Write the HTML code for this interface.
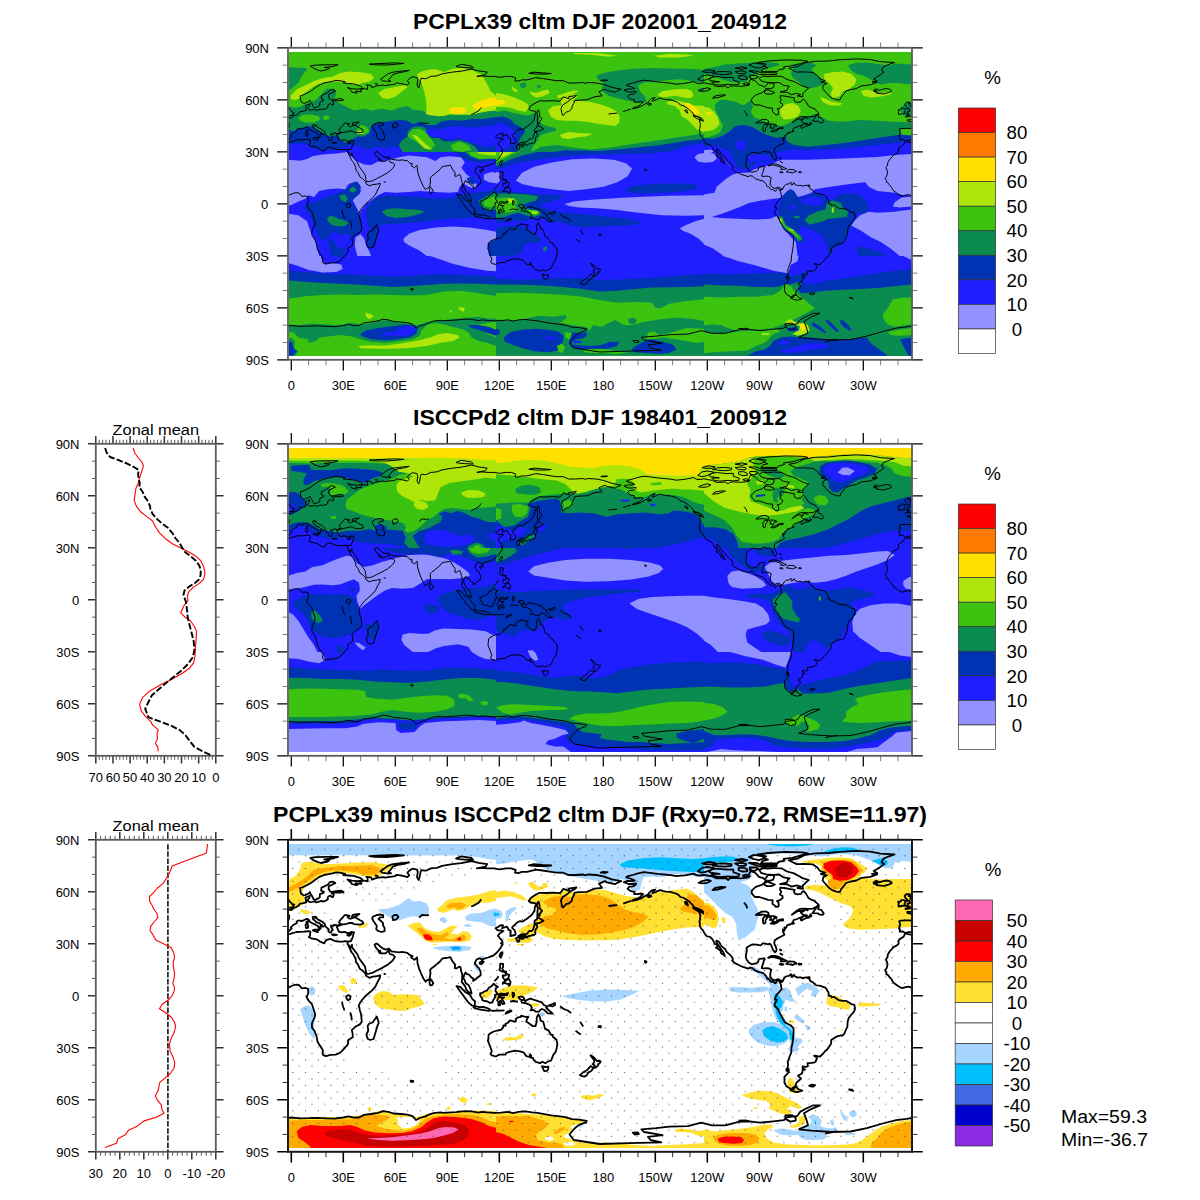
<!DOCTYPE html>
<html><head><meta charset="utf-8"><title>cltm DJF</title>
<style>html,body{margin:0;padding:0;background:#fff}svg{display:block}text{font-family:"Liberation Sans",sans-serif;fill:#000}.t12{font-size:13px}.t18{font-size:18.7px}.tt{font-size:22px;font-weight:bold}</style>
</head><body>
<svg width="1200" height="1200" viewBox="0 0 1200 1200">
<rect width="1200" height="1200" fill="#fff"/>
<clipPath id="dc0"><rect x="289" y="52" width="623" height="304"/></clipPath>
<clipPath id="tc0_00"><rect x="288" y="48" width="208" height="104"/></clipPath>
<g clip-path="url(#tc0_00)"><g clip-path="url(#dc0)">
<rect x="287.0" y="47.0" width="210.0" height="106.0" fill="#3CC30F"/>
<polygon points="288.0,106.1 294.9,107.8 301.9,106.1 307.1,103.5 315.7,100.0 322.7,93.1 327.0,88.7 334.8,88.7 336.5,93.1 333.9,100.0 340.0,103.5 346.9,106.9 353.9,110.4 364.3,108.7 371.2,110.4 381.6,108.7 392.0,110.4 398.9,107.8 407.6,106.1 412.8,109.5 421.5,110.4 430.1,113.9 438.8,116.5 447.5,114.7 454.4,115.6 463.1,114.7 471.7,114.7 478.7,113.0 487.3,111.3 496.0,110.4 496.0,152.0 288.0,152.0" fill="#0A8C50"/>
<polygon points="288.0,67.1 305.3,67.9 307.1,69.7 301.9,75.7 298.4,82.7 291.5,88.7 288.0,91.3" fill="#0A8C50"/>
<polygon points="288.0,129.5 293.2,131.2 298.4,128.6 305.3,126.9 312.3,126.0 315.7,129.5 322.7,132.9 329.6,136.4 338.3,134.7 340.0,139.9 345.2,142.5 352.1,139.9 357.3,136.4 364.3,136.4 369.5,132.9 371.2,126.0 378.1,122.5 385.1,121.7 392.0,120.8 400.7,119.9 407.6,120.8 412.8,124.3 419.7,121.7 426.7,125.1 435.3,125.1 440.5,121.7 450.9,119.9 461.3,120.8 471.7,119.1 482.1,119.1 496.0,117.3 496.0,152.0 288.0,152.0" fill="#0032B4"/>
<polygon points="288.0,145.1 298.4,143.3 308.8,144.2 310.5,147.7 322.7,150.3 333.1,149.4 340.0,148.5 353.9,144.2 360.8,147.7 369.5,149.4 378.1,146.8 385.1,148.5 392.0,146.8 398.9,147.7 402.4,152.0 288.0,152.0" fill="#1E1EFF"/>
<polygon points="424.9,131.2 431.9,128.6 440.5,129.5 447.5,126.9 457.9,126.0 468.3,127.7 478.7,126.9 496.0,125.1 496.0,145.1 487.3,147.7 478.7,145.1 471.7,142.5 464.8,139.9 457.9,138.1 450.9,139.9 444.0,138.1 437.1,137.3 430.1,136.4 424.9,134.7" fill="#1E1EFF"/>
<polygon points="398.9,145.1 402.4,139.9 407.6,136.4 407.6,131.2 412.8,126.9 421.5,126.0 426.7,129.5 424.9,134.7 431.9,138.1 438.8,138.1 444.0,141.6 450.9,141.6 459.6,139.9 468.3,142.5 475.2,146.8 478.7,152.0 402.4,152.0" fill="#0A8C50"/>
<polygon points="298.4,117.3 303.6,114.7 312.3,114.7 319.2,116.5 320.1,119.9 314.0,122.5 305.3,122.5 300.1,120.8" fill="#3CC30F"/>
<polygon points="322.7,116.5 328.7,115.6 329.6,119.1 324.4,119.9" fill="#3CC30F"/>
<polygon points="357.3,129.5 360.8,125.1 366.0,126.0 369.5,131.2 364.3,134.7 357.3,133.8" fill="#3CC30F"/>
<polygon points="356.5,131.2 362.5,130.9 362.9,133.8 357.3,134.1" fill="#AFE60A"/>
<polygon points="407.6,134.7 412.8,129.5 419.7,128.6 426.7,132.9 431.9,139.9 435.3,145.1 430.1,150.3 423.2,147.7 416.3,141.6 409.3,138.1" fill="#3CC30F"/>
<polygon points="411.9,134.7 416.3,135.5 426.7,145.1 431.9,149.4 424.9,148.5 418.0,141.6" fill="#AFE60A"/>
<polygon points="450.9,145.1 459.6,141.6 468.3,145.1 471.7,150.3 461.3,152.0 452.7,150.3" fill="#3CC30F"/>
<polygon points="291.5,94.8 296.7,89.6 305.3,85.3 314.0,80.9 322.7,78.3 333.1,76.6 340.0,73.1 348.7,71.4 360.8,72.3 371.2,74.0 373.8,78.3 369.5,81.8 362.5,82.7 357.3,85.3 348.7,83.5 340.0,81.8 331.3,81.8 322.7,82.7 315.7,85.3 310.5,88.7 303.6,93.9 300.1,98.3 294.9,100.0 290.6,99.1" fill="#AFE60A"/>
<polygon points="378.1,93.1 385.1,88.7 395.5,87.0 405.9,85.3 407.6,87.0 402.4,91.3 395.5,96.5 388.5,99.1 382.5,98.3" fill="#AFE60A"/>
<polygon points="417.1,74.0 421.5,71.4 428.4,69.7 435.3,69.1 444.0,71.9 452.7,68.8 461.3,67.4 471.7,70.2 480.4,74.0 483.9,78.3 487.3,84.4 490.8,91.3 496.0,95.7 496.0,110.4 487.3,111.3 478.7,113.0 471.7,114.7 461.3,114.7 450.9,113.9 444.0,115.9 437.1,115.9 430.1,115.3 425.8,113.9 426.7,106.9 425.8,100.0 424.1,91.3 421.5,82.7 418.0,77.5" fill="#AFE60A"/>
<polygon points="449.2,108.7 454.4,106.9 464.8,107.8 466.5,112.1 459.6,113.9 450.9,113.5" fill="#FFE100"/>
<polygon points="471.7,106.1 478.7,101.7 487.3,98.3 496.0,97.4 496.0,105.2 487.3,106.9 476.9,109.5" fill="#FFE100"/>
</g></g>
<clipPath id="tc0_10"><rect x="496" y="48" width="208" height="104"/></clipPath>
<g clip-path="url(#tc0_10)"><g clip-path="url(#dc0)">
<rect x="495.0" y="47.0" width="210.0" height="106.0" fill="#3CC30F"/>
<polygon points="596.5,75.7 603.5,73.1 617.3,70.5 634.7,68.8 652.0,67.9 669.3,68.5 686.7,68.8 704.0,69.7 704.0,82.7 695.3,81.8 686.7,80.1 678.0,79.2 669.3,80.1 660.7,80.9 652.0,81.8 643.3,82.7 638.1,85.3 639.9,91.3 645.1,96.5 646.8,101.7 641.6,103.5 632.9,101.7 624.3,100.0 617.3,98.3 608.7,95.7 603.5,92.2 601.7,87.9 603.5,82.7 598.3,80.1" fill="#0A8C50"/>
<polygon points="697.9,88.7 704.0,88.2 704.0,91.3 698.8,91.0" fill="#0A8C50"/>
<polygon points="496.0,93.1 502.9,93.9 511.6,96.5 520.3,100.0 527.2,103.5 528.9,107.8 525.5,112.1 518.5,110.4 509.9,107.8 502.9,106.9 496.0,106.9" fill="#AFE60A"/>
<polygon points="496.0,100.0 502.9,100.0 506.4,102.6 501.2,105.2 496.0,105.2" fill="#FFE100"/>
<polygon points="496.0,112.1 504.7,110.4 513.3,113.0 522.0,114.7 528.9,115.6 535.9,112.1 539.3,116.5 539.3,122.5 546.3,126.0 554.9,127.7 556.7,130.3 548.0,132.9 541.1,134.7 537.6,139.9 534.1,145.1 530.7,152.0 496.0,152.0" fill="#0A8C50"/>
<polygon points="496.0,117.3 502.9,116.5 509.9,119.1 515.1,124.3 522.0,127.7 525.5,131.2 520.3,138.1 518.5,145.1 516.8,152.0 496.0,152.0" fill="#0032B4"/>
<polygon points="496.0,122.5 506.7,125.0 515.1,131.7 516.6,141.6 506.7,148.4 501.2,152.0 496.0,152.0" fill="#1E1EFF"/>
<polygon points="530.7,152.0 541.1,146.8 556.7,145.1 574.0,147.7 591.3,149.4 608.7,147.7 626.0,145.1 643.3,142.5 660.7,139.9 678.0,137.3 695.3,134.7 704.0,133.8 704.0,152.0" fill="#0A8C50"/>
<polygon points="553.2,152.0 565.3,150.3 600.0,151.1 634.7,147.7 660.7,145.1 686.7,140.7 704.0,139.0 704.0,152.0" fill="#0032B4"/>
<polygon points="669.3,152.0 686.7,145.9 704.0,143.3 704.0,152.0" fill="#1E1EFF"/>
<polygon points="548.0,110.4 553.2,106.1 561.9,105.2 560.1,100.0 565.3,96.5 574.0,93.9 577.5,95.7 572.3,101.7 579.2,100.9 589.6,101.7 600.0,104.3 610.4,107.8 617.3,112.1 619.9,117.3 619.1,122.5 615.6,126.0 606.9,125.1 596.5,123.4 586.1,121.7 575.7,120.8 565.3,120.8 556.7,119.9 550.6,116.5" fill="#AFE60A"/>
<polygon points="560.1,134.7 568.8,132.1 579.2,132.9 593.1,133.8 586.1,136.4 577.5,137.3 568.8,139.0 561.9,138.1" fill="#AFE60A"/>
<polygon points="511.6,86.1 515.1,88.7 518.5,91.3 515.1,92.2 512.5,89.6" fill="#AFE60A"/>
<polygon points="529.8,91.3 535.9,93.1 542.8,90.5 548.0,89.6 549.7,93.1 542.8,96.5 535.9,97.4 531.5,94.8" fill="#AFE60A"/>
<polygon points="556.7,95.7 565.3,93.1 574.0,90.5 579.2,91.0 572.3,93.9 565.3,96.5 558.4,98.3" fill="#AFE60A"/>
<polygon points="574.0,52.9 600.0,53.2 617.3,55.8 608.7,56.7 593.1,54.9 574.0,54.1" fill="#AFE60A"/>
<polygon points="653.7,55.8 669.3,54.1 686.7,54.6 693.6,55.8 678.0,57.5 660.7,57.5" fill="#AFE60A"/>
<polygon points="657.2,94.8 662.4,91.3 672.8,89.6 686.7,88.7 691.9,91.3 693.6,95.7 690.1,98.3 683.2,97.4 676.3,95.7 669.3,96.5 662.4,97.4" fill="#AFE60A"/>
<polygon points="666.7,101.7 676.3,100.0 684.9,102.6 691.9,105.2 704.0,106.1 704.0,132.1 697.1,129.5 691.9,124.3 686.7,119.1 681.5,116.5 679.7,110.4 674.5,106.1 667.6,104.3" fill="#AFE60A"/>
<polygon points="684.9,102.6 690.1,103.5 697.1,108.7 699.7,113.9 695.3,114.7 690.1,110.4 685.8,106.1" fill="#FFE100"/>
<polygon points="520.3,83.5 524.6,82.3 526.9,85.3 523.7,88.7 520.3,87.0" fill="#0A8C50"/>
<polygon points="536.7,85.3 541.1,85.3 540.2,87.9 537.3,87.5" fill="#0A8C50"/>
</g></g>
<clipPath id="tc0_20"><rect x="704" y="48" width="208" height="104"/></clipPath>
<g clip-path="url(#tc0_20)"><g clip-path="url(#dc0)">
<rect x="703.0" y="47.0" width="210.0" height="106.0" fill="#3CC30F"/>
<polygon points="704.0,68.8 714.4,67.1 724.8,64.5 738.7,63.6 752.5,62.7 762.9,61.9 776.8,62.7 780.3,64.5 773.3,67.1 762.9,69.7 756.0,74.0 749.1,77.5 747.3,80.9 738.7,82.7 730.0,81.8 721.3,79.2 714.4,75.7 704.0,74.0" fill="#0A8C50"/>
<polygon points="790.7,64.5 801.1,63.6 811.5,62.7 816.7,65.3 811.5,68.8 814.9,74.0 821.9,79.2 823.6,84.4 816.7,87.0 808.0,88.7 802.8,85.3 797.6,80.9 792.4,77.5 790.7,72.3 794.1,68.8" fill="#0A8C50"/>
<polygon points="847.9,65.3 856.5,62.7 868.7,62.7 880.8,64.5 891.2,65.3 894.7,63.6 912.0,64.5 912.0,84.4 901.6,83.5 891.2,82.7 880.8,84.4 875.6,82.7 870.4,79.2 863.5,75.7 856.5,74.0 851.3,70.5" fill="#0A8C50"/>
<polygon points="714.4,105.2 719.6,100.0 726.5,100.0 735.2,101.7 743.9,105.2 750.8,100.0 753.4,105.2 750.8,112.1 754.3,117.3 762.9,120.8 773.3,124.3 782.0,126.0 794.1,120.8 801.1,117.3 808.0,116.5 814.9,113.9 821.9,117.3 828.8,120.8 842.7,121.7 860.0,119.9 877.3,120.8 894.7,121.7 912.0,122.5 912.0,152.0 704.0,152.0 704.0,138.1 710.9,136.4 719.6,132.9 723.1,126.0 719.6,119.1 716.1,112.1" fill="#0A8C50"/>
<polygon points="704.0,138.1 712.7,139.0 721.3,136.4 730.0,131.2 735.2,126.0 743.9,125.1 752.5,126.9 759.5,131.2 766.4,134.7 776.8,138.1 785.5,136.4 787.2,141.6 794.1,145.1 808.0,146.8 825.3,145.1 842.7,143.3 860.0,140.7 877.3,138.1 894.7,135.5 912.0,132.9 912.0,152.0 704.0,152.0" fill="#0032B4"/>
<polygon points="735.2,145.1 738.7,140.7 743.9,140.7 746.5,145.1 743.9,150.3 738.7,150.6" fill="#1E1EFF"/>
<polygon points="704.0,146.8 714.4,145.1 726.5,150.3 731.7,152.0 704.0,152.0" fill="#1E1EFF"/>
<polygon points="778.5,152.0 790.7,149.4 808.0,150.3 842.7,148.5 877.3,145.1 899.9,142.5 912.0,139.9 912.0,152.0" fill="#1E1EFF"/>
<polygon points="704.0,150.3 710.9,149.4 714.4,152.0 704.0,152.0" fill="#9191FF"/>
<polygon points="704.0,106.9 709.2,107.8 714.4,112.1 717.9,117.3 719.6,124.3 714.4,129.5 707.5,131.2 704.0,131.2" fill="#AFE60A"/>
<polygon points="706.6,112.1 710.9,112.1 711.8,114.7 707.5,115.3" fill="#FFE100"/>
<polygon points="780.3,108.7 785.5,104.3 792.4,103.1 798.5,106.1 800.7,111.3 797.6,116.5 790.7,119.1 783.7,119.4 780.3,114.7" fill="#AFE60A"/>
<polygon points="823.6,74.0 832.3,72.3 842.7,71.4 851.3,74.0 856.5,79.2 854.8,84.4 849.6,88.7 842.7,91.3 839.2,96.5 832.3,98.3 830.5,93.9 833.1,87.9 828.8,82.7 824.5,79.2" fill="#AFE60A"/>
<polygon points="820.1,96.5 825.3,99.1 832.3,101.7 842.7,103.5 839.2,105.5 828.8,105.2 822.7,101.7" fill="#AFE60A"/>
<polygon points="860.9,91.3 866.9,89.6 873.9,91.3 879.1,93.4 887.7,92.2 892.1,91.3 890.3,94.5 880.8,96.5 870.4,97.4 863.5,95.7" fill="#AFE60A"/>
<polygon points="899.9,108.7 905.1,103.5 912.0,101.7 912.0,117.3 903.3,115.6" fill="#0A8C50"/>
<polygon points="900.7,129.5 912.0,128.6 912.0,135.5 901.6,134.7" fill="#3CC30F"/>
</g></g>
<clipPath id="tc0_01"><rect x="288" y="152" width="208" height="104"/></clipPath>
<g clip-path="url(#tc0_01)"><g clip-path="url(#dc0)">
<rect x="287.0" y="151.0" width="210.0" height="106.0" fill="#1E1EFF"/>
<polygon points="288.0,159.8 300.1,160.7 307.1,158.9 312.3,156.3 322.7,154.6 336.5,153.4 347.8,152.0 350.4,155.5 357.3,161.5 364.3,164.5 371.2,165.0 378.1,161.5 385.1,160.7 392.0,159.3 398.9,157.2 409.3,155.5 426.7,157.2 435.3,161.0 440.5,157.2 449.2,156.3 461.3,157.2 464.8,162.4 461.3,167.6 466.5,174.5 471.7,178.0 476.9,184.9 474.3,188.4 468.3,186.7 463.1,183.2 459.6,186.7 457.9,191.9 449.2,192.7 435.3,191.9 419.7,191.0 409.3,191.9 395.5,192.7 385.1,191.9 378.1,195.3 371.2,200.5 366.0,204.0 360.8,210.9 359.1,216.1 357.3,209.2 353.9,202.3 350.4,198.8 355.6,195.3 360.8,191.9 359.9,184.9 355.6,181.5 348.7,184.1 345.2,189.3 336.5,188.4 327.9,189.3 319.2,191.0 314.0,197.1 308.8,195.3 305.3,198.8 298.4,201.4 291.5,204.9 288.0,205.7" fill="#9191FF"/>
<polygon points="288.0,213.5 298.4,215.3 307.1,221.3 310.5,231.7 315.7,242.1 319.2,256.0 288.0,256.0" fill="#9191FF"/>
<polygon points="403.3,238.7 409.3,233.5 419.7,230.0 435.3,227.4 452.7,226.5 470.0,227.4 487.3,230.0 496.0,231.7 496.0,256.0 426.7,256.0 419.7,250.8 409.3,245.6 404.1,242.1" fill="#9191FF"/>
<polygon points="355.6,236.9 360.8,234.3 364.3,238.7 366.0,245.6 369.5,251.7 371.2,256.0 357.3,256.0 354.7,245.6" fill="#9191FF"/>
<polygon points="483.9,174.5 490.8,171.9 496.0,172.8 496.0,183.2 489.1,182.3 483.9,179.7" fill="#9191FF"/>
<polygon points="466.5,178.0 471.7,177.1 476.1,181.5 473.5,184.9 468.3,182.3" fill="#0032B4"/>
<polygon points="303.6,207.5 308.8,204.0 317.5,200.5 327.9,197.1 336.5,193.6 346.9,189.3 352.1,183.2 357.3,181.5 360.8,186.7 359.9,193.6 353.9,198.8 352.1,202.3 357.3,209.2 360.8,217.9 362.5,228.3 357.3,233.5 352.1,236.9 348.7,242.1 345.2,249.1 343.5,256.0 331.3,256.0 329.6,249.1 328.7,242.1 329.6,235.2 326.1,238.7 320.9,240.4 317.5,233.5 314.0,224.8 310.5,216.1 307.1,210.9" fill="#0032B4"/>
<polygon points="327.0,217.9 331.3,215.3 338.3,218.7 345.2,220.5 348.7,223.1 345.2,225.7 338.3,226.5 331.3,224.8 327.9,221.3" fill="#0A8C50"/>
<polygon points="339.1,195.3 345.2,194.5 347.8,198.8 345.2,202.3 340.9,199.7" fill="#0A8C50"/>
<polygon points="349.5,188.4 353.9,186.7 356.5,190.1 353.0,192.7 350.1,191.5" fill="#0A8C50"/>
<polygon points="329.6,233.5 336.5,232.6 341.7,235.2 346.9,233.5 350.4,236.9 346.9,243.9 343.5,249.1 338.3,248.2 334.8,242.1 330.5,238.7" fill="#1E1EFF"/>
<polygon points="366.0,209.2 371.2,202.3 378.1,197.1 388.5,195.3 402.4,196.2 419.7,197.1 437.1,198.8 452.7,197.9 461.3,194.5 471.7,192.7 482.1,191.9 496.0,189.3 496.0,219.6 485.6,218.7 475.2,217.0 461.3,217.9 447.5,218.7 433.6,220.5 419.7,222.2 405.9,223.1 392.0,223.9 381.6,224.8 374.7,228.3 369.5,228.3 366.9,221.3" fill="#0032B4"/>
<polygon points="381.6,211.8 386.8,208.9 395.5,208.3 409.3,209.2 419.7,210.1 424.9,211.8 418.0,214.4 407.6,217.0 395.5,217.9 386.8,216.1" fill="#0A8C50"/>
<polygon points="366.9,233.5 371.2,228.3 376.4,226.5 379.0,231.7 376.4,240.4 372.9,246.5 368.6,247.3 366.9,240.4" fill="#0032B4"/>
<polygon points="478.7,200.5 483.9,197.9 490.8,193.6 496.0,192.7 496.0,209.2 490.8,210.9 483.9,209.2 479.5,204.9" fill="#0A8C50"/>
<polygon points="483.0,202.3 487.3,198.8 493.4,196.2 496.0,196.2 496.0,205.7 489.1,207.5 484.7,205.7" fill="#3CC30F"/>
<polygon points="454.4,152.0 461.3,157.2 468.3,160.7 478.7,162.4 487.3,161.5 496.0,160.7 496.0,152.0" fill="#0032B4"/>
<polygon points="464.8,152.0 470.0,156.3 478.7,159.8 487.3,158.9 496.0,157.2 496.0,152.0" fill="#0A8C50"/>
<polygon points="468.3,152.0 471.7,156.3 480.4,158.9 489.1,158.6 496.0,158.9 496.0,152.0" fill="#3CC30F"/>
<polygon points="476.9,152.0 479.5,154.1 487.3,155.1 496.0,155.5 496.0,152.0" fill="#AFE60A"/>
<polygon points="487.3,243.9 492.5,240.4 496.0,239.5 496.0,256.0 489.1,256.0" fill="#0032B4"/>
</g></g>
<clipPath id="tc0_11"><rect x="496" y="152" width="208" height="104"/></clipPath>
<g clip-path="url(#tc0_11)"><g clip-path="url(#dc0)">
<rect x="495.0" y="151.0" width="210.0" height="106.0" fill="#1E1EFF"/>
<polygon points="515.9,180.6 522.0,172.8 534.1,166.7 551.5,162.4 572.3,159.3 593.1,158.6 613.9,159.8 626.0,163.3 632.1,168.5 627.7,176.3 617.3,182.3 603.5,186.7 586.1,189.3 568.8,191.0 551.5,189.3 534.1,186.7 522.0,184.1" fill="#9191FF"/>
<polygon points="564.5,204.0 574.0,201.4 591.3,199.7 617.3,197.9 643.3,196.7 669.3,195.7 704.0,195.3 704.0,215.3 686.7,215.8 662.4,215.3 638.1,212.7 617.3,210.1 596.5,208.3 579.2,207.5 568.8,206.1" fill="#9191FF"/>
<polygon points="679.7,228.3 686.7,224.8 695.3,221.3 704.0,218.7 704.0,243.9 698.8,238.7 690.1,233.5 683.2,230.9" fill="#9191FF"/>
<polygon points="694.5,157.2 697.9,154.1 704.0,152.9 704.0,162.4 697.9,161.5" fill="#9191FF"/>
<polygon points="496.0,171.9 500.3,172.8 499.5,181.5 496.0,184.1" fill="#9191FF"/>
<polygon points="496.0,232.6 498.6,233.5 497.7,238.7 496.0,238.7" fill="#9191FF"/>
<polygon points="496.0,152.0 658.9,152.0 652.0,153.4 617.3,154.1 582.7,155.1 556.7,157.2 530.7,160.7 513.3,164.1 502.9,167.6 496.0,169.3" fill="#0032B4"/>
<polygon points="496.0,152.0 537.6,152.0 522.0,155.5 509.9,159.8 501.2,164.1 496.0,165.9" fill="#0A8C50"/>
<polygon points="496.0,152.0 518.5,152.0 509.9,155.5 501.2,160.7 496.0,162.4" fill="#3CC30F"/>
<polygon points="499.5,152.0 513.3,152.0 506.4,155.5 500.3,158.1" fill="#AFE60A"/>
<polygon points="625.1,189.3 634.7,185.8 652.0,184.1 669.3,183.5 686.7,183.2 697.1,184.9 695.3,189.3 678.0,191.9 660.7,192.7 643.3,193.3 631.2,192.7" fill="#0032B4"/>
<polygon points="496.0,190.1 506.4,191.0 522.0,192.7 539.3,194.5 556.7,195.0 565.3,196.2 554.9,200.5 544.5,203.1 539.3,205.7 548.0,209.2 556.7,211.8 568.8,212.7 586.1,214.4 608.7,217.0 631.2,219.6 641.6,222.2 634.7,224.8 617.3,225.7 600.0,226.5 582.7,227.4 568.8,224.8 558.4,221.3 553.2,223.1 548.0,220.5 541.1,217.9 530.7,219.6 522.0,221.3 513.3,220.5 506.4,221.3 496.0,223.1" fill="#0032B4"/>
<polygon points="496.0,193.6 509.9,193.6 527.2,194.5 538.5,196.2 535.9,200.5 527.2,203.1 522.0,205.7 530.7,209.2 539.3,210.9 541.1,214.4 534.1,217.0 525.5,215.3 518.5,212.7 511.6,214.4 504.7,217.0 496.0,217.9" fill="#0A8C50"/>
<polygon points="496.0,198.8 504.7,197.4 515.1,198.5 517.7,202.3 515.1,205.7 518.5,210.1 511.6,211.8 504.7,212.7 499.5,210.9 496.0,211.8" fill="#3CC30F"/>
<polygon points="528.1,210.1 535.9,210.1 539.3,212.7 535.0,215.3 528.9,213.5" fill="#3CC30F"/>
<polygon points="507.3,198.5 513.3,198.5 514.2,202.3 509.0,203.1" fill="#AFE60A"/>
<polygon points="531.5,211.3 537.6,211.8 537.3,214.1 532.1,213.5" fill="#AFE60A"/>
<polygon points="496.0,228.3 504.7,226.5 516.8,225.7 527.2,228.3 535.9,233.5 541.1,238.7 539.3,243.9 530.7,242.1 523.7,245.6 522.0,252.5 513.3,256.0 496.0,256.0" fill="#0032B4"/>
<polygon points="542.8,247.3 547.1,246.5 546.3,250.8 543.1,251.1" fill="#0A8C50"/>
</g></g>
<clipPath id="tc0_21"><rect x="704" y="152" width="208" height="104"/></clipPath>
<g clip-path="url(#tc0_21)"><g clip-path="url(#dc0)">
<rect x="703.0" y="151.0" width="210.0" height="106.0" fill="#9191FF"/>
<polygon points="714.4,152.0 912.0,152.0 912.0,154.1 894.7,155.1 877.3,156.9 842.7,158.6 808.0,159.8 782.0,159.8 776.8,161.5 769.9,165.0 761.2,167.6 754.3,169.3 749.1,172.5 738.7,173.1 733.5,169.3 728.3,164.1 721.3,157.2" fill="#1E1EFF"/>
<polygon points="730.0,152.0 775.1,152.0 775.9,157.2 773.3,159.8 764.7,161.5 756.0,162.4 752.5,166.7 747.3,169.3 740.4,169.3 736.1,165.9 733.5,158.9" fill="#0032B4"/>
<polygon points="747.3,156.3 756.0,154.6 769.9,155.5 771.6,158.9 762.9,160.7 754.3,161.5 749.1,162.4 746.5,159.8" fill="#1E1EFF"/>
<polygon points="704.0,152.0 714.4,152.0 721.3,157.2 728.3,164.1 733.5,169.3 738.7,173.1 733.3,174.2 726.7,178.3 716.7,186.7 714.4,192.7 704.0,194.5" fill="#1E1EFF"/>
<polygon points="704.0,152.0 710.9,152.0 716.1,155.5 716.7,158.9 712.7,162.1 704.0,162.7" fill="#9191FF"/>
<polygon points="711.8,217.0 724.8,212.7 738.7,207.5 749.1,203.1 761.2,200.5 773.3,198.8 780.3,197.9 785.5,192.7 790.7,189.3 794.1,191.0 797.6,197.1 804.5,195.3 811.5,192.7 814.9,189.3 825.3,187.5 842.7,184.9 856.5,183.2 865.2,182.3 868.7,186.7 877.3,191.0 894.7,192.7 903.3,195.3 912.0,195.3 912.0,196.7 901.6,197.4 894.7,202.3 892.9,206.6 899.9,207.5 912.0,206.6 912.0,209.2 894.7,211.8 877.3,212.7 868.7,211.8 860.0,215.3 854.8,220.5 851.3,225.7 860.0,230.0 870.4,236.9 880.8,242.1 891.2,249.1 899.9,256.0 828.8,256.0 797.6,256.0 796.7,249.1 795.9,242.1 790.7,236.9 783.7,228.3 778.5,219.6 776.8,216.1 769.9,218.7 756.0,219.6 738.7,218.7 721.3,217.9" fill="#1E1EFF"/>
<polygon points="782.9,197.1 787.2,191.0 790.7,189.3 794.1,191.9 798.5,197.9 806.3,196.2 814.9,192.7 821.9,195.3 827.1,200.5 832.3,199.7 840.9,193.6 851.3,193.6 860.0,195.3 866.9,202.3 869.5,209.2 865.2,212.7 856.5,213.5 854.8,219.6 851.3,224.8 847.9,233.5 844.4,242.1 837.5,246.5 832.3,250.8 828.8,256.0 827.1,250.8 827.9,245.6 825.3,242.1 821.9,235.2 814.9,231.7 808.0,228.3 801.1,225.7 797.6,233.5 802.8,238.7 804.5,242.1 799.3,243.0 794.1,235.2 788.9,230.0 783.7,224.8 780.3,217.9 778.5,210.9 780.3,202.3" fill="#0032B4"/>
<polygon points="801.1,199.7 808.0,197.4 814.9,196.2 821.9,198.8 823.6,204.0 814.9,205.7 808.0,204.0 802.8,204.0" fill="#1E1EFF"/>
<polygon points="788.9,205.7 794.1,204.9 797.6,208.3 792.4,210.1" fill="#1E1EFF"/>
<polygon points="804.5,220.5 808.0,216.1 816.7,211.8 825.3,209.2 827.1,203.1 832.3,200.5 840.9,203.1 842.7,207.5 847.9,211.8 847.0,217.0 837.5,217.9 828.8,218.7 823.6,221.3 816.7,223.1 809.7,224.8" fill="#0A8C50"/>
<polygon points="794.1,216.1 799.3,216.1 799.7,217.9 794.5,218.2" fill="#0A8C50"/>
<polygon points="778.9,215.8 782.3,216.5 785.8,224.5 791.0,227.9 796.2,231.4 801.4,236.6 802.5,239.7 798.5,241.6 793.8,235.5 786.9,230.3 780.6,223.4" fill="#0A8C50"/>
<polygon points="780.3,217.5 781.8,218.2 784.8,225.5 790.1,229.1 795.3,232.6 799.7,237.6 799.0,239.0 794.3,234.9 788.2,230.5 782.2,224.1" fill="#3CC30F"/>
<polygon points="779.7,217.9 781.5,218.7 782.3,222.2 780.3,221.3" fill="#AFE60A"/>
<polygon points="788.9,228.3 793.3,229.7 794.1,231.4 789.8,230.3" fill="#AFE60A"/>
<polygon points="831.9,207.5 833.7,207.5 833.7,212.7 831.9,212.7" fill="#AFE60A"/>
<polygon points="856.5,248.2 860.0,246.5 870.4,249.1 880.8,252.5 887.7,256.0 860.0,256.0 857.4,252.5" fill="#0032B4"/>
<polygon points="704.0,244.7 712.7,248.2 721.3,254.3 723.1,256.0 704.0,256.0" fill="#1E1EFF"/>
</g></g>
<clipPath id="tc0_02"><rect x="288" y="256" width="208" height="104"/></clipPath>
<g clip-path="url(#tc0_02)"><g clip-path="url(#dc0)">
<rect x="287.0" y="255.0" width="210.0" height="106.0" fill="#3CC30F"/>
<polygon points="288.0,256.0 496.0,256.0 496.0,295.9 478.7,293.3 461.3,290.7 444.0,291.5 435.3,293.3 426.7,295.0 409.3,295.5 392.0,295.0 374.7,294.5 357.3,295.0 340.0,294.5 322.7,295.0 305.3,296.2 296.7,297.6 288.0,298.5" fill="#0A8C50"/>
<polygon points="288.0,256.0 496.0,256.0 496.0,284.6 478.7,283.7 461.3,283.4 444.0,283.7 426.7,285.1 409.3,286.3 392.0,286.9 374.7,285.8 357.3,284.6 340.0,283.7 322.7,282.9 305.3,281.7 288.0,280.3" fill="#0032B4"/>
<polygon points="288.0,256.0 496.0,256.0 496.0,275.9 478.7,275.4 461.3,274.7 444.0,274.2 426.7,274.7 409.3,275.9 392.0,276.5 374.7,275.4 357.3,274.7 340.0,274.2 322.7,273.3 305.3,271.9 288.0,270.7" fill="#1E1EFF"/>
<polygon points="288.0,262.9 296.7,265.5 308.8,269.9 322.7,272.5 336.5,271.9 342.6,269.0 341.7,264.7 333.1,262.9 325.3,263.8 321.8,259.5 320.9,256.0 288.0,256.0" fill="#9191FF"/>
<polygon points="430.1,256.0 440.5,259.5 452.7,263.8 470.0,268.1 487.3,270.7 496.0,271.3 496.0,256.0" fill="#9191FF"/>
<polygon points="325.3,263.8 321.8,259.5 320.9,256.0 345.2,256.0 344.3,260.3 338.3,262.9 331.3,263.3" fill="#1E1EFF"/>
<polygon points="336.5,256.0 343.5,256.0 340.9,258.1" fill="#0032B4"/>
<polygon points="288.0,324.5 298.4,325.3 310.5,323.6 326.1,324.5 340.0,325.3 350.4,322.7 360.8,324.5 369.5,323.6 378.1,321.0 388.5,320.1 398.9,322.7 409.3,323.6 416.3,325.3 424.9,322.7 437.1,321.0 450.9,319.3 464.8,318.1 478.7,316.7 487.3,318.4 496.0,318.7 496.0,321.9 487.3,322.7 478.7,324.5 470.0,325.3 461.3,327.1 450.9,325.3 444.0,324.5 435.3,322.7 426.7,325.3 421.5,330.5 419.7,335.7 412.8,339.2 400.7,340.9 385.1,342.7 371.2,341.8 360.8,339.2 352.1,336.6 340.0,334.9 327.9,336.6 319.2,337.5 315.7,340.9 308.8,342.7 307.9,339.2 298.4,337.5 293.2,332.3 288.0,332.3" fill="#0A8C50"/>
<polygon points="444.0,324.5 454.4,322.7 468.3,324.5 478.7,328.8 487.3,334.0 496.0,337.5 496.0,346.1 487.3,342.7 478.7,340.9 471.7,337.5 468.3,332.3 461.3,328.8 452.7,327.1" fill="#0A8C50"/>
<polygon points="468.3,325.3 478.7,325.0 489.1,327.1 496.0,329.7 496.0,335.7 487.3,333.1 478.7,329.7 471.7,327.9" fill="#0032B4"/>
<polygon points="359.9,334.0 366.0,330.5 378.1,327.9 392.0,326.2 405.9,324.5 414.5,325.3 418.0,328.8 416.3,334.0 409.3,337.5 398.9,339.2 385.1,340.4 371.2,339.2 362.5,336.6" fill="#0032B4"/>
<polygon points="381.6,334.0 386.8,332.3 395.5,331.4 398.9,327.9 407.6,326.2 414.5,327.1 415.4,331.4 409.3,334.9 400.7,336.1 392.0,335.4 385.1,335.7" fill="#1E1EFF"/>
<polygon points="288.0,339.2 291.5,337.5 294.9,340.9 294.1,347.9 298.4,351.3 294.9,355.7 288.0,355.7" fill="#0A8C50"/>
<polygon points="288.0,340.9 292.3,342.7 293.2,347.9 296.7,351.3 293.2,355.7 288.0,355.7" fill="#0032B4"/>
<polygon points="358.2,346.1 371.2,345.3 385.1,345.8 400.7,343.5 416.3,340.9 430.1,337.5 438.8,334.0 447.5,333.1 457.9,334.9 459.6,337.5 452.7,340.9 440.5,342.7 426.7,346.1 409.3,347.9 392.0,348.7 374.7,348.7 360.8,348.2" fill="#AFE60A"/>
<polygon points="365.1,312.3 373.8,315.8 369.5,319.3 366.3,316.7" fill="#AFE60A"/>
<polygon points="458.7,307.1 464.8,308.0 463.9,311.8 459.6,310.1" fill="#AFE60A"/>
<polygon points="449.2,310.1 451.8,311.1 450.9,312.9" fill="#AFE60A"/>
</g></g>
<clipPath id="tc0_12"><rect x="496" y="256" width="208" height="104"/></clipPath>
<g clip-path="url(#tc0_12)"><g clip-path="url(#dc0)">
<rect x="495.0" y="255.0" width="210.0" height="106.0" fill="#3CC30F"/>
<polygon points="496.0,256.0 704.0,256.0 704.0,299.3 686.7,301.1 669.3,303.7 660.7,308.0 655.5,308.0 652.0,302.8 634.7,301.9 617.3,302.8 600.0,300.2 582.7,296.7 565.3,295.0 548.0,294.1 530.7,293.3 513.3,292.7 496.0,293.3" fill="#0A8C50"/>
<polygon points="496.0,256.0 704.0,256.0 704.0,286.3 686.7,286.9 669.3,287.2 652.0,287.5 634.7,288.9 617.3,290.7 600.0,291.5 582.7,288.9 565.3,287.2 548.0,285.8 530.7,285.1 513.3,284.6 496.0,284.6" fill="#0032B4"/>
<polygon points="496.0,256.0 704.0,256.0 704.0,274.2 686.7,275.1 669.3,276.5 652.0,277.7 634.7,278.5 617.3,279.4 600.0,280.3 582.7,278.2 565.3,277.7 548.0,278.5 530.7,279.4 513.3,279.4 496.0,278.5" fill="#1E1EFF"/>
<polygon points="580.9,282.0 586.1,279.4 593.1,275.1 598.3,270.7 600.0,273.3 594.8,278.5 587.9,283.7 582.7,285.5" fill="#0032B4"/>
<polygon points="496.0,319.3 509.9,321.0 522.0,319.3 539.3,315.8 553.2,316.7 565.3,314.9 567.1,317.5 560.1,322.7 572.3,325.3 586.1,327.1 589.6,330.5 593.1,325.3 601.7,327.1 608.7,322.7 615.6,320.1 622.5,324.5 627.7,325.3 634.7,324.5 643.3,321.9 660.7,319.3 678.0,317.5 695.3,319.3 704.0,321.0 704.0,328.8 686.7,327.9 678.0,330.5 669.3,333.1 658.9,334.9 652.0,333.1 648.5,336.6 641.6,338.3 652.0,339.2 662.4,337.5 676.3,339.2 686.7,340.9 697.1,342.7 704.0,341.8 704.0,355.7 496.0,355.7" fill="#0A8C50"/>
<polygon points="582.7,350.5 593.1,348.7 606.9,349.6 617.3,351.3 627.7,352.2 617.3,353.9 600.0,353.1 586.1,352.7" fill="#3CC30F"/>
<polygon points="665.9,337.5 678.0,336.6 690.1,338.3 704.0,339.2 704.0,341.8 697.1,342.7 686.7,340.9 676.3,339.2" fill="#3CC30F"/>
<polygon points="564.5,332.3 572.3,333.1 573.1,338.3 568.8,339.2 565.3,337.5" fill="#3CC30F"/>
<polygon points="556.7,346.1 561.9,343.5 565.3,347.0 562.7,353.1 557.5,351.3" fill="#3CC30F"/>
<polygon points="648.5,332.3 654.6,331.4 658.9,334.9 652.0,337.5 646.8,336.6" fill="#3CC30F"/>
<polygon points="503.8,337.5 509.9,332.3 522.0,329.7 535.9,328.8 548.0,329.7 558.4,331.4 563.6,335.7 562.7,342.7 556.7,346.1 558.4,350.5 548.0,352.2 534.1,351.3 522.0,347.9 511.6,344.4 504.7,341.8" fill="#0032B4"/>
<polygon points="544.5,337.5 549.7,336.1 554.9,337.5 554.1,339.5 548.0,340.1" fill="#1E1EFF"/>
<polygon points="496.0,328.8 499.5,329.7 499.5,334.0 496.0,334.9" fill="#0032B4"/>
<polygon points="572.3,332.3 579.2,333.1 586.1,332.3 587.0,335.7 582.7,338.3 577.5,339.2 572.3,341.8 572.3,344.4 579.2,345.3 589.6,346.1 600.0,345.3 610.4,341.8 619.1,341.8 617.3,346.1 606.9,348.7 593.1,348.7 582.7,349.6 572.3,347.9 568.8,343.5 570.5,337.5" fill="#0032B4"/>
<polygon points="573.1,340.9 580.9,340.6 581.8,342.7 574.0,343.2" fill="#1E1EFF"/>
<polygon points="631.2,349.6 638.1,344.4 645.1,340.9 652.0,339.2 662.4,341.8 672.8,344.4 676.3,349.6 669.3,353.1 658.9,353.9 645.1,353.1 634.7,352.2" fill="#0032B4"/>
<polygon points="641.6,350.5 646.8,349.6 648.5,351.7 643.3,352.2" fill="#1E1EFF"/>
<polygon points="627.7,319.3 632.9,317.5 637.3,320.1 634.7,324.5 629.5,323.6" fill="#0A8C50"/>
</g></g>
<clipPath id="tc0_22"><rect x="704" y="256" width="208" height="104"/></clipPath>
<g clip-path="url(#tc0_22)"><g clip-path="url(#dc0)">
<rect x="703.0" y="255.0" width="210.0" height="106.0" fill="#0A8C50"/>
<polygon points="704.0,296.7 721.3,297.6 738.7,296.7 756.0,296.7 773.3,295.0 780.3,290.7 785.5,284.6 790.7,285.5 794.1,290.7 801.1,296.7 808.0,302.8 814.9,308.0 808.0,312.3 801.1,315.8 794.1,319.3 787.2,322.7 780.3,325.3 773.3,327.9 756.0,329.7 738.7,330.5 730.0,328.8 721.3,325.3 712.7,324.5 704.0,325.3" fill="#3CC30F"/>
<polygon points="704.0,332.3 714.4,334.0 724.8,333.1 738.7,331.4 756.0,330.5 776.8,328.8 780.3,331.4 773.3,334.0 769.9,337.5 764.7,342.7 756.0,346.1 747.3,350.5 730.0,351.3 712.7,352.2 704.0,353.1" fill="#3CC30F"/>
<polygon points="882.5,314.9 887.7,308.0 892.9,299.3 903.3,297.6 912.0,297.6 912.0,324.5 903.3,325.3 894.7,327.1 887.7,324.5 884.3,320.1" fill="#3CC30F"/>
<polygon points="887.7,332.3 898.1,329.7 912.0,327.9 912.0,334.9 899.9,335.7 891.2,334.9" fill="#3CC30F"/>
<polygon points="704.0,256.0 912.0,256.0 912.0,284.6 894.7,286.3 877.3,288.1 860.0,288.9 842.7,289.8 825.3,290.7 811.5,292.4 801.1,293.3 797.6,288.9 801.1,283.7 797.6,282.0 790.7,284.6 785.5,283.7 780.3,286.3 773.3,287.2 756.0,286.9 738.7,285.8 721.3,285.5 704.0,284.6" fill="#0032B4"/>
<polygon points="704.0,256.0 912.0,256.0 912.0,269.0 894.7,270.7 877.3,273.3 860.0,275.9 842.7,278.5 825.3,281.1 814.9,283.7 808.0,284.6 802.8,282.0 806.3,275.1 811.5,269.9 801.1,273.3 790.7,276.8 787.2,273.3 773.3,272.5 756.0,273.3 738.7,274.2 721.3,274.2 704.0,273.3" fill="#1E1EFF"/>
<polygon points="723.1,256.0 798.5,256.0 797.6,261.2 790.7,264.7 788.1,273.3 773.3,270.7 756.0,265.5 738.7,261.2" fill="#9191FF"/>
<polygon points="903.3,256.0 912.0,256.0 912.0,260.3" fill="#9191FF"/>
<polygon points="784.6,321.9 790.7,319.3 798.5,323.6 803.7,322.7 808.0,325.3 809.7,330.5 804.5,334.0 797.6,335.7 792.4,334.0 798.5,330.5 800.2,326.2 794.1,324.5 787.2,324.5" fill="#AFE60A"/>
<polygon points="799.3,324.5 804.5,324.5 806.3,327.9 802.8,330.5 800.2,327.9" fill="#FFE100"/>
<polygon points="762.1,333.1 769.0,333.1 769.0,334.9 762.1,334.9" fill="#AFE60A"/>
<polygon points="769.9,346.1 773.3,340.9 780.3,337.5 790.7,336.6 801.1,337.5 811.5,337.5 825.3,339.2 842.7,340.1 856.5,338.3 866.9,337.5 870.4,342.7 877.3,347.9 884.3,353.1 887.7,355.7 747.3,355.7 756.0,351.3 764.7,349.6" fill="#0032B4"/>
<polygon points="899.9,339.2 912.0,337.5 912.0,355.7 908.5,355.7 903.3,346.1" fill="#0032B4"/>
<polygon points="778.5,341.8 785.5,340.1 790.7,342.7 785.5,345.3 780.3,344.4" fill="#1E1EFF"/>
<polygon points="780.3,350.5 790.7,347.9 801.1,345.3 811.5,342.7 821.9,343.5 830.5,346.1 823.6,348.7 811.5,349.6 801.1,351.3 790.7,353.1 782.0,352.2" fill="#1E1EFF"/>
<polygon points="811.1,323.3 813.9,322.6 820.5,326.7 826.4,331.9 824.6,333.0 818.4,329.5 812.9,326.0" fill="#0032B4"/>
<polygon points="825.3,320.8 828.1,319.8 834.3,325.7 839.2,331.6 837.1,332.3 830.5,326.7" fill="#0032B4"/>
<polygon points="839.2,320.8 842.3,320.1 848.6,325.0 851.7,329.8 848.9,330.5 843.4,326.7" fill="#0032B4"/>
<polygon points="787.2,327.9 795.9,327.1 799.3,329.7 794.1,331.4 788.1,330.9" fill="#0032B4"/>
</g></g>
<clipPath id="dc1"><rect x="289" y="448" width="623" height="304"/></clipPath>
<clipPath id="tc1_00"><rect x="288" y="444" width="208" height="104"/></clipPath>
<g clip-path="url(#tc1_00)"><g clip-path="url(#dc1)">
<rect x="287.0" y="443.0" width="210.0" height="106.0" fill="#0A8C50"/>
<polygon points="346.9,499.5 353.9,494.3 360.8,489.1 369.5,485.6 378.1,483.0 385.1,481.3 392.0,478.7 398.9,475.2 409.3,472.6 418.0,468.3 424.9,464.8 426.7,461.3 496.0,461.3 496.0,506.4 487.3,507.3 478.7,508.1 470.0,509.9 461.3,509.0 452.7,508.1 444.0,509.0 438.8,512.5 433.6,516.8 426.7,520.3 421.5,525.5 416.3,529.8 411.9,531.5 407.6,532.4 404.5,530.3 405.9,528.1 404.1,523.7 398.9,522.0 388.5,520.3 378.1,518.5 369.5,516.8 360.8,514.2 353.9,511.6 346.9,509.0 345.2,504.7" fill="#3CC30F"/>
<polygon points="320.1,484.7 325.3,483.0 333.1,483.5 340.0,484.7 345.2,487.3 348.7,491.7 345.2,494.3 338.3,493.4 334.8,496.0 329.6,494.3 331.3,489.1 327.9,486.5 322.7,487.3" fill="#3CC30F"/>
<polygon points="330.5,516.5 335.7,515.9 336.5,518.5 331.3,519.1" fill="#3CC30F"/>
<polygon points="288.0,457.9 496.0,457.9 496.0,463.1 426.7,463.1 423.2,465.7 416.3,467.4 409.3,465.7 398.9,463.9 385.1,463.4 357.3,462.7 322.7,463.1 305.3,463.4 288.0,462.7" fill="#3CC30F"/>
<polygon points="288.0,457.9 392.0,457.9 402.4,458.7 412.8,460.5 423.2,464.8 426.7,470.0 431.9,472.6 444.0,470.0 454.4,468.3 464.8,466.5 475.2,468.3 485.6,471.7 496.0,472.6 496.0,478.7 485.6,477.8 475.2,479.5 461.3,481.3 449.2,483.0 440.5,487.3 437.1,496.0 435.3,500.3 426.7,501.2 419.7,499.5 416.3,502.9 409.3,499.5 402.4,496.0 397.2,491.7 396.3,485.6 398.9,481.3 405.9,478.7 412.8,476.9 409.3,473.5 398.9,471.7 392.0,466.5 385.1,463.1 374.7,461.3 357.3,460.5 322.7,460.5 305.3,460.8 288.0,460.5" fill="#AFE60A"/>
<polygon points="461.3,492.5 468.3,489.9 478.7,490.5 485.6,493.4 483.9,496.9 475.2,498.1 466.5,497.4 462.2,495.1" fill="#AFE60A"/>
<polygon points="413.7,502.9 419.7,500.3 426.7,502.9 428.4,507.3 423.2,509.9 417.1,509.0 414.2,506.1" fill="#AFE60A"/>
<polygon points="392.0,457.9 496.0,457.9 496.0,473.5 485.6,471.7 475.2,468.3 464.8,466.5 454.4,468.3 444.0,470.0 431.9,472.6 426.7,470.0 423.2,464.8 412.8,460.5 402.4,458.7" fill="#AFE60A"/>
<polygon points="288.0,444.0 496.0,444.0 496.0,460.5 478.7,459.6 461.3,458.2 444.0,457.9 288.0,457.9" fill="#FFE100"/>
<polygon points="291.5,465.7 308.8,464.8 311.4,470.0 331.3,470.0 345.2,468.3 360.8,469.1 374.7,470.0 382.5,472.6 379.9,476.1 371.2,478.7 366.0,483.0 357.3,481.3 345.2,477.8 333.1,476.9 322.7,478.7 314.0,481.3 308.8,484.7 303.6,484.7 303.6,478.7 307.1,473.5 298.4,471.7 291.5,470.9" fill="#0032B4"/>
<polygon points="288.0,492.5 294.9,491.7 300.1,495.1 305.3,501.2 307.1,504.7 300.1,509.9 294.9,513.3 288.0,515.1" fill="#0032B4"/>
<polygon points="288.0,503.8 293.2,504.7 294.9,509.9 288.0,511.6" fill="#1E1EFF"/>
<polygon points="288.0,525.5 294.9,522.9 301.9,522.0 310.5,523.7 319.2,528.9 327.9,530.7 338.3,532.4 346.9,530.7 360.8,530.7 369.5,528.9 374.7,530.7 379.9,528.9 390.3,529.8 402.4,530.7 405.9,537.6 404.1,542.8 409.3,548.0 288.0,548.0" fill="#0032B4"/>
<polygon points="288.0,534.1 291.5,528.9 298.4,526.3 308.8,527.2 312.3,532.4 319.2,535.9 327.9,538.5 340.0,538.5 350.4,536.7 353.9,541.1 364.3,542.8 378.1,543.7 392.0,544.5 405.9,548.0 288.0,548.0" fill="#1E1EFF"/>
<polygon points="438.8,513.3 445.7,511.6 450.9,513.3 457.9,510.7 464.8,513.3 471.7,516.8 478.7,518.5 487.3,522.0 496.0,522.0 496.0,548.0 419.7,548.0 416.3,542.8 412.8,535.9 419.7,530.7 426.7,528.9 433.6,525.5 440.5,522.0 442.3,516.8" fill="#0032B4"/>
<polygon points="424.9,534.1 430.1,530.7 438.8,529.8 447.5,530.7 454.4,534.1 461.3,535.9 468.3,534.1 475.2,537.6 471.7,542.8 461.3,546.3 447.5,547.1 437.1,546.3 426.7,544.5 424.1,539.3" fill="#1E1EFF"/>
<polygon points="487.3,534.1 496.0,532.4 496.0,541.1 490.8,539.3" fill="#1E1EFF"/>
<polygon points="468.3,546.3 475.2,542.8 482.1,543.7 485.6,548.0 468.3,548.0" fill="#0A8C50"/>
<polygon points="473.5,546.3 478.7,544.5 481.3,548.0 473.5,548.0" fill="#3CC30F"/>
<polygon points="374.7,525.5 381.6,523.7 386.8,527.2 385.1,534.1 379.9,535.9 375.5,532.4" fill="#0032B4"/>
</g></g>
<clipPath id="tc1_10"><rect x="496" y="444" width="208" height="104"/></clipPath>
<g clip-path="url(#tc1_10)"><g clip-path="url(#dc1)">
<rect x="495.0" y="443.0" width="210.0" height="106.0" fill="#0032B4"/>
<polygon points="496.0,520.3 504.0,527.2 514.5,525.3 522.0,520.3 527.9,517.3 530.7,508.1 527.2,504.7 535.9,501.2 548.0,499.5 556.7,498.6 560.1,501.2 561.0,512.5 568.8,513.3 579.2,512.5 593.1,513.3 606.9,516.8 617.3,514.2 631.2,513.3 645.1,512.5 658.9,514.2 669.3,513.3 672.8,510.7 679.7,510.7 690.1,512.5 697.1,515.1 700.5,520.3 704.0,525.5 704.0,444.0 496.0,444.0" fill="#0A8C50"/>
<polygon points="496.0,503.8 506.4,502.9 516.8,502.6 527.9,502.6 530.7,500.0 535.9,496.9 548.0,495.1 558.4,494.3 568.8,492.9 577.5,494.3 586.1,492.5 594.8,489.4 603.5,487.3 610.4,487.3 620.8,489.4 629.5,494.3 634.7,496.9 643.3,497.7 652.0,493.9 662.4,494.3 672.8,495.1 683.2,496.9 691.9,501.2 698.8,503.8 704.0,504.7 704.0,444.0 496.0,444.0" fill="#3CC30F"/>
<polygon points="515.1,489.1 522.0,485.6 530.7,484.7 539.3,487.3 541.1,492.5 534.1,495.1 525.5,494.3 516.8,493.4" fill="#0A8C50"/>
<polygon points="511.9,504.7 520.3,504.0 527.9,506.4 527.2,513.3 522.0,517.3 515.1,516.8 511.9,511.6" fill="#3CC30F"/>
<polygon points="496.0,508.0 501.2,509.0 501.2,518.5 496.0,519.9" fill="#3CC30F"/>
<polygon points="562.7,502.1 568.8,499.8 573.1,502.1 570.5,507.3 564.5,508.5" fill="#3CC30F"/>
<polygon points="496.0,474.3 506.4,475.2 516.8,476.1 530.7,477.8 544.5,479.5 556.7,480.4 565.3,483.9 570.5,489.1 574.0,493.4 582.7,492.5 593.1,489.4 603.5,487.0 613.9,485.6 617.3,479.5 627.7,478.7 634.7,483.0 632.9,489.1 639.9,492.5 652.0,490.8 662.4,489.4 672.8,488.7 683.2,489.4 690.1,489.4 697.1,489.9 704.0,490.8 704.0,444.0 496.0,444.0" fill="#AFE60A"/>
<polygon points="615.6,479.5 624.3,478.7 627.7,483.0 620.8,485.6 616.5,483.9" fill="#3CC30F"/>
<polygon points="650.3,483.0 660.7,482.1 662.4,484.7 652.0,485.6" fill="#3CC30F"/>
<polygon points="496.0,463.1 506.4,462.2 516.8,460.5 530.7,459.9 544.5,460.5 556.7,463.1 568.8,466.5 582.7,467.4 593.1,467.9 603.5,465.7 617.3,465.1 631.2,466.5 641.6,470.0 646.8,474.3 669.3,475.5 698.8,475.5 700.5,467.4 704.0,465.7 704.0,444.0 496.0,444.0" fill="#FFE100"/>
<polygon points="496.0,527.2 501.2,525.5 506.4,528.9 513.3,530.7 522.0,527.2 527.2,528.9 523.7,534.1 516.8,537.6 511.6,541.1 506.4,539.3 501.2,542.8 499.5,548.0 496.0,548.0" fill="#1E1EFF"/>
<polygon points="537.6,525.5 546.3,524.6 544.5,530.7 539.3,532.4" fill="#1E1EFF"/>
<polygon points="657.2,548.0 669.3,545.4 683.2,542.8 695.3,539.3 704.0,537.6 704.0,548.0" fill="#1E1EFF"/>
<polygon points="620.8,499.8 629.5,499.5 629.5,501.5 620.8,501.5" fill="#1E1EFF"/>
<polygon points="650.3,503.8 655.5,503.8 655.5,505.9 650.3,505.9" fill="#1E1EFF"/>
<polygon points="518.5,542.8 525.5,537.6 532.4,534.1 535.9,535.9 528.9,541.1 522.0,545.4" fill="#0A8C50"/>
</g></g>
<clipPath id="tc1_20"><rect x="704" y="444" width="208" height="104"/></clipPath>
<g clip-path="url(#tc1_20)"><g clip-path="url(#dc1)">
<rect x="703.0" y="443.0" width="210.0" height="106.0" fill="#0A8C50"/>
<polygon points="704.0,493.4 714.4,502.1 724.8,508.1 735.2,510.7 745.6,513.3 756.0,515.1 766.4,515.9 776.8,515.1 787.2,513.3 797.6,511.6 808.0,508.1 814.9,509.9 816.7,513.3 808.0,516.8 801.1,520.3 794.1,525.5 787.2,528.9 782.0,534.1 778.5,539.3 769.9,542.8 756.0,543.7 742.1,541.9 736.9,535.9 731.7,527.2 724.8,520.3 714.4,515.1 704.0,510.7" fill="#3CC30F"/>
<polygon points="747.3,457.9 756.0,456.5 773.3,455.8 790.7,456.5 808.0,457.9 814.9,461.3 808.0,463.9 801.1,465.7 794.1,467.4 790.7,471.7 794.1,476.1 801.1,478.7 808.0,482.1 806.3,487.3 801.1,490.8 804.5,496.0 801.1,499.5 804.5,503.8 801.1,505.5 790.7,507.3 783.7,509.9 776.8,511.6 769.9,508.1 761.2,504.7 750.8,501.2 749.1,496.0 750.8,490.8 747.3,483.9 750.8,478.7 754.3,475.2 756.0,468.3 752.5,463.1" fill="#3CC30F"/>
<polygon points="761.2,468.3 769.9,467.4 778.5,470.0 785.5,475.2 780.3,478.7 773.3,476.9 766.4,474.3 762.1,471.7" fill="#0A8C50"/>
<polygon points="773.3,489.1 780.3,487.3 785.5,491.7 782.0,496.0 776.8,497.7 778.5,502.9 773.3,501.2 772.5,494.3" fill="#0A8C50"/>
<polygon points="756.0,495.1 764.7,494.3 765.5,496.0 756.0,496.9" fill="#0032B4"/>
<polygon points="814.1,497.7 818.4,495.1 825.3,496.0 828.8,501.2 825.3,505.5 818.4,504.7 814.9,502.1" fill="#3CC30F"/>
<polygon points="877.3,460.5 886.0,461.3 894.7,462.2 903.3,465.7 912.0,466.5 912.0,476.9 903.3,476.1 894.7,473.5 891.2,468.3 884.3,464.8 877.3,463.1 860.0,461.3 842.7,460.5 828.8,461.3 825.3,460.5 842.7,459.3 860.0,459.6" fill="#3CC30F"/>
<polygon points="704.0,465.7 721.3,463.9 738.7,461.3 747.3,457.9 756.0,458.7 752.5,463.1 756.0,468.3 754.3,475.2 750.8,478.7 747.3,483.9 750.8,490.8 749.1,496.0 750.8,501.2 761.2,504.7 769.9,508.1 776.8,511.6 783.7,509.9 790.7,507.3 801.1,505.5 804.5,508.1 797.6,511.6 787.2,513.3 776.8,515.1 766.4,515.9 756.0,515.1 745.6,513.3 735.2,510.7 724.8,508.1 714.4,502.1 704.0,493.4" fill="#AFE60A"/>
<polygon points="808.0,457.9 825.3,456.1 842.7,454.7 860.0,454.4 877.3,455.3 894.7,457.0 912.0,458.7 912.0,466.5 903.3,465.7 894.7,462.2 886.0,461.3 877.3,460.5 860.0,459.6 842.7,459.3 825.3,460.5 814.9,461.3" fill="#AFE60A"/>
<polygon points="756.0,481.3 762.9,480.4 763.8,483.9 757.7,484.7" fill="#AFE60A"/>
<polygon points="785.5,484.7 794.1,485.6 794.1,488.2 786.3,487.3" fill="#AFE60A"/>
<polygon points="704.0,444.0 912.0,444.0 912.0,458.7 894.7,457.0 877.3,455.3 860.0,454.4 842.7,454.7 825.3,456.1 808.0,457.9 790.7,456.5 773.3,455.8 756.0,456.5 747.3,457.9 738.7,461.3 721.3,463.9 704.0,465.7" fill="#FFE100"/>
<polygon points="820.1,466.5 825.3,463.1 835.7,461.3 849.6,460.5 860.0,462.2 870.4,464.8 877.3,469.1 873.9,474.3 865.2,477.8 856.5,480.4 849.6,484.7 842.7,489.1 837.5,492.5 832.3,491.7 828.8,487.3 828.8,482.1 821.9,476.9 819.3,471.7" fill="#0032B4"/>
<polygon points="823.6,467.4 830.5,463.9 842.7,463.1 854.8,463.9 865.2,466.5 870.4,470.0 863.5,474.3 854.8,476.9 847.9,480.4 840.9,483.0 834.0,481.3 830.5,476.9 825.3,473.5" fill="#1E1EFF"/>
<polygon points="837.5,472.6 842.7,467.4 847.9,467.4 854.8,470.9 849.6,475.2 842.7,474.9" fill="#9191FF"/>
<polygon points="704.0,527.2 714.4,527.2 724.8,528.9 733.5,534.1 736.9,541.1 738.7,548.0 704.0,548.0" fill="#0032B4"/>
<polygon points="704.0,537.6 710.9,538.5 717.9,544.5 719.6,548.0 704.0,548.0" fill="#1E1EFF"/>
<polygon points="787.2,540.2 801.1,537.6 814.9,534.1 828.8,528.9 839.2,523.7 849.6,518.5 860.0,511.6 870.4,506.4 884.3,502.9 898.1,499.5 912.0,496.0 912.0,548.0 776.8,548.0 780.3,542.8" fill="#0032B4"/>
<polygon points="825.3,548.0 842.7,543.7 860.0,539.3 877.3,534.1 891.2,530.7 901.6,531.5 912.0,529.8 912.0,548.0" fill="#1E1EFF"/>
</g></g>
<clipPath id="tc1_01"><rect x="288" y="548" width="208" height="104"/></clipPath>
<g clip-path="url(#tc1_01)"><g clip-path="url(#dc1)">
<rect x="287.0" y="547.0" width="210.0" height="106.0" fill="#1E1EFF"/>
<polygon points="288.0,575.7 296.7,573.1 305.3,571.4 312.3,567.1 322.7,565.3 329.6,561.9 338.3,558.4 346.9,555.8 352.1,556.7 357.3,563.6 364.3,567.1 372.9,565.3 381.6,561.9 392.0,559.3 400.7,556.7 409.3,554.9 423.2,554.6 435.3,555.8 447.5,559.3 454.4,562.7 461.3,567.1 468.3,572.3 470.0,575.7 461.3,578.3 449.2,579.2 438.8,578.9 426.7,579.2 421.5,582.7 412.8,587.9 402.4,588.7 392.0,587.9 385.1,590.5 378.1,594.8 371.2,600.0 364.3,605.2 359.9,608.7 357.3,601.7 356.5,595.7 359.9,590.5 359.1,582.7 353.9,579.2 346.9,581.8 340.0,584.4 331.3,585.3 322.7,584.4 314.0,584.7 305.3,587.0 296.7,588.7 288.0,589.6" fill="#9191FF"/>
<polygon points="288.0,612.1 293.2,614.7 298.4,620.8 303.6,629.5 308.8,638.1 314.0,645.1 317.5,652.0 288.0,652.0" fill="#9191FF"/>
<polygon points="402.4,634.7 409.3,632.9 419.7,633.8 428.4,633.8 435.3,630.3 444.0,628.6 457.9,629.1 471.7,629.5 485.6,631.2 492.5,634.7 496.0,634.7 496.0,652.0 471.7,652.0 468.3,646.8 457.9,644.2 444.0,645.9 435.3,648.5 428.4,652.0 412.8,652.0 404.1,645.1 401.5,639.9" fill="#9191FF"/>
<polygon points="354.7,642.5 359.1,643.0 366.0,647.7 362.5,650.3 357.3,645.9" fill="#9191FF"/>
<polygon points="292.3,603.5 298.4,599.1 307.1,594.8 317.5,593.9 327.9,594.8 338.3,594.5 346.9,593.9 353.9,598.3 356.5,605.2 359.1,613.9 360.8,622.5 359.9,627.7 353.9,631.2 348.7,634.7 340.0,637.3 331.3,638.1 322.7,636.4 315.7,632.9 310.5,627.7 307.1,620.8 303.6,613.9 296.7,608.7" fill="#0032B4"/>
<polygon points="311.4,611.3 314.9,610.4 320.1,615.6 322.7,620.8 319.2,622.9 314.0,621.7 311.4,616.5" fill="#0A8C50"/>
<polygon points="349.5,588.7 353.9,588.2 354.7,591.3 350.4,591.7" fill="#0032B4"/>
<polygon points="336.5,645.9 341.7,645.1 345.2,652.0 337.4,652.0" fill="#0032B4"/>
<polygon points="364.3,624.3 371.2,624.3 377.3,621.7 379.0,626.0 377.3,634.7 372.9,639.9 367.7,638.1 366.9,631.2" fill="#0032B4"/>
<polygon points="438.8,596.5 447.5,592.2 459.6,589.6 471.7,587.9 483.9,587.0 496.0,583.5 496.0,615.6 487.3,616.5 478.7,619.9 468.3,619.1 457.9,615.6 447.5,612.1 440.5,605.2 437.9,600.0" fill="#0032B4"/>
<polygon points="424.1,604.3 435.3,604.9 440.5,607.8 437.1,612.1 428.4,613.5 424.9,609.5" fill="#0032B4"/>
<polygon points="381.3,548.0 392.0,552.0 407.9,554.6 423.9,553.4 440.0,557.4 450.6,553.2 457.9,554.9 466.5,558.1 475.2,561.9 482.7,563.9 492.5,561.9 496.0,560.5 496.0,548.0" fill="#0032B4"/>
<polygon points="449.2,550.6 456.1,549.7 463.1,551.5 461.3,554.6 452.7,554.6" fill="#0A8C50"/>
<polygon points="466.5,548.0 470.0,553.2 476.9,557.5 485.6,556.7 496.0,554.1 496.0,548.0" fill="#0A8C50"/>
<polygon points="468.3,548.0 471.7,552.3 478.7,554.1 487.3,552.3 490.8,548.0" fill="#3CC30F"/>
</g></g>
<clipPath id="tc1_11"><rect x="496" y="548" width="208" height="104"/></clipPath>
<g clip-path="url(#tc1_11)"><g clip-path="url(#dc1)">
<rect x="495.0" y="547.0" width="210.0" height="106.0" fill="#1E1EFF"/>
<polygon points="528.1,571.4 534.1,566.2 548.0,562.7 565.3,560.1 586.1,558.7 608.7,558.7 631.2,560.1 648.5,562.2 659.8,565.3 663.3,568.8 658.9,573.1 648.5,576.6 631.2,579.5 608.7,581.3 586.1,581.8 565.3,580.6 548.0,577.8 534.1,575.4" fill="#9191FF"/>
<polygon points="629.5,603.5 638.1,599.1 652.0,597.1 669.3,596.2 686.7,595.7 704.0,595.7 704.0,639.9 697.1,633.8 686.7,626.9 676.3,622.5 665.9,619.1 655.5,615.6 645.1,612.1 636.4,608.7" fill="#9191FF"/>
<polygon points="496.0,548.0 563.6,548.0 548.0,551.5 534.1,554.9 522.0,558.4 511.6,561.9 502.9,564.5 496.0,565.3" fill="#0032B4"/>
<polygon points="496.0,548.0 515.1,548.0 516.8,551.5 509.9,556.7 501.2,561.0 496.0,561.9" fill="#0A8C50"/>
<polygon points="496.0,588.7 502.9,590.5 513.3,592.2 530.7,591.3 551.5,590.5 574.0,589.6 596.5,589.3 617.3,589.3 634.7,589.6 645.1,590.5 634.7,592.2 617.3,593.4 600.0,595.7 586.1,597.4 575.7,600.0 565.3,603.5 561.9,607.8 567.1,612.1 572.3,617.3 568.8,619.9 561.9,619.1 554.9,617.3 548.0,619.1 542.8,622.5 537.6,629.5 530.7,631.2 522.0,629.5 516.8,634.7 511.6,636.4 504.7,632.9 496.0,631.2" fill="#0032B4"/>
<polygon points="620.8,548.0 636.4,548.0 631.2,548.9 622.5,548.7" fill="#0032B4"/>
<polygon points="528.1,650.3 533.3,650.6 534.1,652.0 528.1,652.0" fill="#9191FF"/>
</g></g>
<clipPath id="tc1_21"><rect x="704" y="548" width="208" height="104"/></clipPath>
<g clip-path="url(#tc1_21)"><g clip-path="url(#dc1)">
<rect x="703.0" y="547.0" width="210.0" height="106.0" fill="#1E1EFF"/>
<polygon points="764.7,567.1 769.9,562.7 780.3,561.0 794.1,559.3 811.5,557.5 828.8,555.8 846.1,554.9 863.5,553.2 877.3,551.5 887.7,551.1 894.7,554.9 887.7,560.1 877.3,564.5 866.9,567.9 856.5,571.4 846.1,575.7 835.7,579.2 825.3,581.8 814.9,582.7 804.5,581.8 794.1,582.7 785.5,584.4 776.8,585.3 771.6,580.9 768.1,574.0" fill="#9191FF"/>
<polygon points="727.4,575.7 731.7,571.4 738.7,570.5 747.3,573.1 756.0,576.6 762.9,580.9 766.4,585.3 761.2,587.9 752.5,588.2 742.1,588.7 731.7,587.0 728.3,582.7" fill="#9191FF"/>
<polygon points="704.0,595.7 714.4,597.4 728.3,599.1 742.1,600.9 756.0,603.5 762.9,607.8 768.1,613.9 769.9,620.8 766.4,624.3 756.0,626.9 747.3,629.5 745.6,634.7 747.3,642.5 756.0,648.5 761.2,652.0 704.0,652.0" fill="#9191FF"/>
<polygon points="704.0,640.7 710.9,645.1 716.1,650.3 717.9,652.0 704.0,652.0" fill="#1E1EFF"/>
<polygon points="854.8,613.9 860.0,608.7 870.4,605.2 884.3,603.5 898.1,603.5 912.0,606.1 912.0,652.0 880.8,652.0 870.4,645.1 860.0,638.1 853.1,631.2 852.2,622.5" fill="#9191FF"/>
<polygon points="903.3,580.9 908.5,577.5 912.0,576.6 912.0,589.6 905.9,588.7 903.3,585.3" fill="#9191FF"/>
<polygon points="744.7,594.8 756.0,593.4 769.9,593.9 776.8,591.3 783.7,587.0 790.7,585.3 794.1,589.6 801.1,589.6 808.0,587.0 816.7,588.7 825.3,591.3 835.7,589.6 849.6,587.5 860.0,589.6 870.4,592.2 877.3,594.8 866.9,597.4 856.5,600.0 849.6,603.5 854.8,608.7 856.5,613.9 851.3,619.1 847.9,626.0 842.7,631.2 840.9,638.1 834.0,642.5 828.8,646.8 825.3,650.3 823.6,645.1 818.4,641.6 811.5,639.9 806.3,645.1 804.5,652.0 794.1,652.0 792.4,645.1 790.7,638.1 787.2,629.5 780.3,624.3 775.1,617.3 771.6,608.7 769.9,601.7 761.2,598.3 750.8,597.4" fill="#0032B4"/>
<polygon points="772.5,600.0 778.5,594.8 785.5,592.2 788.9,596.5 792.4,601.7 792.4,608.7 795.9,614.7 800.2,619.1 798.5,622.5 790.7,620.8 783.7,619.1 778.5,613.9 775.1,608.7 773.3,603.5" fill="#0A8C50"/>
<polygon points="818.9,596.5 820.7,596.5 820.7,600.5 818.9,600.5" fill="#3CC30F"/>
<polygon points="761.2,632.9 769.9,630.3 780.3,632.9 788.9,637.3 790.7,642.5 785.5,645.9 776.8,645.1 768.1,641.6 762.9,637.3" fill="#0032B4"/>
<polygon points="726.5,548.0 747.3,548.0 745.6,554.9 747.3,561.9 752.5,567.1 761.2,565.3 764.7,567.1 759.5,571.4 752.5,572.3 747.3,568.8 740.4,564.5 733.5,558.4 728.3,553.2" fill="#0032B4"/>
<polygon points="752.5,548.0 773.3,548.0 775.1,553.2 769.9,556.7 761.2,555.8 756.0,553.2" fill="#0032B4"/>
</g></g>
<clipPath id="tc1_02"><rect x="288" y="652" width="208" height="104"/></clipPath>
<g clip-path="url(#tc1_02)"><g clip-path="url(#dc1)">
<rect x="287.0" y="651.0" width="210.0" height="106.0" fill="#0A8C50"/>
<polygon points="288.0,652.0 496.0,652.0 496.0,679.7 478.7,678.0 461.3,678.0 444.0,679.4 426.7,681.5 409.3,682.9 392.0,682.3 374.7,681.5 357.3,679.7 340.0,678.9 322.7,678.9 305.3,678.0 288.0,677.7" fill="#0032B4"/>
<polygon points="288.0,652.0 496.0,652.0 496.0,669.3 478.7,668.5 461.3,667.6 444.0,667.9 435.3,669.3 426.7,670.7 409.3,670.7 392.0,670.2 383.3,669.3 374.7,670.2 357.3,670.7 340.0,670.2 322.7,669.3 305.3,668.5 288.0,666.7" fill="#1E1EFF"/>
<polygon points="288.0,652.0 321.8,652.0 325.3,659.8 319.2,663.3 308.8,661.5 298.4,658.9 288.0,658.1" fill="#9191FF"/>
<polygon points="471.7,652.0 496.0,652.0 496.0,659.8 485.6,658.9 478.7,656.3" fill="#9191FF"/>
<polygon points="337.4,652.0 344.3,652.0 341.7,654.1" fill="#0032B4"/>
<polygon points="288.0,689.3 305.3,688.4 322.7,688.7 340.0,689.3 357.3,689.8 365.1,691.0 366.0,697.1 374.7,698.5 392.0,699.7 405.9,697.9 419.7,696.2 435.3,695.3 447.5,695.7 454.4,699.7 454.4,705.7 447.5,709.2 435.3,711.8 419.7,712.7 405.9,711.8 392.0,710.1 381.6,711.8 371.2,714.4 357.3,715.8 340.0,716.5 322.7,717.0 305.3,717.0 288.0,717.0" fill="#3CC30F"/>
<polygon points="457.9,695.3 461.3,693.6 468.3,695.3 473.5,699.7 470.0,701.4 464.8,697.9 459.6,698.5" fill="#3CC30F"/>
<polygon points="480.4,702.3 483.9,700.9 488.2,702.3 487.3,704.9 482.1,705.4" fill="#3CC30F"/>
<polygon points="288.0,722.2 305.3,721.3 322.7,721.3 340.0,721.0 357.3,719.6 364.3,718.7 374.7,717.9 392.0,718.7 409.3,720.5 426.7,718.7 444.0,717.0 461.3,716.5 478.7,715.8 496.0,716.5 496.0,756.0 288.0,756.0" fill="#0032B4"/>
<polygon points="288.0,723.9 322.7,723.4 345.2,723.9 357.3,722.2 364.3,720.5 378.1,719.3 395.5,719.9 412.8,721.3 426.7,719.9 444.0,718.4 461.3,717.9 478.7,717.2 496.0,717.9 496.0,756.0 288.0,756.0" fill="#1E1EFF"/>
<polygon points="288.0,729.1 322.7,728.3 345.2,728.3 357.3,726.5 362.5,723.9 378.1,722.2 395.5,723.1 396.3,730.0 400.7,733.1 414.5,732.1 419.7,726.5 424.9,723.1 444.0,721.3 461.3,720.8 478.7,720.1 496.0,721.0 496.0,756.0 288.0,756.0" fill="#9191FF"/>
<polygon points="398.9,722.2 412.8,722.7 418.0,723.9 415.4,728.3 409.3,730.0 400.7,729.1 398.1,725.7" fill="#0032B4"/>
</g></g>
<clipPath id="tc1_12"><rect x="496" y="652" width="208" height="104"/></clipPath>
<g clip-path="url(#tc1_12)"><g clip-path="url(#dc1)">
<rect x="495.0" y="651.0" width="210.0" height="106.0" fill="#0A8C50"/>
<polygon points="496.0,652.0 704.0,652.0 704.0,686.7 686.7,687.5 669.3,688.4 652.0,689.3 634.7,691.0 617.3,693.3 603.5,692.2 589.6,691.5 572.3,691.0 554.9,689.3 537.6,686.7 520.3,684.1 506.4,682.3 496.0,681.8" fill="#0032B4"/>
<polygon points="496.0,652.0 704.0,652.0 704.0,661.5 686.7,662.1 669.3,662.7 652.0,664.1 634.7,666.7 620.8,669.3 613.9,672.8 606.9,676.3 596.5,678.0 586.1,677.7 577.5,675.4 565.3,676.3 553.2,677.7 541.1,676.3 530.7,674.5 520.3,672.8 509.9,671.4 496.0,670.7" fill="#1E1EFF"/>
<polygon points="528.1,652.0 535.0,652.0 538.5,659.8 535.0,660.7 530.7,657.2" fill="#9191FF"/>
<polygon points="496.0,707.5 502.9,704.9 513.3,704.3 530.7,704.9 548.0,705.7 565.3,707.1 568.8,708.9 561.9,710.1 548.0,710.1 530.7,710.9 520.3,712.7 509.9,714.4 502.9,712.7" fill="#3CC30F"/>
<polygon points="568.8,718.7 575.7,715.3 586.1,713.5 600.0,713.5 613.9,712.7 627.7,710.1 641.6,706.6 655.5,704.0 669.3,701.9 686.7,701.4 704.0,701.9 704.0,720.5 695.3,722.2 686.7,723.1 669.3,723.4 652.0,724.5 634.7,725.1 617.3,726.2 603.5,725.7 593.1,724.8 586.1,723.1 577.5,721.3" fill="#3CC30F"/>
<polygon points="496.0,718.7 506.4,717.0 516.8,716.1 530.7,717.5 541.1,718.7 553.2,720.5 565.3,722.2 574.0,723.9 577.5,728.3 582.7,732.1 593.1,733.5 601.7,734.3 600.0,737.8 606.9,739.5 617.3,740.4 627.7,742.1 641.6,742.1 652.0,743.0 669.3,743.9 686.7,743.0 704.0,742.1 704.0,756.0 496.0,756.0" fill="#0032B4"/>
<polygon points="496.0,720.5 509.9,719.9 523.7,719.6 537.6,721.3 551.5,723.9 565.3,726.5 568.8,733.5 565.3,736.9 568.8,742.1 579.2,743.9 593.1,745.6 606.9,746.5 620.8,747.3 634.7,749.1 652.0,749.9 669.3,750.8 704.0,749.9 704.0,756.0 496.0,756.0" fill="#1E1EFF"/>
<polygon points="496.0,724.8 506.4,723.9 520.3,722.2 523.7,720.5 530.7,723.1 541.1,724.8 554.9,727.4 565.3,730.0 568.8,733.5 561.9,735.2 554.9,738.7 548.0,740.4 545.4,743.9 554.9,746.5 563.6,746.5 570.5,751.7 572.3,756.0 496.0,756.0" fill="#9191FF"/>
<polygon points="568.8,733.5 574.0,732.6 579.2,733.5 586.1,733.1 593.1,733.5 601.7,734.3 600.0,737.8 593.1,740.4 582.7,742.1 572.3,741.3 568.8,737.8" fill="#0032B4"/>
<polygon points="676.3,733.5 686.7,730.9 697.1,730.0 704.0,729.1 704.0,738.7 693.6,743.0 683.2,740.4 677.1,737.8" fill="#0032B4"/>
<polygon points="601.7,734.3 613.9,735.2 627.7,736.9 641.6,737.8 648.5,738.7 641.6,740.4 627.7,741.3 617.3,740.4 606.9,739.5 600.0,737.8" fill="#0A8C50"/>
</g></g>
<clipPath id="tc1_22"><rect x="704" y="652" width="208" height="104"/></clipPath>
<g clip-path="url(#tc1_22)"><g clip-path="url(#dc1)">
<rect x="703.0" y="651.0" width="210.0" height="106.0" fill="#0A8C50"/>
<polygon points="704.0,652.0 912.0,652.0 912.0,678.0 894.7,680.6 877.3,683.2 860.0,685.8 842.7,689.3 828.8,692.7 814.9,693.6 802.8,693.6 797.6,689.3 790.7,691.9 785.5,688.4 783.7,683.2 776.8,684.1 764.7,686.7 747.3,687.5 730.0,687.5 714.4,686.7 704.0,686.7" fill="#0032B4"/>
<polygon points="704.0,652.0 912.0,652.0 912.0,660.7 894.7,660.7 877.3,661.5 866.9,665.9 856.5,671.1 842.7,675.4 828.8,678.0 814.9,681.5 804.5,684.1 799.3,685.8 794.1,688.4 790.7,681.5 787.2,669.3 780.3,668.5 769.9,666.7 756.0,664.1 738.7,662.4 721.3,662.4 704.0,663.3" fill="#1E1EFF"/>
<polygon points="730.0,652.0 790.7,652.0 788.9,658.9 785.5,667.6 776.8,665.0 762.9,659.8 745.6,656.3" fill="#9191FF"/>
<polygon points="889.5,652.0 912.0,652.0 912.0,656.9 899.9,655.5" fill="#9191FF"/>
<polygon points="704.0,703.1 714.4,704.0 723.1,707.5 727.4,711.8 721.3,716.1 712.7,718.7 704.0,720.5" fill="#3CC30F"/>
<polygon points="854.8,698.8 866.9,695.3 880.8,692.7 894.7,691.0 912.0,689.3 912.0,720.5 894.7,721.3 877.3,722.2 860.0,723.1 847.9,722.2 841.8,721.3 846.1,717.0 846.1,711.8 851.3,707.5 858.3,704.0" fill="#3CC30F"/>
<polygon points="783.7,720.5 790.7,718.7 798.5,714.4 806.3,717.0 814.9,720.5 820.1,724.8 818.4,729.1 811.5,730.9 806.3,731.7 809.7,726.5 806.3,721.3 801.1,722.2 797.6,725.7 788.9,725.7" fill="#3CC30F"/>
<polygon points="704.0,730.9 714.4,735.2 728.3,734.9 742.1,734.3 756.0,734.9 769.9,736.9 780.3,739.5 794.1,741.3 808.0,742.1 825.3,742.1 842.7,741.3 856.5,738.7 870.4,735.2 880.8,730.0 891.2,727.4 901.6,726.5 912.0,725.7 912.0,756.0 704.0,756.0" fill="#0032B4"/>
<polygon points="714.4,740.4 728.3,738.7 742.1,737.8 756.0,738.7 768.1,741.3 773.3,745.6 785.5,747.3 801.1,748.2 818.4,749.1 835.7,748.2 853.1,745.6 866.9,743.0 877.3,740.4 887.7,736.9 894.7,731.7 912.0,730.0 912.0,756.0 704.0,756.0 704.0,749.1 712.7,745.6" fill="#1E1EFF"/>
<polygon points="704.0,752.5 714.4,750.5 721.3,749.1 731.7,749.9 745.6,750.8 759.5,751.1 773.3,751.7 808.0,753.4 842.7,753.4 856.5,749.1 866.9,748.2 877.3,747.3 884.3,742.1 891.2,736.9 896.4,732.6 912.0,730.9 912.0,756.0 704.0,756.0" fill="#9191FF"/>
</g></g>
<clipPath id="dc2"><rect x="289" y="844" width="623" height="304"/></clipPath>
<clipPath id="tc2_00"><rect x="288" y="840" width="208" height="104"/></clipPath>
<g clip-path="url(#tc2_00)"><g clip-path="url(#dc2)">
<rect x="287.0" y="839.0" width="210.0" height="106.0" fill="#FFFFFF"/>
<polygon points="288.0,843.8 496.0,843.8 496.0,859.9 487.3,859.1 478.7,857.3 470.0,855.9 461.3,855.6 288.0,855.3" fill="#A6D5FF"/>
<polygon points="288.0,879.9 294.9,876.4 300.1,869.5 301.9,862.5 310.5,861.7 322.7,864.3 340.0,863.4 357.3,862.5 374.7,862.2 385.1,864.3 395.5,865.1 392.0,867.7 386.8,870.3 382.5,874.7 374.7,877.3 364.3,876.4 357.3,874.7 346.9,872.9 336.5,872.6 326.1,873.8 317.5,877.3 310.5,882.5 305.3,886.8 301.9,892.0 305.3,898.9 303.6,904.1 298.4,906.7 294.9,909.3 288.0,908.5" fill="#FFE033"/>
<polygon points="288.0,887.7 294.9,884.2 303.6,879.0 310.5,872.9 314.0,869.5 326.1,867.7 340.0,866.0 357.3,865.7 371.2,865.1 379.9,867.7 380.7,872.1 374.7,874.7 364.3,874.7 355.6,872.1 345.2,870.9 334.8,870.3 324.4,872.1 315.7,875.5 308.8,880.7 300.1,886.8 293.2,890.3 288.0,892.0" fill="#FFAA00"/>
<polygon points="300.1,909.3 307.1,910.2 311.4,912.8 305.3,914.5 301.0,911.9" fill="#FFE033"/>
<polygon points="357.3,925.8 364.3,924.9 367.7,922.3 368.6,924.1 365.1,927.5 359.1,928.1" fill="#FFE033"/>
<polygon points="378.1,909.3 388.5,908.5 398.9,905.0 405.9,899.8 409.3,898.1 412.8,901.5 419.7,900.7 426.7,903.3 429.3,909.3 428.4,914.5 421.5,917.1 412.8,916.3 405.9,918.0 398.9,920.6 392.0,918.9 385.1,914.5 379.9,911.9" fill="#A6D5FF"/>
<polygon points="437.1,908.5 442.3,905.0 445.7,900.7 454.4,898.1 468.3,896.3 478.7,894.6 489.1,891.1 496.0,890.3 496.0,900.7 489.1,902.4 478.7,903.3 470.0,905.9 464.8,909.3 457.9,911.1 452.7,909.3 449.2,911.1 444.0,912.8 438.8,911.9" fill="#FFE033"/>
<polygon points="445.7,906.7 450.9,903.3 461.3,902.4 466.5,905.0 463.1,908.5 457.9,909.3 454.4,906.7 449.2,908.5" fill="#FFAA00"/>
<polygon points="464.8,917.1 470.0,913.7 482.1,912.8 490.8,909.3 496.0,908.5 496.0,926.7 489.1,925.8 482.1,922.3 473.5,921.5 466.5,920.6" fill="#A6D5FF"/>
<polygon points="493.4,912.8 496.0,912.5 496.0,916.3 493.9,915.9" fill="#00BFFF"/>
<polygon points="439.7,918.0 444.0,917.1 447.5,920.6 444.9,923.2 440.5,921.5" fill="#A6D5FF"/>
<polygon points="463.9,924.4 470.0,924.1 471.7,926.7 464.8,926.7" fill="#A6D5FF"/>
<polygon points="407.6,925.8 412.8,923.2 419.7,922.3 424.9,928.4 431.9,931.0 438.8,931.9 445.7,928.4 450.9,925.8 457.9,925.8 454.4,929.3 450.9,933.6 457.9,934.5 463.1,931.0 468.3,931.9 471.7,936.2 470.0,940.5 461.3,942.3 450.9,941.4 440.5,942.3 431.9,943.1 424.9,940.5 419.7,935.3 412.8,930.1" fill="#FFE033"/>
<polygon points="416.3,928.4 421.5,927.5 426.7,931.9 433.6,934.5 440.5,935.3 447.5,931.9 449.2,934.5 444.0,937.9 450.9,939.7 457.9,937.1 463.1,934.5 466.5,937.1 464.8,940.5 454.4,941.4 444.0,940.5 433.6,940.5 426.7,938.8 421.5,934.5" fill="#FFAA00"/>
<polygon points="423.2,934.5 428.4,934.5 431.9,937.1 432.7,940.5 426.7,940.2 424.1,937.9" fill="#FF0000"/>
<polygon points="457.0,938.8 460.5,937.1 461.3,940.2 457.5,940.5" fill="#FF0000"/>
</g></g>
<clipPath id="tc2_10"><rect x="496" y="840" width="208" height="104"/></clipPath>
<g clip-path="url(#tc2_10)"><g clip-path="url(#dc2)">
<rect x="495.0" y="839.0" width="210.0" height="106.0" fill="#FFFFFF"/>
<polygon points="496.0,843.8 704.0,843.8 704.0,877.3 695.3,876.4 686.7,874.7 678.0,873.8 669.3,875.5 660.7,877.3 652.0,876.4 643.3,877.3 641.6,883.3 639.9,889.4 634.7,892.0 631.2,888.5 632.9,883.3 627.7,880.7 620.8,879.0 615.6,881.6 610.4,883.3 603.5,881.6 596.5,880.7 586.1,879.0 575.7,877.3 565.3,875.5 554.9,872.1 546.3,869.5 539.3,866.0 535.9,861.7 530.7,859.4 522.0,860.5 513.3,861.7 504.7,863.4 496.0,864.3" fill="#A6D5FF"/>
<polygon points="619.9,864.3 627.7,860.5 643.3,858.2 660.7,857.3 678.0,858.2 691.9,859.1 704.0,858.2 704.0,872.1 691.9,872.1 678.0,871.2 660.7,870.3 643.3,868.6 629.5,867.7 621.7,866.9" fill="#00BFFF"/>
<polygon points="527.2,900.7 535.9,895.5 548.0,892.9 558.4,892.0 568.8,890.3 574.0,892.0 586.1,891.1 600.0,889.4 608.7,891.1 617.3,893.7 627.7,896.3 638.1,897.2 648.5,895.5 658.9,892.0 669.3,890.3 679.7,889.4 686.7,888.5 693.6,892.0 698.8,897.2 704.0,900.7 704.0,926.7 686.7,927.5 669.3,930.1 652.0,933.6 634.7,937.1 617.3,939.7 600.0,940.2 582.7,940.5 565.3,939.7 553.2,938.8 544.5,936.2 537.6,932.7 534.1,927.5 535.9,921.5 539.3,914.5 537.6,907.6 532.4,903.3" fill="#FFE033"/>
<polygon points="496.0,892.0 504.7,890.6 513.3,892.0 522.0,895.5 527.2,899.8 523.7,900.7 516.8,898.1 509.9,896.3 502.9,897.2 496.0,898.1" fill="#FFE033"/>
<polygon points="518.5,930.1 523.7,926.7 530.7,923.2 535.0,924.9 535.9,931.9 530.7,937.1 533.3,939.7 528.9,943.1 520.3,943.1 515.1,941.4 508.1,941.4 507.3,938.8 515.1,937.9 520.3,934.5" fill="#FFE033"/>
<polygon points="528.1,883.3 532.4,881.6 537.6,885.9 541.9,886.8 542.8,883.3 547.1,883.0 548.0,886.8 544.5,888.5 539.3,890.3 534.1,890.3 529.8,886.8" fill="#FFE033"/>
<polygon points="515.1,882.5 517.7,882.5 517.7,884.2 515.1,884.2" fill="#FFE033"/>
<polygon points="542.8,901.5 551.5,897.2 561.9,895.5 570.5,897.2 575.7,894.6 586.1,894.6 600.0,895.5 610.4,898.9 617.3,904.1 624.3,909.3 632.9,911.9 643.3,913.7 648.5,917.1 643.3,921.5 634.7,926.7 624.3,930.1 610.4,932.7 596.5,934.5 582.7,935.0 568.8,933.6 558.4,931.0 548.0,928.4 541.1,924.9 539.3,919.7 544.5,916.3 553.2,914.5 556.7,909.3 549.7,906.7 544.5,904.1" fill="#FFAA00"/>
<polygon points="679.7,908.5 684.9,904.1 686.7,897.2 690.1,893.7 697.1,895.5 702.3,900.7 704.0,902.4 704.0,914.5 697.1,913.7 688.4,912.8 681.5,911.1" fill="#FFAA00"/>
<polygon points="505.5,911.1 509.9,908.5 515.1,906.7 516.8,908.5 512.5,911.9 509.0,916.3 508.1,921.5 505.5,920.6 505.5,915.4" fill="#A6D5FF"/>
<polygon points="496.0,909.3 500.3,910.2 502.9,913.7 501.2,918.0 496.0,918.9" fill="#A6D5FF"/>
<polygon points="496.0,912.8 499.1,913.1 499.5,915.4 496.0,915.9" fill="#00BFFF"/>
</g></g>
<clipPath id="tc2_20"><rect x="704" y="840" width="208" height="104"/></clipPath>
<g clip-path="url(#tc2_20)"><g clip-path="url(#dc2)">
<rect x="703.0" y="839.0" width="210.0" height="106.0" fill="#FFFFFF"/>
<polygon points="704.0,843.8 912.0,843.8 912.0,861.7 903.3,861.1 894.7,862.5 892.9,867.7 886.0,868.6 880.8,866.0 873.9,861.7 866.9,859.1 860.0,856.5 853.1,854.7 842.7,853.9 832.3,854.7 821.9,856.5 811.5,855.6 801.1,854.7 790.7,853.9 780.3,853.5 769.9,854.2 761.2,855.6 754.3,856.5 750.8,859.9 754.3,866.0 750.8,871.2 752.5,876.4 747.3,879.9 740.4,882.5 747.3,885.1 752.5,890.3 750.8,895.5 754.3,902.4 757.7,909.3 758.6,916.3 756.0,924.9 754.3,930.1 745.6,937.1 738.7,940.5 736.9,933.6 736.1,923.2 731.7,916.3 724.8,912.8 717.9,905.9 712.7,900.7 707.5,895.5 704.0,892.0" fill="#A6D5FF"/>
<polygon points="704.0,858.2 710.9,857.3 721.3,856.5 731.7,856.5 738.7,858.2 731.7,861.7 721.3,862.5 710.9,862.5 704.0,862.2" fill="#00BFFF"/>
<polygon points="764.7,843.8 814.9,843.8 808.0,845.5 790.7,846.6 776.8,846.1" fill="#00BFFF"/>
<polygon points="823.6,851.8 832.3,848.7 842.7,847.3 853.1,847.8 860.0,850.4 851.3,852.1 839.2,853.0 828.8,853.5" fill="#00BFFF"/>
<polygon points="872.1,860.5 880.8,858.2 887.7,860.8 886.9,865.1 882.5,866.0 877.3,863.4" fill="#00BFFF"/>
<polygon points="801.1,861.7 811.5,859.9 825.3,858.2 839.2,857.3 851.3,858.2 858.3,862.5 866.9,867.7 865.2,872.1 858.3,876.4 870.4,879.0 880.8,879.5 894.7,879.0 912.0,879.0 912.0,926.7 894.7,928.4 877.3,929.3 860.0,929.8 847.9,928.4 842.7,924.9 846.1,921.5 851.3,916.3 853.1,909.3 849.6,905.9 840.9,903.3 832.3,898.9 825.3,895.5 818.4,892.0 811.5,890.3 804.5,888.5 806.3,885.9 814.9,884.7 825.3,885.4 828.8,881.6 823.6,877.3 820.1,871.2 821.9,866.0 814.9,863.4 806.3,863.4" fill="#FFE033"/>
<polygon points="823.6,861.7 832.3,859.9 846.1,859.4 854.8,861.7 860.0,867.7 863.5,870.3 858.3,874.7 851.3,879.0 844.4,882.5 839.2,888.5 834.0,889.4 828.8,885.9 827.9,881.6 832.3,877.3 825.3,872.9 821.9,867.7" fill="#FFAA00"/>
<polygon points="823.6,863.4 830.5,861.1 842.7,860.5 851.3,862.2 856.5,866.9 859.1,871.2 854.8,876.4 847.9,879.9 839.2,880.7 833.1,879.0 832.3,874.7 827.1,871.2 823.6,867.7" fill="#FF0000"/>
<polygon points="837.5,866.0 842.7,862.5 849.6,863.4 853.1,867.7 852.2,873.8 846.1,877.3 839.2,877.3 835.7,872.9 834.9,868.6" fill="#C80000"/>
<polygon points="704.0,902.4 709.2,903.3 714.4,907.6 717.9,912.8 718.7,919.7 717.0,926.7 712.7,928.4 707.5,924.9 704.0,924.9" fill="#FFE033"/>
<polygon points="704.0,905.0 709.2,905.9 712.7,909.3 716.1,914.5 717.0,918.9 712.7,919.7 707.5,918.0 704.0,918.9" fill="#FFAA00"/>
<polygon points="721.3,918.0 724.8,917.1 725.7,922.3 722.7,923.2" fill="#FFE033"/>
</g></g>
<clipPath id="tc2_01"><rect x="288" y="944" width="208" height="104"/></clipPath>
<g clip-path="url(#tc2_01)"><g clip-path="url(#dc2)">
<rect x="287.0" y="943.0" width="210.0" height="106.0" fill="#FFFFFF"/>
<polygon points="372.9,997.7 376.4,993.4 382.5,991.1 388.5,991.7 393.7,995.1 400.7,994.3 409.3,994.6 418.0,995.1 421.5,999.5 424.9,1003.8 419.7,1006.4 412.8,1008.1 405.9,1010.7 397.2,1010.7 388.5,1009.5 379.9,1008.1 375.5,1004.7" fill="#FFE033"/>
<polygon points="350.1,979.5 353.0,977.8 355.9,979.5 357.0,983.5 351.3,983.9" fill="#FFE033"/>
<polygon points="337.4,986.5 343.5,984.7 348.7,991.7 346.1,992.9 341.7,990.8" fill="#FFE033"/>
<polygon points="480.4,994.3 487.3,991.1 492.5,989.9 491.7,994.3 487.3,997.7 483.0,998.6" fill="#FFE033"/>
<polygon points="308.8,988.2 312.3,986.1 315.4,989.1 314.9,994.3 311.4,995.7 308.8,992.5" fill="#A6D5FF"/>
<polygon points="300.1,1009.0 304.5,1006.1 309.7,1005.5 314.0,1011.6 314.9,1018.5 314.0,1027.2 315.7,1034.1 314.0,1039.0 309.7,1034.1 305.3,1025.5 302.7,1016.8" fill="#A6D5FF"/>
<polygon points="431.9,947.8 440.5,946.6 450.9,945.7 461.3,945.7 471.7,947.1 470.0,950.1 459.6,951.8 449.2,951.3 438.8,950.1" fill="#A6D5FF"/>
<polygon points="450.1,947.1 456.1,946.1 461.3,947.1 460.5,950.1 452.7,950.6" fill="#00BFFF"/>
<polygon points="453.5,947.5 458.7,947.5 458.7,948.9 453.5,948.9" fill="#4169E1"/>
<polygon points="478.7,957.0 483.0,955.3 484.7,957.9 481.3,959.6" fill="#A6D5FF"/>
<polygon points="472.6,963.9 475.2,964.8 478.7,970.0 477.8,972.6 475.2,968.3" fill="#A6D5FF"/>
<polygon points="432.7,944.0 437.1,944.0 436.7,944.9 432.7,944.9" fill="#FFE033"/>
</g></g>
<clipPath id="tc2_11"><rect x="496" y="944" width="208" height="104"/></clipPath>
<g clip-path="url(#tc2_11)"><g clip-path="url(#dc2)">
<rect x="495.0" y="943.0" width="210.0" height="106.0" fill="#FFFFFF"/>
<polygon points="561.9,996.0 574.0,993.4 589.6,990.8 606.9,989.4 624.3,989.9 639.9,990.8 631.2,995.1 620.8,999.5 606.9,1001.5 591.3,1001.2 577.5,999.8 567.1,998.1" fill="#A6D5FF"/>
<polygon points="496.0,991.7 502.9,988.2 511.6,985.6 523.7,985.3 537.6,987.3 534.1,991.1 527.2,994.3 522.0,996.0 518.5,999.5 511.6,1000.3 502.9,999.5 496.0,1000.3" fill="#FFE033"/>
<polygon points="529.8,1003.8 536.7,1002.9 540.2,1005.0 536.7,1006.7 531.5,1006.4" fill="#FFE033"/>
<polygon points="502.9,1038.5 509.9,1036.7 515.1,1037.6 521.1,1034.1 524.1,1035.9 520.3,1039.3 513.3,1040.2 506.4,1040.7" fill="#FFE033"/>
<polygon points="540.2,1012.5 543.7,1011.9 545.4,1014.7 542.5,1016.5 539.7,1015.1" fill="#A6D5FF"/>
<polygon points="516.8,944.0 525.5,944.0 522.0,945.4 517.7,945.0" fill="#FFE033"/>
</g></g>
<clipPath id="tc2_21"><rect x="704" y="944" width="208" height="104"/></clipPath>
<g clip-path="url(#tc2_21)"><g clip-path="url(#dc2)">
<rect x="703.0" y="943.0" width="210.0" height="106.0" fill="#FFFFFF"/>
<polygon points="729.1,987.3 738.7,987.3 752.5,987.7 762.9,986.5 769.0,987.3 768.1,990.8 761.2,992.2 749.1,992.5 736.9,992.5 730.0,991.1" fill="#A6D5FF"/>
<polygon points="748.2,966.5 754.3,966.5 761.2,970.9 767.3,976.9 773.3,983.0 778.5,984.7 780.3,989.1 785.5,987.3 790.7,990.8 792.4,997.7 795.9,1001.2 790.7,1002.1 785.5,999.5 783.7,1003.8 782.9,1009.9 780.3,1012.5 783.7,1016.8 787.2,1022.0 790.7,1025.5 794.1,1030.7 795.0,1037.6 801.1,1038.5 802.8,1041.1 798.5,1046.3 797.6,1048.0 790.7,1048.0 789.8,1041.1 785.5,1034.1 782.0,1025.5 776.8,1020.3 773.3,1013.3 771.6,1004.7 769.9,996.0 768.1,990.8 770.7,985.6 766.4,981.3 761.2,976.9 756.0,972.6 749.9,970.0" fill="#A6D5FF"/>
<polygon points="774.2,994.3 777.7,993.4 780.3,997.7 782.9,1001.2 782.0,1006.4 778.5,1009.9 780.3,1015.1 782.9,1020.3 785.5,1025.5 790.7,1028.9 793.3,1034.1 793.3,1041.1 790.7,1040.2 788.9,1034.1 784.6,1028.9 780.3,1022.9 776.8,1016.8 775.1,1008.1 774.2,1001.2" fill="#00BFFF"/>
<polygon points="749.1,1028.9 754.3,1024.6 762.9,1022.3 773.3,1022.0 782.0,1024.6 788.9,1030.7 789.8,1037.6 785.5,1042.8 776.8,1046.3 766.4,1045.4 757.7,1042.8 751.7,1037.6 748.7,1032.4" fill="#A6D5FF"/>
<polygon points="762.1,1030.7 766.4,1027.2 773.3,1026.3 780.3,1028.9 786.3,1033.3 788.1,1038.5 783.7,1041.4 776.8,1042.5 769.9,1040.2 764.7,1036.7" fill="#00BFFF"/>
<polygon points="796.7,987.3 802.8,983.9 808.0,982.5 814.9,986.5 820.1,990.8 814.9,996.9 810.6,996.0 812.3,990.8 808.0,988.2 802.8,991.7 798.5,996.0 796.7,992.5" fill="#A6D5FF"/>
<polygon points="794.1,1015.9 798.5,1015.4 804.5,1021.1 803.7,1023.7 799.3,1022.0 795.0,1018.5" fill="#A6D5FF"/>
<polygon points="804.5,1024.6 808.9,1025.5 810.6,1029.8 807.1,1030.3" fill="#A6D5FF"/>
<polygon points="784.6,1006.4 787.2,1007.3 787.2,1011.6 784.6,1010.7" fill="#A6D5FF"/>
<polygon points="827.1,996.9 831.4,995.1 837.5,996.0 842.7,999.5 847.9,1002.1 850.5,1006.4 848.7,1009.9 842.7,1009.0 837.5,1007.3 830.5,1006.4 826.2,1003.8" fill="#FFE033"/>
<polygon points="857.4,1003.8 863.5,1002.6 872.1,1003.3 880.8,1003.8 879.9,1005.5 871.3,1006.1 863.5,1006.7 858.3,1006.1" fill="#FFE033"/>
<polygon points="788.9,1020.6 792.4,1019.9 795.0,1022.0 792.4,1023.4 789.3,1022.3" fill="#FFE033"/>
<polygon points="840.9,1028.9 842.7,1028.9 842.7,1030.7 840.9,1030.7" fill="#FFE033"/>
</g></g>
<clipPath id="tc2_02"><rect x="288" y="1048" width="208" height="104"/></clipPath>
<g clip-path="url(#tc2_02)"><g clip-path="url(#dc2)">
<rect x="287.0" y="1047.0" width="210.0" height="106.0" fill="#FFFFFF"/>
<polygon points="288.0,1118.2 305.3,1117.7 322.7,1117.3 340.0,1117.0 353.9,1115.9 362.5,1114.7 371.2,1113.0 378.1,1111.3 388.5,1111.8 395.5,1114.7 409.3,1115.6 416.3,1117.3 424.9,1114.7 437.1,1113.0 450.9,1111.8 464.8,1111.3 478.7,1110.4 496.0,1111.3 496.0,1152.0 288.0,1152.0" fill="#FFE033"/>
<polygon points="397.2,1117.3 409.3,1117.0 416.3,1118.2 419.7,1120.8 416.3,1125.1 409.3,1128.1 402.4,1128.6 398.1,1124.3" fill="#FFFFFF"/>
<polygon points="288.0,1120.5 305.3,1119.9 322.7,1119.9 340.0,1119.4 353.9,1119.1 360.8,1117.3 367.7,1115.6 378.1,1114.7 386.8,1115.6 389.4,1118.2 385.1,1120.8 379.9,1123.4 376.4,1126.0 385.1,1128.6 395.5,1130.3 402.4,1131.2 412.8,1128.6 419.7,1124.3 424.9,1119.1 431.9,1116.5 444.0,1114.7 457.9,1113.9 471.7,1114.7 482.1,1117.3 489.1,1120.8 496.0,1122.5 496.0,1152.0 288.0,1152.0" fill="#FFAA00"/>
<polygon points="296.7,1131.2 301.9,1126.9 310.5,1125.1 322.7,1126.0 340.0,1126.0 350.4,1125.1 357.3,1126.9 364.3,1130.3 374.7,1132.6 388.5,1133.3 402.4,1132.9 412.8,1130.9 421.5,1126.9 426.7,1122.5 433.6,1118.2 444.0,1116.5 457.9,1117.3 471.7,1119.1 482.1,1122.5 489.1,1126.0 496.0,1127.7 496.0,1152.0 308.8,1152.0 310.5,1146.8 305.3,1142.5 298.4,1138.1" fill="#FF0000"/>
<polygon points="324.4,1132.9 331.3,1130.3 343.5,1129.5 353.9,1130.9 362.5,1133.8 374.7,1135.5 392.0,1135.5 409.3,1133.8 421.5,1131.2 428.4,1126.9 435.3,1122.5 444.0,1120.8 454.4,1122.5 464.8,1125.1 469.1,1129.5 468.3,1136.4 461.3,1141.6 450.9,1144.2 437.1,1145.1 419.7,1145.9 402.4,1146.5 385.1,1146.8 367.7,1145.9 357.3,1143.3 345.2,1140.7 333.1,1138.1 326.1,1135.5" fill="#C80000"/>
<polygon points="366.0,1138.5 378.1,1138.1 392.0,1137.3 405.9,1135.5 419.7,1133.8 430.1,1131.2 438.8,1128.1 445.7,1126.9 454.4,1127.4 458.7,1129.5 452.7,1132.9 444.0,1135.5 433.6,1138.1 419.7,1139.5 405.9,1140.2 392.0,1140.7 378.1,1139.9" fill="#FF69B4"/>
<polygon points="458.7,1099.1 463.1,1096.5 467.4,1099.1 465.7,1103.5 461.3,1102.1" fill="#FFE033"/>
<polygon points="366.9,1107.8 370.3,1106.9 372.6,1109.0 369.5,1111.3" fill="#FFE033"/>
<polygon points="445.7,1108.7 449.2,1106.1 450.9,1107.8 448.3,1110.7" fill="#FFE033"/>
<polygon points="486.5,1103.5 491.7,1103.1 491.7,1104.5 486.5,1104.9" fill="#FFE033"/>
</g></g>
<clipPath id="tc2_12"><rect x="496" y="1048" width="208" height="104"/></clipPath>
<g clip-path="url(#tc2_12)"><g clip-path="url(#dc2)">
<rect x="495.0" y="1047.0" width="210.0" height="106.0" fill="#FFFFFF"/>
<polygon points="496.0,1112.1 506.4,1111.8 516.8,1113.0 530.7,1113.9 544.5,1114.7 558.4,1116.5 570.5,1118.7 582.7,1119.9 586.1,1121.7 577.5,1124.3 570.5,1126.0 572.3,1129.5 568.8,1132.9 563.6,1135.5 565.3,1138.1 572.3,1139.0 577.5,1142.5 593.1,1143.0 606.9,1142.5 617.3,1143.0 634.7,1145.1 652.0,1145.9 669.3,1145.1 686.7,1144.2 704.0,1143.0 704.0,1152.0 496.0,1152.0" fill="#FFE033"/>
<polygon points="545.4,1137.3 551.5,1136.4 554.1,1139.0 549.7,1140.7 545.9,1139.9" fill="#FFFFFF"/>
<polygon points="563.6,1143.0 570.5,1141.6 575.7,1143.3 574.0,1145.4 565.3,1145.4" fill="#FFFFFF"/>
<polygon points="496.0,1116.5 506.4,1115.9 518.5,1116.5 527.2,1115.6 535.9,1118.2 544.5,1120.8 548.0,1125.1 544.5,1128.6 539.3,1131.2 535.9,1134.7 537.6,1139.9 548.0,1142.5 560.1,1143.3 563.6,1145.9 563.6,1152.0 496.0,1152.0" fill="#FFAA00"/>
<polygon points="553.2,1132.9 560.1,1127.7 564.5,1126.9 565.3,1129.5 560.1,1132.1 555.8,1134.3" fill="#FFAA00"/>
<polygon points="496.0,1132.1 502.9,1133.8 509.9,1137.3 518.5,1141.6 528.9,1145.1 539.3,1146.8 546.3,1147.7 546.3,1152.0 496.0,1152.0" fill="#FF0000"/>
<polygon points="509.5,1120.8 513.3,1120.8 513.3,1122.2 509.5,1122.2" fill="#FF0000"/>
<polygon points="530.7,1094.5 534.1,1093.1 536.7,1094.8 534.1,1096.9" fill="#FFE033"/>
<polygon points="580.9,1095.7 587.9,1094.8 593.1,1095.7 600.0,1093.9 604.3,1094.8 600.0,1097.4 594.8,1099.1 589.6,1100.3 584.4,1099.1 581.3,1098.3" fill="#FFE033"/>
<polygon points="674.5,1129.5 681.5,1128.6 690.1,1129.5 697.1,1130.9 704.0,1130.3 704.0,1136.4 697.1,1135.5 691.9,1132.9 683.2,1132.1 676.3,1132.1" fill="#FFE033"/>
<polygon points="577.1,1125.1 581.8,1124.6 582.7,1126.9 577.8,1127.2" fill="#A6D5FF"/>
</g></g>
<clipPath id="tc2_22"><rect x="704" y="1048" width="208" height="104"/></clipPath>
<g clip-path="url(#tc2_22)"><g clip-path="url(#dc2)">
<rect x="703.0" y="1047.0" width="210.0" height="106.0" fill="#FFFFFF"/>
<polygon points="704.0,1129.5 714.4,1131.2 724.8,1130.3 738.7,1129.1 752.5,1126.9 762.9,1125.1 771.6,1124.3 773.3,1126.9 768.1,1129.5 764.7,1132.9 766.4,1138.1 773.3,1142.5 785.5,1144.2 801.1,1145.1 818.4,1145.4 835.7,1145.1 851.3,1144.2 860.0,1141.6 866.9,1136.4 873.9,1131.2 880.8,1126.9 891.2,1123.4 901.6,1120.8 912.0,1119.9 912.0,1152.0 704.0,1152.0" fill="#FFE033"/>
<polygon points="713.5,1137.3 717.9,1134.7 726.5,1133.3 738.7,1132.9 749.1,1133.3 756.0,1134.7 759.5,1138.1 757.7,1142.5 750.8,1145.1 738.7,1145.9 726.5,1145.4 717.9,1143.3 714.4,1140.7" fill="#FFAA00"/>
<polygon points="717.9,1138.5 723.1,1136.7 733.5,1136.4 741.3,1137.3 744.2,1139.9 742.1,1143.0 733.5,1143.7 723.1,1143.0 718.7,1141.6" fill="#FF0000"/>
<polygon points="872.1,1142.5 877.3,1138.1 880.8,1132.9 887.7,1128.6 896.4,1125.1 905.1,1122.5 912.0,1121.7 912.0,1148.5 870.4,1148.5" fill="#FFAA00"/>
<polygon points="741.3,1095.1 749.1,1092.7 759.5,1090.5 769.9,1091.3 776.8,1093.1 783.7,1096.5 790.7,1100.0 797.6,1103.5 802.8,1107.8 797.6,1108.7 790.7,1106.1 787.2,1108.7 792.4,1112.1 788.9,1114.7 782.0,1113.9 775.1,1111.3 769.0,1108.7 770.7,1104.3 766.4,1100.9 757.7,1100.0 749.1,1098.3" fill="#FFE033"/>
<polygon points="787.2,1081.8 789.8,1077.5 792.4,1078.3 794.1,1082.7 796.7,1087.9 801.1,1091.3 795.9,1093.4 789.8,1092.2 788.1,1087.0" fill="#FFE033"/>
<polygon points="798.5,1117.3 802.8,1115.6 806.3,1118.2 804.5,1123.4 799.3,1126.9 792.4,1127.7 788.9,1126.0 795.9,1124.3 799.3,1121.7" fill="#FFE033"/>
<polygon points="753.4,1107.8 757.7,1107.3 757.7,1108.7 753.4,1109.0" fill="#FFE033"/>
<polygon points="773.3,1130.3 780.3,1128.6 788.9,1129.5 797.6,1131.2 801.1,1128.6 808.0,1126.9 811.5,1122.5 809.7,1116.5 812.3,1113.9 818.4,1116.5 821.9,1120.8 820.1,1126.0 825.3,1127.7 832.3,1128.6 835.7,1126.9 837.5,1130.3 832.3,1131.2 825.3,1132.1 827.1,1137.3 823.6,1139.5 814.9,1139.9 806.3,1139.9 801.1,1138.1 797.6,1134.7 788.9,1135.5 780.3,1134.7" fill="#A6D5FF"/>
<polygon points="830.5,1119.9 833.1,1119.1 834.3,1124.3 832.3,1126.0 830.5,1123.4" fill="#A6D5FF"/>
<polygon points="840.1,1112.1 842.7,1112.5 847.0,1118.2 847.9,1120.8 844.4,1120.5 841.8,1116.5" fill="#A6D5FF"/>
<polygon points="848.7,1113.0 851.3,1110.4 855.7,1111.3 856.9,1114.7 853.9,1117.3 850.5,1116.5" fill="#A6D5FF"/>
<polygon points="844.4,1133.3 854.8,1132.9 855.7,1134.7 846.1,1135.2" fill="#A6D5FF"/>
<polygon points="787.2,1048.0 799.3,1048.0 798.5,1050.6 794.1,1052.3 789.8,1051.5" fill="#A6D5FF"/>
<polygon points="814.6,1120.5 815.8,1120.5 815.8,1122.9 814.6,1122.9" fill="#00BFFF"/>
</g></g>
<defs><pattern id="stip" patternUnits="userSpaceOnUse" x="5.95" y="7.9" width="12.75" height="12.75"><rect x="-0.5" y="-0.5" width="1" height="1" fill="#444"/><rect x="12.25" y="-0.5" width="1" height="1" fill="#444"/><rect x="-0.5" y="12.25" width="1" height="1" fill="#444"/><rect x="12.25" y="12.25" width="1" height="1" fill="#444"/><rect x="5.875" y="5.875" width="1" height="1" fill="#444"/></pattern>
<mask id="sm" maskUnits="userSpaceOnUse" x="280" y="836" width="640" height="320"><rect x="280" y="836" width="640" height="320" fill="#fff"/>
<polygon fill="#000" points="307,879 341,897 368,905 392,900 419,887 467,876 493,868 528,865 531,889 520,905 504,924 501,948 483,961 467,969 429,980 419,961 392,951 373,943 352,935 347,924 312,905"/>
<polygon fill="#000" points="701,881 749,876 787,881 827,897 840,916 827,937 787,943 765,937 739,940 720,916 707,897"/>
<polygon fill="#000" points="345,1052 440,1052 445,1068 385,1072 345,1066"/>
<polygon fill="#000" points="385,1062 445,1058 445,1082 400,1084"/>
<polygon fill="#000" points="520,950 590,950 620,958 560,962 520,958"/>
</mask></defs>
<rect x="289" y="844" width="623" height="304" fill="url(#stip)" mask="url(#sm)"/>
<clipPath id="cc0"><rect x="288.0" y="47.799999999999955" width="624.0" height="312"/></clipPath><defs><path id="coastp" d="M281.1 933.7L282.1 933.6L286.1 934.6L290.3 933.9L296.5 932.0L303.4 931.7L308.3 931.1L310.4 931.7L310.0 935.7L308.8 937.0L311.2 938.3L314.2 938.8L317.5 939.6L320.1 941.7L324.2 943.3L326.1 940.2L330.5 938.9L332.9 940.2L335.0 941.0L339.0 941.7L343.1 941.7L345.0 941.2L347.3 941.5L347.6 943.8L349.9 948.7L351.8 952.5L353.4 954.4L355.8 959.4L355.8 961.8L358.0 964.6L359.8 968.8L362.4 970.5L365.3 973.3L366.0 975.7L369.3 977.8L372.8 976.6L376.6 976.2L380.2 975.3L379.9 977.8L377.6 981.9L375.4 986.6L371.9 990.6L369.8 992.3L365.0 996.5L362.2 999.8L360.1 1002.7L358.6 1006.2L359.4 1007.6L359.8 1010.5L361.0 1013.7L361.5 1018.3L361.8 1021.8L359.8 1024.4L355.3 1026.8L351.8 1030.1L352.7 1033.9L352.7 1037.2L348.3 1040.0L347.8 1040.9L348.2 1043.5L346.9 1045.7L345.0 1047.6L342.4 1050.6L339.7 1053.0L335.7 1054.7L330.3 1054.9L326.0 1056.1L323.2 1055.1L322.5 1053.0L323.0 1050.4L320.6 1046.6L317.6 1041.9L316.4 1035.7L314.7 1031.3L312.1 1027.7L311.8 1024.4L312.4 1022.1L314.5 1017.6L315.2 1014.5L314.2 1011.1L312.6 1006.2L311.9 1004.1L308.6 1000.7L306.6 997.0L307.6 995.1L308.3 992.5L308.1 988.9L305.7 988.0L303.4 988.2L301.7 988.3L299.1 985.1L297.2 984.7L293.4 985.2L291.0 986.3L287.7 987.7L284.4 986.6L280.9 987.3L278.0 988.2L275.2 986.8L272.6 984.9L269.6 982.8L268.4 981.1L267.6 979.3L265.3 976.9L264.3 975.2L262.2 974.1L262.5 972.4L261.0 970.3L262.7 968.1L263.6 964.4L263.0 962.0L261.8 959.7L263.6 957.1L263.7 954.7L266.3 950.6L268.4 948.7L268.9 947.4L272.1 945.9L274.0 944.5L274.7 943.1L274.3 941.2L275.4 939.5L278.1 937.6L279.5 936.9L281.1 933.7ZM905.1 933.7L906.1 933.6L910.1 934.6L914.3 933.9L920.5 932.0L927.4 931.7L932.3 931.1L934.4 931.7L934.0 935.7L932.8 937.0L935.2 938.3L938.2 938.8L941.5 939.6L944.1 941.7L948.2 943.3L950.1 940.2L954.5 938.9L956.9 940.2L959.0 941.0L963.0 941.7L967.1 941.7L969.0 941.2L971.3 941.5L971.6 943.8L973.9 948.7L975.8 952.5L977.4 954.4L979.8 959.4L979.8 961.8L982.0 964.6L983.8 968.8L986.4 970.5L989.3 973.3L990.0 975.7L993.3 977.8L996.8 976.6L1000.6 976.2L1004.2 975.3L1003.9 977.8L1001.6 981.9L999.4 986.6L995.9 990.6L993.8 992.3L989.0 996.5L986.2 999.8L984.1 1002.7L982.6 1006.2L983.4 1007.6L983.8 1010.5L985.0 1013.7L985.5 1018.3L985.8 1021.8L983.8 1024.4L979.3 1026.8L975.8 1030.1L976.7 1033.9L976.7 1037.2L972.3 1040.0L971.8 1040.9L972.2 1043.5L970.9 1045.7L969.0 1047.6L966.4 1050.6L963.7 1053.0L959.7 1054.7L954.3 1054.9L950.0 1056.1L947.2 1055.1L946.5 1053.0L947.0 1050.4L944.6 1046.6L941.6 1041.9L940.4 1035.7L938.7 1031.3L936.1 1027.7L935.8 1024.4L936.4 1022.1L938.5 1017.6L939.2 1014.5L938.2 1011.1L936.6 1006.2L935.9 1004.1L932.6 1000.7L930.6 997.0L931.6 995.1L932.3 992.5L932.1 988.9L929.7 988.0L927.4 988.2L925.7 988.3L923.1 985.1L921.2 984.7L917.4 985.2L915.0 986.3L911.7 987.7L908.4 986.6L904.9 987.3L902.0 988.2L899.2 986.8L896.6 984.9L893.6 982.8L892.4 981.1L891.6 979.3L889.3 976.9L888.3 975.2L886.2 974.1L886.5 972.4L885.0 970.3L886.7 968.1L887.6 964.4L887.0 962.0L885.8 959.7L887.6 957.1L887.7 954.7L890.3 950.6L892.4 948.7L892.9 947.4L896.1 945.9L898.0 944.5L898.7 943.1L898.3 941.2L899.4 939.5L902.1 937.6L903.5 936.9L905.1 933.7ZM281.9 933.2L280.4 932.5L278.5 931.3L275.7 931.7L276.0 929.2L275.0 928.7L276.2 924.6L275.2 921.3L276.7 920.6L281.4 920.4L284.7 920.4L288.2 920.6L289.2 918.3L289.2 915.7L287.5 913.8L283.3 912.8L283.3 911.9L287.8 911.6L288.5 909.7L291.5 910.0L294.6 907.4L296.3 907.1L298.8 905.5L299.6 903.9L303.3 903.2L306.2 902.4L305.9 899.6L305.5 897.5L307.9 896.7L309.7 895.8L309.2 898.4L307.8 899.6L307.8 900.8L308.8 901.5L310.2 902.2L312.3 901.9L314.7 901.3L316.1 902.4L318.3 901.9L320.8 901.0L323.7 901.5L326.0 900.6L327.9 899.3L327.7 897.9L328.6 896.3L330.5 895.6L331.7 896.8L333.1 897.0L333.8 894.6L332.0 893.5L334.3 892.7L339.8 892.7L343.6 892.0L341.0 890.6L338.1 890.9L334.6 891.5L331.2 892.1L329.8 891.1L328.7 889.0L328.6 886.4L332.9 884.3L335.3 883.1L333.2 881.7L329.8 882.1L328.6 884.0L326.5 885.2L323.4 886.8L321.5 887.6L321.1 890.6L323.9 891.8L323.4 892.8L319.9 894.2L319.7 897.5L318.3 898.4L315.9 899.6L313.8 899.4L313.3 898.7L311.9 895.8L310.2 893.2L309.8 892.0L308.6 893.5L305.2 895.1L303.4 895.3L301.0 893.5L300.5 891.1L300.1 888.0L302.0 887.5L306.0 885.6L310.4 883.3L313.0 881.4L316.3 879.1L319.0 877.1L324.1 875.0L328.6 874.1L332.4 873.3L336.0 872.4L339.8 872.7L345.2 873.8L343.3 875.0L348.5 875.5L353.7 875.9L360.6 878.1L362.4 879.7L362.5 880.4L358.0 881.2L352.0 880.7L347.5 879.5L351.6 883.1L351.6 884.0L355.4 885.0L357.2 884.9L355.4 883.1L358.0 883.5L361.5 883.8L360.1 882.3L364.1 880.5L367.6 881.4L367.6 878.8L367.6 877.4L366.4 876.9L371.0 877.4L371.9 879.7L374.5 878.6L378.0 877.6L383.2 877.1L384.9 877.6L390.1 876.9L395.3 876.2L396.2 874.8L398.8 875.2L404.0 876.2L407.4 877.1L409.2 875.3L407.4 872.7L410.0 870.1L412.6 868.7L417.0 869.6L417.8 871.9L417.0 877.1L418.7 880.0L419.6 877.1L420.4 872.7L421.3 870.1L424.8 870.7L426.5 870.5L430.8 868.4L436.9 867.9L442.1 865.8L452.5 864.1L461.2 863.2L471.6 861.1L478.5 862.9L487.2 864.1L485.4 866.7L476.8 868.4L482.0 867.9L488.0 868.4L494.1 868.4L499.3 869.3L506.2 868.4L511.4 868.4L515.8 870.1L514.9 872.7L518.4 873.1L521.8 871.9L527.0 871.9L534.0 870.1L535.7 869.6L542.6 870.5L551.3 871.9L556.5 872.7L563.4 872.7L568.6 875.0L575.6 875.0L582.5 874.5L586.0 875.3L587.7 874.5L596.4 875.0L603.3 876.4L612.0 879.3L621.2 881.2L617.2 882.8L615.1 884.2L606.8 882.4L605.0 881.1L599.0 883.7L602.1 887.8L594.6 888.7L586.8 891.8L579.0 892.1L574.7 892.7L573.8 895.3L572.1 898.4L571.9 900.8L568.6 903.6L566.4 903.9L562.9 907.6L561.7 904.8L561.0 900.5L562.7 897.0L566.9 894.4L571.2 890.9L575.0 888.9L576.4 887.5L568.6 888.7L569.2 890.8L563.4 888.9L560.0 893.2L552.7 892.7L546.1 893.0L539.5 892.8L534.0 895.8L530.8 897.9L528.8 901.0L530.5 902.5L535.7 903.4L536.4 903.9L534.8 907.4L534.5 910.9L531.4 915.2L526.9 918.7L522.7 921.6L520.1 921.1L517.8 922.0L516.3 923.3L512.5 926.8L512.1 927.9L514.7 930.3L515.6 933.4L515.1 935.0L510.4 936.0L510.6 933.4L510.7 930.8L508.3 929.6L508.3 928.7L506.9 926.6L502.8 928.0L502.1 928.4L503.1 925.3L501.0 925.1L498.6 926.6L495.5 928.2L497.6 930.3L500.7 930.3L503.5 931.0L499.8 933.2L497.9 935.7L500.7 939.1L502.4 941.2L502.6 942.2L500.9 943.3L502.8 944.0L500.9 947.3L498.6 950.7L496.0 953.3L493.6 955.4L489.2 957.1L488.0 957.5L482.8 959.1L482.3 960.6L480.4 958.5L478.5 958.4L476.4 959.7L474.7 963.4L477.8 967.2L478.8 967.9L480.6 971.9L480.6 975.2L476.9 977.9L475.9 979.3L473.0 980.9L473.5 978.5L471.6 977.6L469.0 974.7L466.2 973.8L465.7 972.4L464.6 974.1L463.2 977.6L464.5 979.9L465.2 981.6L465.7 983.3L468.6 985.1L470.5 989.2L471.6 993.5L468.4 992.0L466.4 989.7L465.2 986.4L461.7 981.9L462.2 978.5L462.2 974.3L461.3 971.5L460.5 967.2L459.1 966.7L456.3 968.4L454.8 968.1L455.1 964.6L452.3 961.0L450.4 957.1L448.2 957.7L445.6 958.0L444.2 958.2L442.1 958.7L440.0 961.5L435.7 965.1L434.0 966.5L432.0 967.9L430.1 969.8L430.5 973.1L429.8 977.9L428.8 979.7L426.8 980.4L425.6 981.8L423.4 978.5L421.0 973.4L419.2 968.9L417.5 962.9L417.3 959.1L417.0 957.3L414.4 959.9L410.9 957.3L412.6 956.1L409.5 954.9L407.4 952.8L402.2 951.9L399.3 952.3L395.3 951.9L391.5 951.4L388.9 948.7L385.8 949.7L382.3 948.1L379.4 945.7L377.1 943.6L375.5 943.8L374.5 944.8L375.9 947.6L378.1 950.0L379.4 952.8L380.0 950.6L380.7 952.5L380.4 953.3L385.6 953.3L387.2 951.9L388.9 950.4L389.1 952.3L390.1 954.2L392.9 954.9L395.0 956.8L392.7 960.4L391.3 961.8L387.5 964.9L384.9 966.3L381.8 968.1L376.4 970.7L372.8 972.7L369.3 973.6L366.5 973.8L366.2 972.7L365.7 970.1L365.0 966.5L362.4 962.9L359.2 958.5L357.2 954.0L354.4 950.4L352.0 947.3L352.0 944.7L350.8 947.6L347.6 943.8L347.3 941.5L350.8 941.4L352.0 938.9L352.8 937.0L353.4 934.3L354.0 932.4L351.3 932.0L348.2 933.4L344.5 931.8L341.7 932.4L338.8 931.7L337.8 929.2L336.7 926.5L339.0 925.6L341.6 924.7L346.4 923.9L349.4 923.0L352.3 923.0L354.2 924.2L360.1 924.7L363.4 923.7L362.4 921.3L360.1 920.2L356.8 918.3L354.7 917.3L357.2 915.5L359.4 914.0L357.2 914.2L352.8 915.0L352.0 916.6L354.6 917.3L352.7 917.8L350.6 918.8L349.4 918.5L347.6 917.1L349.7 915.9L346.8 915.2L344.5 915.2L342.8 917.5L341.0 919.2L339.7 920.9L339.0 922.1L340.2 923.7L341.6 924.4L339.0 924.9L336.7 925.9L336.2 925.1L333.6 924.9L332.9 926.5L331.7 926.1L331.0 925.4L331.2 927.5L332.9 929.9L331.5 931.0L331.3 932.5L330.3 932.5L328.9 932.0L328.2 930.5L328.9 929.6L327.7 928.4L326.3 927.3L324.9 925.6L324.9 924.2L322.7 922.0L319.7 920.4L317.6 919.4L316.3 917.3L315.2 918.0L315.2 916.6L312.6 917.1L313.0 918.0L313.1 919.4L314.7 920.2L315.9 922.1L319.4 923.2L320.6 924.6L322.5 925.4L323.2 926.8L321.1 925.6L320.1 927.0L320.9 928.0L319.0 930.1L318.3 929.8L319.0 928.7L318.3 926.5L317.0 925.3L315.9 925.1L314.9 924.4L312.4 923.3L309.5 921.4L309.2 920.4L308.3 919.4L306.7 918.8L304.0 920.1L301.5 921.1L300.7 920.7L299.1 920.6L297.7 920.6L296.5 921.8L296.8 923.2L295.1 924.0L292.9 925.3L290.8 927.3L291.6 928.7L290.4 929.4L289.6 930.6L287.5 932.2L283.7 932.2L281.9 933.2M905.9 933.2L904.4 932.5L902.5 931.3L899.7 931.7L900.0 929.2L899.0 928.7L900.2 924.6L899.2 921.3L900.7 920.6L905.4 920.4L908.7 920.4L912.2 920.6L913.2 918.3L913.2 915.7L911.5 913.8L907.3 912.8L907.3 911.9L911.8 911.6L912.5 909.7L915.5 910.0L918.6 907.4L920.3 907.1L922.8 905.5L923.6 903.9L927.3 903.2L930.2 902.4L929.9 899.6L929.5 897.5L931.9 896.7L933.7 895.8L933.2 898.4L931.8 899.6L931.8 900.8L932.8 901.5L934.2 902.2L936.3 901.9L938.7 901.3L940.1 902.4L942.3 901.9L944.8 901.0L947.7 901.5L950.0 900.6L951.9 899.3L951.7 897.9L952.6 896.3L954.5 895.6L955.7 896.8L957.1 897.0L957.8 894.6L956.0 893.5L958.3 892.7L963.8 892.7L967.6 892.0L965.0 890.6L962.1 890.9L958.6 891.5L955.2 892.1L953.8 891.1L952.7 889.0L952.6 886.4L956.9 884.3L959.3 883.1L957.2 881.7L953.8 882.1L952.6 884.0L950.5 885.2L947.4 886.8L945.5 887.6L945.1 890.6L947.9 891.8L947.4 892.8L943.9 894.2L943.7 897.5L942.3 898.4L939.9 899.6L937.8 899.4L937.3 898.7L935.9 895.8L934.2 893.2L933.8 892.0L932.6 893.5L929.2 895.1L927.4 895.3L925.0 893.5L924.5 891.1L924.1 888.0L926.0 887.5L930.0 885.6L934.4 883.3L937.0 881.4L940.3 879.1L943.0 877.1L948.1 875.0L952.6 874.1L956.4 873.3L960.0 872.4L963.8 872.7L969.2 873.8L967.3 875.0L972.5 875.5L977.7 875.9L984.6 878.1L986.4 879.7L986.5 880.4L982.0 881.2L976.0 880.7L971.5 879.5L975.6 883.1L975.6 884.0L979.4 885.0L981.2 884.9L979.4 883.1L982.0 883.5L985.5 883.8L984.1 882.3L988.1 880.5L991.6 881.4L991.6 878.8L991.6 877.4L990.4 876.9L995.0 877.4L995.9 879.7L998.5 878.6L1002.0 877.6L1007.2 877.1L1008.9 877.6L1014.1 876.9L1019.3 876.2L1020.2 874.8L1022.8 875.2L1028.0 876.2L1031.4 877.1L1033.2 875.3L1031.4 872.7L1034.0 870.1L1036.6 868.7L1041.0 869.6L1041.8 871.9L1041.0 877.1L1042.7 880.0L1043.6 877.1L1044.4 872.7L1045.3 870.1L1048.8 870.7L1050.5 870.5L1054.8 868.4L1060.9 867.9L1066.1 865.8L1076.5 864.1L1085.2 863.2L1095.6 861.1L1102.5 862.9L1111.2 864.1L1109.4 866.7L1100.8 868.4L1106.0 867.9L1112.0 868.4L1118.1 868.4L1123.3 869.3L1130.2 868.4L1135.4 868.4L1139.8 870.1L1138.9 872.7L1142.4 873.1L1145.8 871.9L1151.0 871.9L1158.0 870.1L1159.7 869.6L1166.6 870.5L1175.3 871.9L1180.5 872.7L1187.4 872.7L1192.6 875.0L1199.6 875.0L1206.5 874.5L1210.0 875.3L1211.7 874.5L1220.4 875.0L1227.3 876.4L1236.0 879.3L1245.2 881.2L1241.2 882.8L1239.1 884.2L1230.8 882.4L1229.0 881.1L1223.0 883.7L1226.1 887.8L1218.6 888.7L1210.8 891.8L1203.0 892.1L1198.7 892.7L1197.8 895.3L1196.1 898.4L1195.9 900.8L1192.6 903.6L1190.4 903.9L1186.9 907.6L1185.7 904.8L1185.0 900.5L1186.7 897.0L1190.9 894.4L1195.2 890.9L1199.0 888.9L1200.4 887.5L1192.6 888.7L1193.2 890.8L1187.4 888.9L1184.0 893.2L1176.7 892.7L1170.1 893.0L1163.5 892.8L1158.0 895.8L1154.8 897.9L1152.8 901.0L1154.5 902.5L1159.7 903.4L1160.4 903.9L1158.8 907.4L1158.5 910.9L1155.4 915.2L1150.9 918.7L1146.7 921.6L1144.1 921.1L1141.8 922.0L1140.3 923.3L1136.5 926.8L1136.1 927.9L1138.7 930.3L1139.6 933.4L1139.1 935.0L1134.4 936.0L1134.6 933.4L1134.7 930.8L1132.3 929.6L1132.3 928.7L1130.9 926.6L1126.8 928.0L1126.1 928.4L1127.1 925.3L1125.0 925.1L1122.6 926.6L1119.5 928.2L1121.6 930.3L1124.7 930.3L1127.5 931.0L1123.8 933.2L1121.9 935.7L1124.7 939.1L1126.4 941.2L1126.6 942.2L1124.9 943.3L1126.8 944.0L1124.9 947.3L1122.6 950.7L1120.0 953.3L1117.6 955.4L1113.2 957.1L1112.0 957.5L1106.8 959.1L1106.3 960.6L1104.4 958.5L1102.5 958.4L1100.4 959.7L1098.7 963.4L1101.8 967.2L1102.8 967.9L1104.6 971.9L1104.6 975.2L1100.9 977.9L1099.9 979.3L1097.0 980.9L1097.5 978.5L1095.6 977.6L1093.0 974.7L1090.2 973.8L1089.7 972.4L1088.6 974.1L1087.2 977.6L1088.5 979.9L1089.2 981.6L1089.7 983.3L1092.6 985.1L1094.5 989.2L1095.6 993.5L1092.4 992.0L1090.4 989.7L1089.2 986.4L1085.7 981.9L1086.2 978.5L1086.2 974.3L1085.3 971.5L1084.5 967.2L1083.1 966.7L1080.3 968.4L1078.8 968.1L1079.1 964.6L1076.3 961.0L1074.4 957.1L1072.2 957.7L1069.6 958.0L1068.2 958.2L1066.1 958.7L1064.0 961.5L1059.7 965.1L1058.0 966.5L1056.0 967.9L1054.1 969.8L1054.5 973.1L1053.8 977.9L1052.8 979.7L1050.8 980.4L1049.6 981.8L1047.4 978.5L1045.0 973.4L1043.2 968.9L1041.5 962.9L1041.3 959.1L1041.0 957.3L1038.4 959.9L1034.9 957.3L1036.6 956.1L1033.5 954.9L1031.4 952.8L1026.2 951.9L1023.3 952.3L1019.3 951.9L1015.5 951.4L1012.9 948.7L1009.8 949.7L1006.3 948.1L1003.4 945.7L1001.1 943.6L999.5 943.8L998.5 944.8L999.9 947.6L1002.1 950.0L1003.4 952.8L1004.0 950.6L1004.7 952.5L1004.4 953.3L1009.6 953.3L1011.2 951.9L1012.9 950.4L1013.1 952.3L1014.1 954.2L1016.9 954.9L1019.0 956.8L1016.7 960.4L1015.3 961.8L1011.5 964.9L1008.9 966.3L1005.8 968.1L1000.4 970.7L996.8 972.7L993.3 973.6L990.5 973.8L990.2 972.7L989.7 970.1L989.0 966.5L986.4 962.9L983.2 958.5L981.2 954.0L978.4 950.4L976.0 947.3L976.0 944.7L974.8 947.6L971.6 943.8L971.3 941.5L974.8 941.4L976.0 938.9L976.8 937.0L977.4 934.3L978.0 932.4L975.3 932.0L972.2 933.4L968.5 931.8L965.7 932.4L962.8 931.7L961.8 929.2L960.7 926.5L963.0 925.6L965.6 924.7L970.4 923.9L973.4 923.0L976.3 923.0L978.2 924.2L984.1 924.7L987.4 923.7L986.4 921.3L984.1 920.2L980.8 918.3L978.7 917.3L981.2 915.5L983.4 914.0L981.2 914.2L976.8 915.0L976.0 916.6L978.6 917.3L976.7 917.8L974.6 918.8L973.4 918.5L971.6 917.1L973.7 915.9L970.8 915.2L968.5 915.2L966.8 917.5L965.0 919.2L963.7 920.9L963.0 922.1L964.2 923.7L965.6 924.4L963.0 924.9L960.7 925.9L960.2 925.1L957.6 924.9L956.9 926.5L955.7 926.1L955.0 925.4L955.2 927.5L956.9 929.9L955.5 931.0L955.3 932.5L954.3 932.5L952.9 932.0L952.2 930.5L952.9 929.6L951.7 928.4L950.3 927.3L948.9 925.6L948.9 924.2L946.7 922.0L943.7 920.4L941.6 919.4L940.3 917.3L939.2 918.0L939.2 916.6L936.6 917.1L937.0 918.0L937.1 919.4L938.7 920.2L939.9 922.1L943.4 923.2L944.6 924.6L946.5 925.4L947.2 926.8L945.1 925.6L944.1 927.0L944.9 928.0L943.0 930.1L942.3 929.8L943.0 928.7L942.3 926.5L941.0 925.3L939.9 925.1L938.9 924.4L936.4 923.3L933.5 921.4L933.2 920.4L932.3 919.4L930.7 918.8L928.0 920.1L925.5 921.1L924.7 920.7L923.1 920.6L921.7 920.6L920.5 921.8L920.8 923.2L919.1 924.0L916.9 925.3L914.8 927.3L915.6 928.7L914.4 929.4L913.6 930.6L911.5 932.2L907.7 932.2L905.9 933.2M281.4 909.0L285.2 908.6L289.2 907.9L293.7 907.1L292.5 906.5L294.2 904.6L291.8 903.9L291.3 902.9L289.2 901.2L288.5 899.4L286.1 898.7L287.8 895.8L284.4 896.0L285.9 894.2L282.6 894.2L280.6 896.1L281.6 898.2L283.0 899.4L282.6 900.8L285.4 900.6L286.1 902.5L285.8 903.4L283.5 903.4L284.0 905.1L282.3 906.0L285.8 906.7L284.0 907.1L281.4 909.0ZM905.4 909.0L909.2 908.6L913.2 907.9L917.7 907.1L916.5 906.5L918.2 904.6L915.8 903.9L915.3 902.9L913.2 901.2L912.5 899.4L910.1 898.7L911.8 895.8L908.4 896.0L909.9 894.2L906.6 894.2L904.6 896.1L905.6 898.2L907.0 899.4L906.6 900.8L909.4 900.6L910.1 902.5L909.8 903.4L907.5 903.4L908.0 905.1L906.3 906.0L909.8 906.7L908.0 907.1L905.4 909.0ZM904.9 905.5L904.6 903.4L905.6 901.3L904.0 900.1L901.1 900.1L900.6 901.7L898.0 901.9L898.8 903.4L898.3 905.3L898.7 906.5L901.4 906.0L904.9 905.5ZM876.3 885.0L880.6 885.7L884.1 885.9L889.3 884.3L891.7 883.1L889.6 881.1L886.7 880.5L883.2 881.2L878.9 882.3L876.3 880.7L873.7 882.3L877.2 883.0L873.7 883.5L877.2 884.3L876.3 885.0ZM312.8 930.3L314.4 929.6L318.3 929.4L317.5 932.2L312.8 930.3ZM305.5 924.9L307.2 924.4L308.3 925.6L307.9 927.9L306.0 928.2L305.5 924.9ZM306.2 922.3L307.6 921.3L307.8 923.3L306.6 923.9L306.2 922.3ZM332.2 934.3L334.6 934.4L336.9 934.8L334.3 935.3L332.2 934.8L332.2 934.3ZM347.3 935.1L348.5 934.4L351.3 933.9L350.1 935.3L348.5 935.8L347.3 935.1ZM372.8 916.9L376.2 915.2L380.0 914.5L383.2 915.2L383.2 917.3L380.0 917.3L378.5 919.0L381.4 921.3L383.2 923.3L382.8 924.9L384.6 928.0L384.6 931.1L381.4 932.0L378.3 931.0L376.2 929.2L376.8 926.1L375.0 923.3L373.6 921.3L372.2 918.7L372.8 916.9ZM392.4 916.4L394.4 915.0L397.0 915.0L398.4 916.9L396.2 919.5L393.0 920.1L392.4 916.4ZM419.0 917.5L422.2 914.9L426.5 915.4L428.8 915.0M471.2 906.5L474.2 905.3L478.5 902.9L481.3 899.4M380.6 871.3L384.0 868.7L387.5 866.1L391.8 864.4L398.8 863.4L409.2 862.3L405.7 863.5L397.9 864.9L392.7 866.7L391.0 869.3L388.4 871.9L391.0 873.4L386.6 873.3L382.3 872.7L380.6 871.3ZM310.4 858.0L315.6 857.1L326.0 856.8L338.1 856.8L332.9 858.5L324.2 859.4L329.4 860.3L327.7 861.5L320.8 863.0L317.3 861.8L313.8 860.4L310.4 858.0ZM369.3 856.1L378.0 855.6L395.3 854.9L404.0 855.4L395.3 856.3L386.6 857.0L374.5 856.8L369.3 856.1ZM456.0 858.5L461.2 856.3L471.6 858.0L473.3 860.1L464.6 859.6L459.4 859.2L456.0 858.5ZM528.8 865.3L534.0 864.1L542.6 864.9L551.3 865.5L546.1 866.0L537.4 866.1L528.8 865.3ZM600.7 872.6L603.3 871.9L607.6 872.2L605.0 872.9L600.7 872.6ZM538.6 901.7L539.5 904.8L539.7 908.3L542.1 910.9L539.2 914.3L539.9 915.5L537.4 916.1L537.4 912.6L537.8 908.3L536.9 905.7L537.4 903.1L538.6 901.7ZM534.3 923.9L536.0 923.3L539.5 923.0L543.5 920.7L541.4 919.5L537.3 916.9L536.9 919.5L534.7 920.7L534.3 923.9ZM518.2 936.9L520.4 936.3L524.4 935.8L525.8 936.0L526.7 937.7L528.6 936.0L530.8 935.8L532.2 935.0L533.6 935.3L535.5 933.9L535.2 932.0L535.7 929.4L537.4 927.3L536.6 924.0L534.5 925.1L533.8 927.3L533.1 929.6L531.4 931.1L529.3 930.8L528.4 932.0L527.0 933.9L524.4 934.1L521.1 934.4L518.4 936.0L518.2 936.9ZM516.1 938.3L518.4 937.0L519.9 938.3L519.1 941.4L517.7 941.9L517.0 940.3L516.1 938.3ZM520.8 937.7L523.6 936.3L524.8 937.2L523.9 938.3L521.8 939.1L520.8 937.7ZM501.9 952.1L502.6 953.2L500.9 957.7L499.5 955.9L500.5 953.2L501.9 952.1ZM479.7 962.5L482.8 961.1L483.7 961.8L481.3 964.3L479.7 963.6L479.7 962.5ZM500.2 963.7L503.1 963.9L503.1 967.2L502.1 968.4L503.6 971.2L506.2 971.7L506.2 974.0L504.8 972.1L502.4 971.7L500.5 970.8L499.3 969.8L500.0 967.7L500.2 963.7ZM502.8 982.8L505.4 980.9L508.7 978.8L510.6 981.9L510.0 984.7L508.8 985.7L508.5 984.0L506.2 983.7L505.0 982.8L502.8 983.8L502.8 982.8ZM504.8 975.7L507.1 974.1L509.2 974.8L508.8 976.7L508.0 978.5L505.9 979.3L504.5 979.7L503.6 978.5L502.8 977.3L502.8 975.3L504.8 975.7ZM494.4 981.2L496.7 978.8L498.6 976.2M429.6 980.4L430.3 978.8L432.0 980.9L433.3 983.3L432.0 985.1L430.3 985.4L429.6 983.7L429.6 980.4ZM456.5 986.1L460.3 986.8L462.4 989.2L465.3 992.0L469.8 994.6L472.4 999.1L475.0 1001.3L474.7 1005.9L472.4 1005.7L468.6 1002.7L466.2 999.6L463.1 995.3L460.3 991.6L456.5 986.1ZM473.6 1007.4L475.2 1006.2L479.4 1007.1L483.4 1006.9L486.6 1007.8L489.8 1009.3L489.4 1010.9L483.7 1010.2L479.4 1009.3L475.9 1008.6L473.6 1007.4ZM490.6 1010.4L493.2 1010.9L497.6 1010.5L501.0 1010.7L504.5 1010.4M505.5 1013.7L507.1 1011.7L511.4 1010.4L511.4 1011.2L508.0 1012.8L505.5 1013.7ZM480.2 993.2L482.5 992.9L484.2 991.5L487.2 990.3L488.9 987.8L491.5 986.3L493.8 983.7L495.3 985.4L497.9 986.8L495.8 988.3L495.5 990.9L497.6 994.1L495.0 994.9L495.0 997.5L493.2 1000.1L492.4 1002.4L489.9 1002.9L487.2 1001.3L484.6 1001.0L482.3 1000.1L482.0 998.1L480.2 995.8L480.2 993.2ZM499.0 994.4L500.7 993.5L504.5 994.2L508.0 993.0L507.1 995.1L501.9 994.9L499.6 995.8L500.2 997.5L504.2 997.4L501.9 999.1L503.6 1001.5L504.5 1003.6L502.4 1004.1L501.0 1001.0L500.0 1001.0L500.0 1005.3L498.4 1005.3L498.3 1001.9L497.2 1000.5L499.0 996.1L499.0 994.4ZM512.5 992.7L514.0 993.2L514.4 995.3L513.0 997.2L512.5 994.9L512.5 992.7ZM510.0 1001.7L513.2 1001.0L518.0 1001.7M518.4 997.2L521.0 996.5L523.6 997.4L525.1 1001.5L527.0 999.8L530.5 998.7L535.7 1000.3L541.8 1002.4L544.0 1005.2L547.5 1006.5L546.1 1007.6L548.2 1009.8L552.7 1013.7L547.8 1013.3L544.4 1010.0L541.8 1009.0L540.0 1010.2L539.2 1011.7L535.7 1011.6L533.1 1009.8L530.5 1010.4L531.9 1007.9L530.5 1005.3L526.2 1003.4L521.8 1002.7L521.3 1000.7L523.6 1000.0L520.4 999.6L518.4 997.2ZM548.5 1005.5L551.3 1004.5L555.1 1003.1L554.8 1005.3L552.2 1006.5L548.5 1005.5ZM560.0 1006.2L563.4 1008.8L567.8 1010.5L571.2 1013.1M575.6 1030.8L578.2 1032.7L580.8 1034.5M598.6 1026.1L600.7 1026.0L600.9 1027.3L598.6 1027.2L598.6 1026.1ZM580.2 1021.8L581.6 1024.1L583.2 1026.5M376.8 1016.6L378.8 1022.7L377.6 1025.3L373.6 1039.0L370.2 1040.0L367.6 1038.8L366.4 1034.5L368.3 1030.5L367.6 1026.1L369.3 1023.5L372.8 1022.3L374.5 1019.7L376.8 1016.6ZM590.6 1055.4L593.4 1057.0L595.5 1059.2L596.9 1061.0L599.8 1061.0L600.7 1061.3L599.5 1063.7L598.1 1064.1L597.9 1065.7L595.2 1067.9L593.9 1067.4L594.8 1065.5L592.6 1064.1L593.9 1062.9L594.3 1060.5L591.2 1056.5L590.6 1055.4ZM590.6 1066.0L593.4 1068.1L591.2 1071.0L588.2 1072.6L586.8 1075.4L584.2 1076.6L581.6 1075.9L579.9 1075.2L582.8 1072.6L586.8 1070.3L588.6 1068.3L590.6 1066.0ZM542.1 1066.3L545.2 1067.0L548.4 1066.7L548.2 1068.9L546.8 1070.9L544.4 1071.2L543.2 1069.1L542.1 1066.3ZM538.3 1014.3L540.0 1017.5L540.6 1020.6L543.2 1021.8L544.4 1026.1L544.9 1028.6L548.7 1030.6L550.6 1034.5L552.7 1035.0L552.9 1036.7L556.5 1039.7L557.4 1044.3L556.5 1048.7L555.6 1052.0L553.6 1054.4L552.5 1056.8L551.3 1060.3L548.2 1061.5L545.2 1063.2L542.5 1061.7L540.0 1063.1L535.7 1061.8L533.6 1059.9L533.1 1058.0L530.5 1057.7L531.4 1056.1L530.2 1054.2L529.6 1056.8L527.0 1056.3L525.8 1055.6L523.9 1052.7L520.1 1051.3L514.9 1050.7L509.7 1051.8L506.2 1053.0L505.4 1054.6L499.3 1054.6L495.8 1056.5L491.8 1055.4L490.6 1054.0L491.8 1051.3L490.6 1047.8L489.2 1044.0L487.9 1040.9L488.4 1038.3L488.6 1034.8L489.9 1033.6L493.6 1031.5L497.6 1030.5L501.0 1029.8L503.1 1027.3L503.3 1025.3L505.5 1025.8L505.5 1023.9L508.0 1022.7L510.0 1020.4L512.8 1021.1L513.9 1021.6L515.9 1021.6L515.6 1019.2L518.0 1017.3L521.1 1016.8L521.1 1015.6L525.3 1016.9L528.4 1016.9L527.0 1018.9L526.2 1021.6L528.8 1023.2L532.6 1026.0L535.5 1026.1L536.7 1021.8L536.7 1017.6L538.3 1014.3ZM644.0 872.2L651.8 873.1L657.9 873.9L664.0 874.5L670.9 875.2L676.1 876.2L681.3 875.7L684.8 875.3L690.0 874.3L693.4 873.6L696.9 875.3L700.4 875.5L703.8 874.8L707.3 875.5L712.5 876.4L716.0 878.3L721.2 878.3L725.5 878.1L728.1 880.0L729.8 878.3L733.3 877.9L740.2 878.3L745.4 877.9L748.9 877.4L748.9 874.5L750.6 871.2L755.0 872.7L757.6 875.3L759.3 877.1L762.8 877.9L764.5 879.3L767.1 876.5L768.0 874.8L774.0 875.3L774.0 877.1L773.2 879.7L769.7 880.9L765.9 880.5L764.5 882.6L761.9 884.9L758.1 886.1L755.8 886.9L752.4 889.9L751.5 891.8L752.0 893.9L755.0 897.0L759.3 897.0L764.5 898.7L768.0 899.9L772.6 900.1L772.5 903.9L774.9 905.7L775.8 906.9L778.4 906.5L778.7 904.8L778.4 902.2L777.0 901.0L780.4 899.9L782.7 897.9L782.5 896.1L779.9 894.4L781.3 891.8L780.1 890.1L780.3 887.6L784.3 888.0L790.5 889.2L794.7 889.9L794.0 891.8L794.8 893.5L796.9 894.4L800.9 893.9L802.1 892.1L803.7 891.1L806.1 893.9L808.4 897.9L811.0 899.6L814.8 900.8L815.6 902.2L816.5 902.7L818.9 905.1L816.3 906.7L813.0 908.6L808.2 908.8L804.4 908.6L800.2 908.8L797.1 910.5L794.5 912.4L791.9 914.7L796.6 911.7L798.3 911.0L804.0 911.0L800.9 912.6L802.6 914.3L803.5 915.7L804.7 915.9L806.6 916.6L809.6 917.3L805.1 918.5L801.6 920.6L800.7 919.9L801.2 918.5L803.0 916.6L800.9 917.3L799.2 918.0L797.1 919.0L793.6 920.2L792.9 922.0L792.2 922.5L793.6 922.9L794.0 923.5L791.5 923.9L790.3 924.2L787.0 925.4L786.3 927.5L785.5 928.4L784.4 927.3L785.1 928.5L784.6 930.1L783.6 931.5L783.0 929.1L783.0 931.8L783.9 933.4L784.4 934.8L782.7 935.8L780.1 937.0L776.8 938.9L774.7 940.3L774.2 943.3L775.6 946.4L776.6 949.5L776.3 951.1L774.9 952.3L773.5 950.6L772.0 947.6L771.4 945.4L769.7 943.6L768.0 944.3L764.2 943.3L762.8 943.3L760.7 945.4L759.3 945.2L756.7 944.7L752.7 944.3L751.0 945.0L748.4 946.6L746.6 947.8L746.8 950.9L746.0 954.5L745.8 957.3L746.6 959.4L748.7 962.5L751.7 964.3L754.8 963.6L756.2 963.4L758.4 961.5L758.6 959.6L759.8 958.9L764.3 958.4L764.8 959.2L763.8 960.8L763.1 963.7L762.4 965.5L761.7 968.2L762.9 968.4L764.8 968.4L766.2 968.1L768.8 968.4L771.3 969.8L770.7 971.5L770.2 975.0L770.2 976.9L771.4 978.5L772.8 979.7L774.9 980.5L776.8 979.5L778.4 979.2L781.3 980.7L780.3 983.3L779.4 981.8L779.2 981.1L777.5 980.2L776.6 981.4L775.9 983.0L775.1 983.3L773.9 982.3L772.5 981.4L771.6 981.9L770.2 981.1L769.4 979.5L768.3 978.5L767.8 979.2L766.6 977.9L766.6 976.6L764.2 974.1L763.5 973.1L759.6 972.2L757.9 971.7L755.5 970.7L752.4 968.1L750.3 967.7L748.0 968.6L745.4 967.7L742.1 966.7L739.2 965.3L738.2 964.8L734.5 962.9L732.1 960.4L732.8 959.9L732.8 958.5L730.9 955.6L728.3 953.3L726.2 951.4L725.5 949.5L723.1 947.4L721.2 945.9L719.4 942.4L718.6 941.5L716.3 940.7L716.3 942.1L718.6 945.5L720.6 948.5L722.4 950.7L724.1 953.9L724.8 956.1L724.3 955.2L721.0 953.2L720.8 950.7L718.6 949.3L715.8 947.6L717.5 947.3L716.5 944.1L714.6 943.8L713.2 940.5L712.2 939.1L710.1 937.0L706.4 936.0L704.0 932.4L703.0 930.3L700.9 928.2L699.7 925.8L700.0 923.3L699.3 921.6L699.8 920.6L700.4 915.7L699.2 911.9L702.4 912.4L703.1 913.6L703.1 911.7L701.8 910.3L699.0 909.1L695.2 907.6L693.8 907.1L693.1 905.3L690.8 903.1L689.4 901.7L687.0 899.9L683.9 897.9L680.4 897.0L678.5 894.9L676.1 893.5L673.0 892.7L670.0 891.8L665.7 891.6L662.8 890.9L660.5 890.1L657.9 890.9L656.3 891.8L652.2 893.2L652.7 892.5L653.6 890.6L655.3 889.7L651.8 890.4L649.2 892.7L648.4 894.4L644.9 896.1L640.6 898.7L636.2 900.1L632.1 900.8L633.6 899.6L637.1 898.7L640.2 897.0L643.2 894.1L640.6 893.5L638.0 894.1L634.2 894.2L634.5 891.8L630.2 890.9L627.6 888.7L629.3 886.6L632.8 886.3L634.5 885.7L636.2 884.2L635.9 883.3L632.8 884.0L628.6 884.0L623.9 882.1L627.6 880.9L631.9 881.1L634.8 880.5L633.5 879.8L630.2 878.5L626.2 877.4L627.2 876.4L632.8 875.0L638.0 873.4L644.0 872.2ZM781.3 980.7L782.2 981.9L784.4 977.8L785.6 976.7L786.7 976.2L788.9 975.9L791.0 974.3L791.7 975.3L791.2 976.7L792.2 977.1L794.0 974.7L794.5 976.0L797.4 977.6L799.3 977.4L800.9 977.4L803.2 978.3L804.0 977.6L807.8 977.3L809.6 979.3L810.4 981.1L813.0 982.3L814.4 984.0L816.5 985.4L819.6 985.6L824.6 987.3L826.0 988.2L828.6 992.7L828.6 995.5L831.2 996.1L831.6 997.5L833.8 996.8L838.5 1000.1L842.8 1000.8L846.0 1000.8L848.6 1002.2L851.2 1004.1L854.3 1004.8L855.0 1008.1L854.8 1009.8L853.4 1012.6L851.2 1014.7L848.6 1018.3L847.7 1021.5L847.5 1024.2L847.4 1026.5L845.4 1031.0L844.2 1033.9L842.5 1035.5L840.4 1035.7L837.8 1036.2L835.0 1037.4L831.2 1040.0L831.2 1043.6L829.2 1046.6L827.2 1049.5L825.0 1051.3L822.7 1054.2L820.1 1056.5L817.9 1056.3L815.1 1055.6L814.1 1055.8L816.3 1057.2L817.0 1058.7L815.6 1061.7L813.6 1062.7L809.6 1063.2L807.5 1063.2L807.8 1066.0L806.4 1066.9L802.6 1066.5L802.6 1068.6L805.1 1069.5L802.6 1070.0L802.6 1070.9L801.8 1073.8L798.3 1075.4L798.3 1076.4L801.1 1078.5L798.0 1081.3L796.6 1082.5L795.4 1085.2L796.7 1086.5L794.8 1086.8L792.4 1088.0L791.7 1089.2L787.9 1087.3L786.2 1085.9L784.4 1082.5L784.6 1079.0L784.4 1076.9L786.5 1074.7L788.8 1072.1L788.8 1069.5L787.6 1067.7L788.1 1064.8L787.7 1061.7L788.6 1059.6L789.6 1056.5L791.2 1053.0L791.5 1047.6L792.6 1042.8L793.3 1036.7L793.6 1030.8L793.4 1027.9L791.7 1026.3L790.5 1025.3L787.0 1023.5L785.0 1022.5L783.2 1019.5L781.7 1016.6L780.8 1015.0L779.1 1011.6L778.4 1009.8L776.8 1007.6L774.7 1006.2L774.7 1004.6L774.4 1003.9L775.8 1001.9L776.6 1001.0L776.8 999.6L774.9 999.6L775.4 997.4L775.8 996.5L777.2 994.1L778.7 992.7L781.7 989.0L781.0 986.3L781.1 985.1L780.3 983.3L781.3 980.7ZM796.4 1087.1L793.1 1087.3L794.0 1088.9L790.5 1090.1L794.0 1091.5L797.4 1092.2L800.0 1091.5L802.3 1090.6L799.2 1089.7L797.1 1088.0L796.4 1087.1ZM809.2 1085.6L812.2 1084.7L815.1 1085.1L813.4 1086.5L810.4 1086.3L809.2 1085.6ZM849.1 1089.4L852.0 1089.7L853.2 1090.8L850.3 1090.1L849.1 1089.4ZM786.7 1068.3L787.9 1068.6L787.7 1071.0L786.3 1070.7L786.7 1068.3ZM768.1 957.8L771.4 955.9L774.0 955.8L776.6 956.1L781.0 958.0L784.4 959.7L786.7 960.8L784.4 961.3L780.6 961.3L781.8 960.1L779.2 958.5L775.8 957.7L773.2 957.0L770.6 957.3L768.1 957.8ZM786.3 963.9L788.8 961.3L791.0 961.5L794.0 961.7L796.7 963.6L794.8 963.9L792.2 965.1L791.0 964.4L789.6 964.3L786.3 963.9ZM779.6 964.1L781.8 963.7L783.2 964.6L781.5 964.9L779.6 964.1ZM798.8 963.7L801.4 963.9L801.2 964.6L798.8 964.6L798.8 963.7ZM779.2 949.5L781.0 949.9L781.5 951.1M780.1 952.8L780.6 953.9L783.0 954.9M808.0 977.3L809.6 977.1L809.6 978.3L808.0 978.3L808.0 977.3ZM692.9 907.7L696.9 908.4L700.4 910.3L701.4 911.9L698.6 911.4L696.0 910.0L692.9 907.7ZM684.8 902.0L686.8 902.2L687.9 905.1L685.6 903.9L684.8 902.0ZM647.5 896.0L651.0 895.3L651.3 896.5L648.4 897.3L647.5 896.0ZM631.0 901.0L626.7 902.4L623.2 903.6M617.2 905.1L612.8 905.5L608.5 906.0M812.5 913.1L814.8 910.0L816.8 906.9L818.9 906.5L818.2 909.1L821.4 910.0L822.6 911.7L823.8 913.5L822.6 914.9L819.1 914.3L818.2 913.3L812.5 913.1ZM803.5 909.3L806.1 909.8L808.4 910.7M803.8 914.7L806.1 915.5L807.8 915.4M808.9 916.8L810.6 914.3L811.6 915.9L809.9 916.8L808.9 916.8ZM787.4 925.1L790.5 924.6M755.8 914.9L759.3 912.9L761.9 911.6L766.2 911.4L768.5 912.9L768.7 915.2L765.4 915.2L762.8 914.5L759.3 915.0L755.8 914.9ZM763.1 923.0L762.9 918.7L764.5 916.6L767.1 916.1L768.0 916.8L766.9 918.1L765.5 920.4L765.4 923.0L764.0 923.7L763.1 923.0ZM768.5 916.2L770.6 916.1L774.0 916.1L776.6 917.1L776.3 918.5L774.4 917.5L773.7 919.5L772.5 921.3L772.1 919.7L769.9 920.1L770.9 917.8L768.5 916.2ZM770.7 923.5L772.3 922.5L776.6 921.6L778.5 921.4L777.5 922.5L774.0 923.9L770.7 923.5ZM777.0 920.7L780.1 919.7L783.0 919.2L783.2 920.4L780.1 920.7L777.0 920.7ZM747.2 908.4L746.3 905.3L744.0 902.7M698.6 882.8L702.1 881.1L707.3 879.8L710.8 880.9L707.3 882.8L703.0 883.3L698.6 882.8ZM712.5 890.1L715.1 888.0L721.2 886.9L725.5 887.1L722.0 888.3L717.7 889.7L712.5 890.1ZM788.8 860.3L797.4 858.7L804.4 855.1L814.8 853.3L828.6 853.0L839.0 851.8L856.4 850.9L870.2 851.6L880.6 853.7L894.5 854.5L887.6 856.8L883.2 858.9L881.5 862.3L884.1 864.1L880.6 866.7L877.2 868.9L873.7 871.0L877.2 873.1L872.0 873.9L877.2 874.3L870.2 876.9L861.6 877.8L856.4 880.5L850.3 881.7L846.0 883.0L844.2 885.7L841.1 889.2L839.9 892.0L836.4 891.6L832.1 890.1L828.6 887.5L826.0 884.5L822.6 880.5L823.4 877.1L826.9 875.3L820.8 873.9L825.2 872.7L820.0 871.0L817.4 867.5L813.0 864.4L804.4 863.9L796.6 864.1L792.2 862.0L788.8 860.3ZM775.8 868.1L781.8 868.4L787.0 871.5L794.0 873.4L798.3 875.7L802.6 878.1L808.7 880.0L805.2 883.1L802.6 885.9L803.0 888.9L797.4 888.0L800.9 886.6L796.6 885.4L791.4 886.6L787.0 884.3L780.1 884.0L787.0 882.3L787.9 879.7L789.6 878.3L783.6 877.4L779.2 874.5L773.2 874.8L766.2 874.3L761.0 872.9L759.3 870.1L762.8 868.1L768.0 868.7L773.2 868.1L775.8 868.1ZM764.5 882.8L768.0 881.7L769.7 882.6L774.9 884.5L771.4 886.1L767.1 886.1L764.5 884.9L764.5 882.8ZM712.5 869.1L717.7 868.6L726.4 869.6L733.3 869.3L733.3 872.2L739.4 874.3L738.5 876.4L733.3 876.9L728.1 876.4L719.4 877.2L714.2 876.2L711.6 874.1L719.4 873.9L710.8 872.7L709.0 871.5L712.5 869.1ZM697.8 871.2L702.1 867.9L707.3 867.0L714.2 868.2L709.0 870.7L705.6 872.0L701.2 872.6L697.8 871.2ZM738.5 867.9L743.7 867.7L747.2 869.3L747.2 871.3L742.0 871.5L738.5 870.1L738.5 867.9ZM749.8 867.5L755.8 867.4L758.4 868.9L754.1 871.0L749.8 870.0L749.8 867.5ZM742.8 875.7L746.3 874.6L749.8 876.4L745.4 876.9L742.8 875.7ZM712.5 865.5L717.7 863.7L724.6 863.5L731.6 864.1L731.6 865.8L724.6 866.7L717.7 866.1L712.5 865.5ZM735.0 863.5L742.0 862.9L746.3 864.1L745.4 865.8L738.5 865.6L735.0 863.5ZM748.9 862.9L755.8 862.9L761.0 864.8L768.0 864.6L776.6 864.8L776.6 866.3L768.0 866.7L759.3 866.5L755.0 864.9L748.9 862.9ZM757.6 854.5L768.0 853.0L785.3 851.9L802.6 852.3L807.8 853.3L800.9 855.4L792.2 857.8L783.6 858.9L784.4 860.6L778.4 862.0L777.5 863.5L769.7 863.4L761.0 863.4L762.8 860.9L768.0 859.7L763.6 858.0L766.2 856.3L757.6 854.5ZM748.9 857.1L754.1 854.9L762.8 856.3L764.5 858.0L759.3 860.1L754.1 859.2L748.9 857.1ZM735.0 860.1L742.0 858.9L747.2 860.1L742.0 861.3L735.0 860.1ZM702.1 863.5L709.0 861.8L715.1 862.9L712.5 864.2L705.6 864.4L702.1 863.5ZM174.6 1129.3L187.3 1130.7L208.1 1132.0L226.6 1131.5L242.8 1128.1L258.7 1123.5L272.2 1120.1L282.6 1118.9L291.3 1117.5L300.0 1118.3L308.6 1118.2L317.3 1117.8L326.0 1118.3L334.6 1118.7L343.3 1117.5L348.5 1116.3L353.7 1117.7L358.9 1117.5L364.1 1114.9L371.0 1114.0L378.0 1112.8L383.2 1111.2L388.4 1111.9L393.6 1113.5L400.5 1114.0L407.4 1114.7L412.6 1116.1L416.1 1120.1L419.6 1118.0L424.8 1116.6L428.2 1114.9L433.4 1113.1L440.4 1112.3L443.8 1112.8L450.8 1112.3L456.0 1112.1L464.6 1111.1L471.6 1111.4L478.5 1112.6L482.0 1111.9L487.2 1112.3L494.1 1112.8L501.0 1112.6L508.0 1111.9L513.2 1113.1L518.4 1111.9L525.3 1111.4L532.2 1112.3L537.4 1112.8L544.4 1114.2L551.3 1115.4L558.2 1116.1L565.2 1117.1L572.1 1119.2L579.0 1119.6L586.8 1120.9L586.0 1122.3L579.0 1124.9L575.6 1127.5L573.8 1129.3L569.5 1134.5L573.8 1140.0L599.8 1144.0L629.3 1143.1L661.4 1142.3L650.6 1140.0L648.0 1136.9L662.6 1135.2L644.0 1132.0L641.4 1129.3L656.0 1128.1L669.2 1126.7L687.9 1126.1L701.2 1122.7L712.0 1125.3L725.3 1125.3L738.7 1121.8L749.2 1121.3L760.0 1122.7L773.3 1121.3L783.9 1120.1L786.7 1117.3L797.3 1115.9L800.0 1111.9L806.1 1108.5L813.4 1105.3L820.0 1105.3L810.6 1109.3L804.0 1113.3L806.6 1120.1L808.0 1125.3L798.6 1129.3M798.6 1129.3L811.3 1130.7L832.1 1132.0L850.6 1131.5L866.8 1128.1L882.7 1123.5L896.2 1120.1L906.6 1118.9L915.3 1117.5L924.0 1118.3L932.6 1118.2L941.3 1117.8L950.0 1118.3L958.6 1118.7L967.3 1117.5L972.5 1116.3L977.7 1117.7L982.9 1117.5L988.1 1114.9L995.0 1114.0L1002.0 1112.8L1007.2 1111.2L1012.4 1111.9L1017.6 1113.5L1024.5 1114.0L1031.4 1114.7L1036.6 1116.1L1040.1 1120.1L1043.6 1118.0L1048.8 1116.6L1052.2 1114.9L1057.4 1113.1L1064.4 1112.3L1067.8 1112.8L1074.8 1112.3L1080.0 1112.1L1088.6 1111.1L1095.6 1111.4L1102.5 1112.6L1106.0 1111.9L1111.2 1112.3L1118.1 1112.8L1125.0 1112.6L1132.0 1111.9L1137.2 1113.1L1142.4 1111.9L1149.3 1111.4L1156.2 1112.3L1161.4 1112.8L1168.4 1114.2L1175.3 1115.4L1182.2 1116.1L1189.2 1117.1L1196.1 1119.2L1203.0 1119.6L1210.8 1120.9L1210.0 1122.3L1203.0 1124.9L1199.6 1127.5L1197.8 1129.3L1193.5 1134.5L1197.8 1140.0L1223.8 1144.0L1253.3 1143.1L1285.4 1142.3L1274.6 1140.0L1272.0 1136.9L1286.6 1135.2L1268.0 1132.0L1265.4 1129.3L1280.0 1128.1L1293.2 1126.7L1311.9 1126.1L1325.2 1122.7L1336.0 1125.3L1349.3 1125.3L1362.7 1121.8L1373.2 1121.3L1384.0 1122.7L1397.3 1121.3L1407.9 1120.1L1410.7 1117.3L1421.3 1115.9L1424.0 1111.9L1430.1 1108.5L1437.4 1105.3L1444.0 1105.3L1434.6 1109.3L1428.0 1113.3L1430.6 1120.1L1432.0 1125.3L1422.6 1129.3M632.8 1132.7L638.0 1132.4L638.8 1134.1L634.5 1134.5ZM785.3 1115.4L792.2 1115.2L795.7 1118.0L795.7 1120.6L790.5 1121.6L785.3 1118.9L785.3 1115.4ZM738.5 1120.6L745.4 1120.3L748.9 1121.1M825.2 1133.6L833.8 1131.9L837.3 1131.5M346.2 996.3L348.5 995.1L350.6 996.3L349.9 999.3L348.2 1000.3L346.4 998.4L346.2 996.3ZM342.1 1001.7L342.6 1005.3L344.5 1010.5M350.2 1012.4L351.3 1015.7L351.8 1020.4M383.7 974.0L385.8 974.1M410.6 1080.7L413.2 1080.9L413.2 1081.8L410.9 1081.9L410.6 1080.7ZM644.9 960.8L646.6 961.7L645.6 962.9L644.9 961.8L644.9 960.8ZM374.8 875.7L377.6 875.9L376.6 876.5"/></defs><g clip-path="url(#cc0)"><use href="#coastp" transform="translate(0 -792.0)" fill="none" stroke="#000" stroke-width="1.0" stroke-linejoin="round"/></g>
<clipPath id="cc1"><rect x="288.0" y="443.8" width="624.0" height="312"/></clipPath><g clip-path="url(#cc1)"><use href="#coastp" transform="translate(0 -396.0)" fill="none" stroke="#000" stroke-width="1.0" stroke-linejoin="round"/></g>
<clipPath id="cc2"><rect x="288.0" y="839.8" width="624.0" height="312"/></clipPath><g clip-path="url(#cc2)"><use href="#coastp" transform="translate(0 0.0)" fill="none" stroke="#000" stroke-width="1.8" stroke-linejoin="round"/></g>
<path d="M308.63 47.8v-5.4M308.63 359.8v5.4M325.97 47.8v-5.4M325.97 359.8v5.4M360.63 47.8v-5.4M360.63 359.8v5.4M377.97 47.8v-5.4M377.97 359.8v5.4M412.63 47.8v-5.4M412.63 359.8v5.4M429.97 47.8v-5.4M429.97 359.8v5.4M464.63 47.8v-5.4M464.63 359.8v5.4M481.97 47.8v-5.4M481.97 359.8v5.4M516.63 47.8v-5.4M516.63 359.8v5.4M533.97 47.8v-5.4M533.97 359.8v5.4M568.63 47.8v-5.4M568.63 359.8v5.4M585.97 47.8v-5.4M585.97 359.8v5.4M620.63 47.8v-5.4M620.63 359.8v5.4M637.97 47.8v-5.4M637.97 359.8v5.4M672.63 47.8v-5.4M672.63 359.8v5.4M689.97 47.8v-5.4M689.97 359.8v5.4M724.63 47.8v-5.4M724.63 359.8v5.4M741.97 47.8v-5.4M741.97 359.8v5.4M776.63 47.8v-5.4M776.63 359.8v5.4M793.97 47.8v-5.4M793.97 359.8v5.4M828.63 47.8v-5.4M828.63 359.8v5.4M845.97 47.8v-5.4M845.97 359.8v5.4M880.63 47.8v-5.4M880.63 359.8v5.4M897.97 47.8v-5.4M897.97 359.8v5.4M288.0 342.47h-5.4M912.0 342.47h5.4M288.0 325.13h-5.4M912.0 325.13h5.4M288.0 290.47h-5.4M912.0 290.47h5.4M288.0 273.13h-5.4M912.0 273.13h5.4M288.0 238.47h-5.4M912.0 238.47h5.4M288.0 221.13h-5.4M912.0 221.13h5.4M288.0 186.47h-5.4M912.0 186.47h5.4M288.0 169.13h-5.4M912.0 169.13h5.4M288.0 134.47h-5.4M912.0 134.47h5.4M288.0 117.13h-5.4M912.0 117.13h5.4M288.0 82.47h-5.4M912.0 82.47h5.4M288.0 65.13h-5.4M912.0 65.13h5.4" stroke="#5a5a5a" stroke-width="0.8" fill="none"/>
<path d="M291.30 47.8v-10.8M291.30 359.8v10.8M343.30 47.8v-10.8M343.30 359.8v10.8M395.30 47.8v-10.8M395.30 359.8v10.8M447.30 47.8v-10.8M447.30 359.8v10.8M499.30 47.8v-10.8M499.30 359.8v10.8M551.30 47.8v-10.8M551.30 359.8v10.8M603.30 47.8v-10.8M603.30 359.8v10.8M655.30 47.8v-10.8M655.30 359.8v10.8M707.30 47.8v-10.8M707.30 359.8v10.8M759.30 47.8v-10.8M759.30 359.8v10.8M811.30 47.8v-10.8M811.30 359.8v10.8M863.30 47.8v-10.8M863.30 359.8v10.8M288.0 359.80h-10.8M912.0 359.80h10.8M288.0 307.80h-10.8M912.0 307.80h10.8M288.0 255.80h-10.8M912.0 255.80h10.8M288.0 203.80h-10.8M912.0 203.80h10.8M288.0 151.80h-10.8M912.0 151.80h10.8M288.0 99.80h-10.8M912.0 99.80h10.8M288.0 47.80h-10.8M912.0 47.80h10.8" stroke="#000" stroke-width="1.25" fill="none"/>
<rect x="288.0" y="47.8" width="624.0" height="312.0" fill="none" stroke="#5c5c5c" stroke-width="1.8"/>
<text x="291.30" y="389.7" text-anchor="middle" class="t12">0</text>
<text x="343.30" y="389.7" text-anchor="middle" class="t12">30E</text>
<text x="395.30" y="389.7" text-anchor="middle" class="t12">60E</text>
<text x="447.30" y="389.7" text-anchor="middle" class="t12">90E</text>
<text x="499.30" y="389.7" text-anchor="middle" class="t12">120E</text>
<text x="551.30" y="389.7" text-anchor="middle" class="t12">150E</text>
<text x="603.30" y="389.7" text-anchor="middle" class="t12">180</text>
<text x="655.30" y="389.7" text-anchor="middle" class="t12">150W</text>
<text x="707.30" y="389.7" text-anchor="middle" class="t12">120W</text>
<text x="759.30" y="389.7" text-anchor="middle" class="t12">90W</text>
<text x="811.30" y="389.7" text-anchor="middle" class="t12">60W</text>
<text x="863.30" y="389.7" text-anchor="middle" class="t12">30W</text>
<text x="269" y="52.9" text-anchor="end" class="t12">90N</text>
<text x="269" y="104.9" text-anchor="end" class="t12">60N</text>
<text x="269" y="156.9" text-anchor="end" class="t12">30N</text>
<text x="264.5" y="208.9" text-anchor="middle" class="t12">0</text>
<text x="269" y="260.9" text-anchor="end" class="t12">30S</text>
<text x="269" y="312.9" text-anchor="end" class="t12">60S</text>
<text x="269" y="364.9" text-anchor="end" class="t12">90S</text>
<path d="M308.63 443.8v-5.4M308.63 755.8v5.4M325.97 443.8v-5.4M325.97 755.8v5.4M360.63 443.8v-5.4M360.63 755.8v5.4M377.97 443.8v-5.4M377.97 755.8v5.4M412.63 443.8v-5.4M412.63 755.8v5.4M429.97 443.8v-5.4M429.97 755.8v5.4M464.63 443.8v-5.4M464.63 755.8v5.4M481.97 443.8v-5.4M481.97 755.8v5.4M516.63 443.8v-5.4M516.63 755.8v5.4M533.97 443.8v-5.4M533.97 755.8v5.4M568.63 443.8v-5.4M568.63 755.8v5.4M585.97 443.8v-5.4M585.97 755.8v5.4M620.63 443.8v-5.4M620.63 755.8v5.4M637.97 443.8v-5.4M637.97 755.8v5.4M672.63 443.8v-5.4M672.63 755.8v5.4M689.97 443.8v-5.4M689.97 755.8v5.4M724.63 443.8v-5.4M724.63 755.8v5.4M741.97 443.8v-5.4M741.97 755.8v5.4M776.63 443.8v-5.4M776.63 755.8v5.4M793.97 443.8v-5.4M793.97 755.8v5.4M828.63 443.8v-5.4M828.63 755.8v5.4M845.97 443.8v-5.4M845.97 755.8v5.4M880.63 443.8v-5.4M880.63 755.8v5.4M897.97 443.8v-5.4M897.97 755.8v5.4M288.0 738.47h-5.4M912.0 738.47h5.4M288.0 721.13h-5.4M912.0 721.13h5.4M288.0 686.47h-5.4M912.0 686.47h5.4M288.0 669.13h-5.4M912.0 669.13h5.4M288.0 634.47h-5.4M912.0 634.47h5.4M288.0 617.13h-5.4M912.0 617.13h5.4M288.0 582.47h-5.4M912.0 582.47h5.4M288.0 565.13h-5.4M912.0 565.13h5.4M288.0 530.47h-5.4M912.0 530.47h5.4M288.0 513.13h-5.4M912.0 513.13h5.4M288.0 478.47h-5.4M912.0 478.47h5.4M288.0 461.13h-5.4M912.0 461.13h5.4" stroke="#5a5a5a" stroke-width="0.8" fill="none"/>
<path d="M291.30 443.8v-10.8M291.30 755.8v10.8M343.30 443.8v-10.8M343.30 755.8v10.8M395.30 443.8v-10.8M395.30 755.8v10.8M447.30 443.8v-10.8M447.30 755.8v10.8M499.30 443.8v-10.8M499.30 755.8v10.8M551.30 443.8v-10.8M551.30 755.8v10.8M603.30 443.8v-10.8M603.30 755.8v10.8M655.30 443.8v-10.8M655.30 755.8v10.8M707.30 443.8v-10.8M707.30 755.8v10.8M759.30 443.8v-10.8M759.30 755.8v10.8M811.30 443.8v-10.8M811.30 755.8v10.8M863.30 443.8v-10.8M863.30 755.8v10.8M288.0 755.80h-10.8M912.0 755.80h10.8M288.0 703.80h-10.8M912.0 703.80h10.8M288.0 651.80h-10.8M912.0 651.80h10.8M288.0 599.80h-10.8M912.0 599.80h10.8M288.0 547.80h-10.8M912.0 547.80h10.8M288.0 495.80h-10.8M912.0 495.80h10.8M288.0 443.80h-10.8M912.0 443.80h10.8" stroke="#000" stroke-width="1.25" fill="none"/>
<rect x="288.0" y="443.8" width="624.0" height="312.0" fill="none" stroke="#5c5c5c" stroke-width="1.8"/>
<text x="291.30" y="785.7" text-anchor="middle" class="t12">0</text>
<text x="343.30" y="785.7" text-anchor="middle" class="t12">30E</text>
<text x="395.30" y="785.7" text-anchor="middle" class="t12">60E</text>
<text x="447.30" y="785.7" text-anchor="middle" class="t12">90E</text>
<text x="499.30" y="785.7" text-anchor="middle" class="t12">120E</text>
<text x="551.30" y="785.7" text-anchor="middle" class="t12">150E</text>
<text x="603.30" y="785.7" text-anchor="middle" class="t12">180</text>
<text x="655.30" y="785.7" text-anchor="middle" class="t12">150W</text>
<text x="707.30" y="785.7" text-anchor="middle" class="t12">120W</text>
<text x="759.30" y="785.7" text-anchor="middle" class="t12">90W</text>
<text x="811.30" y="785.7" text-anchor="middle" class="t12">60W</text>
<text x="863.30" y="785.7" text-anchor="middle" class="t12">30W</text>
<text x="269" y="448.9" text-anchor="end" class="t12">90N</text>
<text x="269" y="500.9" text-anchor="end" class="t12">60N</text>
<text x="269" y="552.9" text-anchor="end" class="t12">30N</text>
<text x="264.5" y="604.9" text-anchor="middle" class="t12">0</text>
<text x="269" y="656.9" text-anchor="end" class="t12">30S</text>
<text x="269" y="708.9" text-anchor="end" class="t12">60S</text>
<text x="269" y="760.9" text-anchor="end" class="t12">90S</text>
<path d="M308.63 839.8v-5.4M308.63 1151.8v5.4M325.97 839.8v-5.4M325.97 1151.8v5.4M360.63 839.8v-5.4M360.63 1151.8v5.4M377.97 839.8v-5.4M377.97 1151.8v5.4M412.63 839.8v-5.4M412.63 1151.8v5.4M429.97 839.8v-5.4M429.97 1151.8v5.4M464.63 839.8v-5.4M464.63 1151.8v5.4M481.97 839.8v-5.4M481.97 1151.8v5.4M516.63 839.8v-5.4M516.63 1151.8v5.4M533.97 839.8v-5.4M533.97 1151.8v5.4M568.63 839.8v-5.4M568.63 1151.8v5.4M585.97 839.8v-5.4M585.97 1151.8v5.4M620.63 839.8v-5.4M620.63 1151.8v5.4M637.97 839.8v-5.4M637.97 1151.8v5.4M672.63 839.8v-5.4M672.63 1151.8v5.4M689.97 839.8v-5.4M689.97 1151.8v5.4M724.63 839.8v-5.4M724.63 1151.8v5.4M741.97 839.8v-5.4M741.97 1151.8v5.4M776.63 839.8v-5.4M776.63 1151.8v5.4M793.97 839.8v-5.4M793.97 1151.8v5.4M828.63 839.8v-5.4M828.63 1151.8v5.4M845.97 839.8v-5.4M845.97 1151.8v5.4M880.63 839.8v-5.4M880.63 1151.8v5.4M897.97 839.8v-5.4M897.97 1151.8v5.4M288.0 1134.47h-5.4M912.0 1134.47h5.4M288.0 1117.13h-5.4M912.0 1117.13h5.4M288.0 1082.47h-5.4M912.0 1082.47h5.4M288.0 1065.13h-5.4M912.0 1065.13h5.4M288.0 1030.47h-5.4M912.0 1030.47h5.4M288.0 1013.13h-5.4M912.0 1013.13h5.4M288.0 978.47h-5.4M912.0 978.47h5.4M288.0 961.13h-5.4M912.0 961.13h5.4M288.0 926.47h-5.4M912.0 926.47h5.4M288.0 909.13h-5.4M912.0 909.13h5.4M288.0 874.47h-5.4M912.0 874.47h5.4M288.0 857.13h-5.4M912.0 857.13h5.4" stroke="#333" stroke-width="1.0" fill="none"/>
<path d="M291.30 839.8v-10.8M291.30 1151.8v10.8M343.30 839.8v-10.8M343.30 1151.8v10.8M395.30 839.8v-10.8M395.30 1151.8v10.8M447.30 839.8v-10.8M447.30 1151.8v10.8M499.30 839.8v-10.8M499.30 1151.8v10.8M551.30 839.8v-10.8M551.30 1151.8v10.8M603.30 839.8v-10.8M603.30 1151.8v10.8M655.30 839.8v-10.8M655.30 1151.8v10.8M707.30 839.8v-10.8M707.30 1151.8v10.8M759.30 839.8v-10.8M759.30 1151.8v10.8M811.30 839.8v-10.8M811.30 1151.8v10.8M863.30 839.8v-10.8M863.30 1151.8v10.8M288.0 1151.80h-10.8M912.0 1151.80h10.8M288.0 1099.80h-10.8M912.0 1099.80h10.8M288.0 1047.80h-10.8M912.0 1047.80h10.8M288.0 995.80h-10.8M912.0 995.80h10.8M288.0 943.80h-10.8M912.0 943.80h10.8M288.0 891.80h-10.8M912.0 891.80h10.8M288.0 839.80h-10.8M912.0 839.80h10.8" stroke="#000" stroke-width="1.6" fill="none"/>
<rect x="288.0" y="839.8" width="624.0" height="312.0" fill="none" stroke="#1a1a1a" stroke-width="2.0"/>
<text x="291.30" y="1181.7" text-anchor="middle" class="t12">0</text>
<text x="343.30" y="1181.7" text-anchor="middle" class="t12">30E</text>
<text x="395.30" y="1181.7" text-anchor="middle" class="t12">60E</text>
<text x="447.30" y="1181.7" text-anchor="middle" class="t12">90E</text>
<text x="499.30" y="1181.7" text-anchor="middle" class="t12">120E</text>
<text x="551.30" y="1181.7" text-anchor="middle" class="t12">150E</text>
<text x="603.30" y="1181.7" text-anchor="middle" class="t12">180</text>
<text x="655.30" y="1181.7" text-anchor="middle" class="t12">150W</text>
<text x="707.30" y="1181.7" text-anchor="middle" class="t12">120W</text>
<text x="759.30" y="1181.7" text-anchor="middle" class="t12">90W</text>
<text x="811.30" y="1181.7" text-anchor="middle" class="t12">60W</text>
<text x="863.30" y="1181.7" text-anchor="middle" class="t12">30W</text>
<text x="269" y="844.9" text-anchor="end" class="t12">90N</text>
<text x="269" y="896.9" text-anchor="end" class="t12">60N</text>
<text x="269" y="948.9" text-anchor="end" class="t12">30N</text>
<text x="264.5" y="1000.9" text-anchor="middle" class="t12">0</text>
<text x="269" y="1052.9" text-anchor="end" class="t12">30S</text>
<text x="269" y="1104.9" text-anchor="end" class="t12">60S</text>
<text x="269" y="1156.9" text-anchor="end" class="t12">90S</text>
<text x="600" y="28.6" text-anchor="middle" class="tt" textLength="374" lengthAdjust="spacingAndGlyphs">PCPLx39 cltm DJF 202001_204912</text>
<text x="600" y="424.6" text-anchor="middle" class="tt" textLength="374" lengthAdjust="spacingAndGlyphs">ISCCPd2 cltm DJF 198401_200912</text>
<text x="600" y="821.6" text-anchor="middle" class="tt" textLength="654" lengthAdjust="spacingAndGlyphs">PCPLx39 minus ISCCPd2 cltm DJF (Rxy=0.72, RMSE=11.97)</text>
<path d="M99.23 443.8v-4M99.23 755.8v4M102.66 443.8v-4M102.66 755.8v4M106.09 443.8v-4M106.09 755.8v4M109.51 443.8v-4M109.51 755.8v4M116.37 443.8v-4M116.37 755.8v4M119.80 443.8v-4M119.80 755.8v4M123.23 443.8v-4M123.23 755.8v4M126.66 443.8v-4M126.66 755.8v4M133.51 443.8v-4M133.51 755.8v4M136.94 443.8v-4M136.94 755.8v4M140.37 443.8v-4M140.37 755.8v4M143.80 443.8v-4M143.80 755.8v4M150.66 443.8v-4M150.66 755.8v4M154.09 443.8v-4M154.09 755.8v4M157.51 443.8v-4M157.51 755.8v4M160.94 443.8v-4M160.94 755.8v4M167.80 443.8v-4M167.80 755.8v4M171.23 443.8v-4M171.23 755.8v4M174.66 443.8v-4M174.66 755.8v4M178.09 443.8v-4M178.09 755.8v4M184.94 443.8v-4M184.94 755.8v4M188.37 443.8v-4M188.37 755.8v4M191.80 443.8v-4M191.80 755.8v4M195.23 443.8v-4M195.23 755.8v4M202.09 443.8v-4M202.09 755.8v4M205.51 443.8v-4M205.51 755.8v4M208.94 443.8v-4M208.94 755.8v4M212.37 443.8v-4M212.37 755.8v4M95.8 738.47h-4M215.8 738.47h4M95.8 721.13h-4M215.8 721.13h4M95.8 686.47h-4M215.8 686.47h4M95.8 669.13h-4M215.8 669.13h4M95.8 634.47h-4M215.8 634.47h4M95.8 617.13h-4M215.8 617.13h4M95.8 582.47h-4M215.8 582.47h4M95.8 565.13h-4M215.8 565.13h4M95.8 530.47h-4M215.8 530.47h4M95.8 513.13h-4M215.8 513.13h4M95.8 478.47h-4M215.8 478.47h4M95.8 461.13h-4M215.8 461.13h4" stroke="#4a4a4a" stroke-width="0.9" fill="none"/>
<path d="M95.80 443.8v-7.8M95.80 755.8v7.8M112.94 443.8v-7.8M112.94 755.8v7.8M130.09 443.8v-7.8M130.09 755.8v7.8M147.23 443.8v-7.8M147.23 755.8v7.8M164.37 443.8v-7.8M164.37 755.8v7.8M181.51 443.8v-7.8M181.51 755.8v7.8M198.66 443.8v-7.8M198.66 755.8v7.8M215.80 443.8v-7.8M215.80 755.8v7.8M95.8 755.80h-7.8M215.8 755.80h7.8M95.8 703.80h-7.8M215.8 703.80h7.8M95.8 651.80h-7.8M215.8 651.80h7.8M95.8 599.80h-7.8M215.8 599.80h7.8M95.8 547.80h-7.8M215.8 547.80h7.8M95.8 495.80h-7.8M215.8 495.80h7.8M95.8 443.80h-7.8M215.8 443.80h7.8" stroke="#333" stroke-width="1.5" fill="none"/>
<rect x="95.8" y="443.8" width="120.00000000000001" height="312.0" fill="none" stroke="#5c5c5c" stroke-width="1.8"/>
<text x="95.80" y="782.1" text-anchor="middle" class="t12">70</text>
<text x="112.94" y="782.1" text-anchor="middle" class="t12">60</text>
<text x="130.09" y="782.1" text-anchor="middle" class="t12">50</text>
<text x="147.23" y="782.1" text-anchor="middle" class="t12">40</text>
<text x="164.37" y="782.1" text-anchor="middle" class="t12">30</text>
<text x="181.51" y="782.1" text-anchor="middle" class="t12">20</text>
<text x="198.66" y="782.1" text-anchor="middle" class="t12">10</text>
<text x="215.80" y="782.1" text-anchor="middle" class="t12">0</text>
<text x="79.5" y="448.9" text-anchor="end" class="t12">90N</text>
<text x="79.5" y="500.9" text-anchor="end" class="t12">60N</text>
<text x="79.5" y="552.9" text-anchor="end" class="t12">30N</text>
<text x="75.5" y="604.9" text-anchor="middle" class="t12">0</text>
<text x="79.5" y="656.9" text-anchor="end" class="t12">30S</text>
<text x="79.5" y="708.9" text-anchor="end" class="t12">60S</text>
<text x="79.5" y="760.9" text-anchor="end" class="t12">90S</text>
<text x="155.8" y="435.2" text-anchor="middle" style="font-size:15.3px" textLength="86.5" lengthAdjust="spacingAndGlyphs">Zonal mean</text>
<path d="M100.60 839.8v-4M100.60 1151.8v4M105.40 839.8v-4M105.40 1151.8v4M110.20 839.8v-4M110.20 1151.8v4M115.00 839.8v-4M115.00 1151.8v4M124.60 839.8v-4M124.60 1151.8v4M129.40 839.8v-4M129.40 1151.8v4M134.20 839.8v-4M134.20 1151.8v4M139.00 839.8v-4M139.00 1151.8v4M148.60 839.8v-4M148.60 1151.8v4M153.40 839.8v-4M153.40 1151.8v4M158.20 839.8v-4M158.20 1151.8v4M163.00 839.8v-4M163.00 1151.8v4M172.60 839.8v-4M172.60 1151.8v4M177.40 839.8v-4M177.40 1151.8v4M182.20 839.8v-4M182.20 1151.8v4M187.00 839.8v-4M187.00 1151.8v4M196.60 839.8v-4M196.60 1151.8v4M201.40 839.8v-4M201.40 1151.8v4M206.20 839.8v-4M206.20 1151.8v4M211.00 839.8v-4M211.00 1151.8v4M95.8 1134.47h-4M215.8 1134.47h4M95.8 1117.13h-4M215.8 1117.13h4M95.8 1082.47h-4M215.8 1082.47h4M95.8 1065.13h-4M215.8 1065.13h4M95.8 1030.47h-4M215.8 1030.47h4M95.8 1013.13h-4M215.8 1013.13h4M95.8 978.47h-4M215.8 978.47h4M95.8 961.13h-4M215.8 961.13h4M95.8 926.47h-4M215.8 926.47h4M95.8 909.13h-4M215.8 909.13h4M95.8 874.47h-4M215.8 874.47h4M95.8 857.13h-4M215.8 857.13h4" stroke="#4a4a4a" stroke-width="0.9" fill="none"/>
<path d="M95.80 839.8v-7.8M95.80 1151.8v7.8M119.80 839.8v-7.8M119.80 1151.8v7.8M143.80 839.8v-7.8M143.80 1151.8v7.8M167.80 839.8v-7.8M167.80 1151.8v7.8M191.80 839.8v-7.8M191.80 1151.8v7.8M215.80 839.8v-7.8M215.80 1151.8v7.8M95.8 1151.80h-7.8M215.8 1151.80h7.8M95.8 1099.80h-7.8M215.8 1099.80h7.8M95.8 1047.80h-7.8M215.8 1047.80h7.8M95.8 995.80h-7.8M215.8 995.80h7.8M95.8 943.80h-7.8M215.8 943.80h7.8M95.8 891.80h-7.8M215.8 891.80h7.8M95.8 839.80h-7.8M215.8 839.80h7.8" stroke="#333" stroke-width="1.5" fill="none"/>
<rect x="95.8" y="839.8" width="120.00000000000001" height="312.0" fill="none" stroke="#5c5c5c" stroke-width="1.8"/>
<text x="95.80" y="1178.1" text-anchor="middle" class="t12">30</text>
<text x="119.80" y="1178.1" text-anchor="middle" class="t12">20</text>
<text x="143.80" y="1178.1" text-anchor="middle" class="t12">10</text>
<text x="167.80" y="1178.1" text-anchor="middle" class="t12">0</text>
<text x="191.80" y="1178.1" text-anchor="middle" class="t12">-10</text>
<text x="215.80" y="1178.1" text-anchor="middle" class="t12">-20</text>
<text x="79.5" y="844.9" text-anchor="end" class="t12">90N</text>
<text x="79.5" y="896.9" text-anchor="end" class="t12">60N</text>
<text x="79.5" y="948.9" text-anchor="end" class="t12">30N</text>
<text x="75.5" y="1000.9" text-anchor="middle" class="t12">0</text>
<text x="79.5" y="1052.9" text-anchor="end" class="t12">30S</text>
<text x="79.5" y="1104.9" text-anchor="end" class="t12">60S</text>
<text x="79.5" y="1156.9" text-anchor="end" class="t12">90S</text>
<text x="155.8" y="831.2" text-anchor="middle" style="font-size:15.3px" textLength="86.5" lengthAdjust="spacingAndGlyphs">Zonal mean</text>
<path d="M133.2 448.0L134.9 453.0L138.4 458.0L142.0 462.2L143.4 465.8L142.0 470.7L139.8 477.1L138.4 482.8L135.9 488.4L134.9 495.5L134.2 500.5L136.3 506.1L140.6 511.8L146.2 516.1L152.6 521.0L155.4 526.7L159.7 533.1L165.4 538.7L172.4 543.7L180.9 547.9L188.0 551.5L195.1 555.7L200.8 560.7L203.6 566.4L205.0 573.4L203.6 579.1L199.4 583.4L193.7 586.9L188.7 591.9L187.3 596.0L188.0 600.3L183.8 605.9L180.7 612.7L185.2 617.3L190.9 621.5L194.4 626.5L196.5 631.4L196.2 638.5L195.4 647.0L195.1 655.5L193.7 662.6L189.4 668.3L182.4 673.2L172.4 678.9L161.1 684.6L149.8 690.9L142.7 697.3L139.6 704.4L141.3 710.8L145.5 716.4L150.5 721.4L152.6 724.9L158.3 729.9L156.9 734.2L157.6 738.4L155.4 743.4L158.0 747.6L158.0 751.6" fill="none" stroke="#FF0000" stroke-width="1.1" stroke-linejoin="round"/>
<path d="M105.1 448.0L106.5 452.3L110.1 457.0L118.6 460.1L127.1 463.6L134.2 467.2L138.7 470.0L138.1 474.3L138.7 478.5L139.8 483.5L139.1 487.0L142.7 492.0L144.8 496.9L148.3 501.9L150.0 506.1L150.5 509.7L152.6 513.9L156.9 518.9L162.5 523.9L168.2 528.1L172.4 533.1L175.3 538.0L179.5 543.0L182.4 547.9L185.2 552.2L190.9 556.4L195.8 560.7L199.4 565.7L200.8 570.6L200.5 575.6L198.7 579.8L194.4 583.4L188.7 586.9L184.5 590.5L183.5 594.7L183.8 596.0L185.9 601.7L186.9 608.8L187.7 617.3L189.4 624.3L191.6 632.8L193.7 641.3L194.4 649.8L193.0 656.9L188.0 664.0L180.9 671.1L171.0 678.9L162.5 686.0L151.9 695.2L148.3 702.3L145.2 708.7L148.3 717.2L159.7 721.4L171.0 725.7L179.5 729.9L185.2 734.9L189.4 740.5L194.4 746.9L203.6 751.9L212.1 755.8" fill="none" stroke="#000" stroke-width="1.9" stroke-dasharray="6.5 2.2" stroke-linejoin="round"/>
<path d="M167.9 844.2V1151.8" fill="none" stroke="#222" stroke-width="1.7" stroke-dasharray="5.5 1.6"/>
<path d="M207.6 844.0L206.4 853.0L196.5 856.8L185.2 861.0L172.2 866.0L170.3 871.0L167.5 876.6L163.2 883.3L157.6 888.0L154.0 892.2L149.5 896.5L149.5 900.7L151.9 905.0L154.0 909.2L156.9 913.5L158.0 917.7L154.0 922.0L150.9 926.2L150.0 930.5L153.3 935.4L155.7 940.0L162.5 943.2L171.0 947.5L173.6 952.4L174.6 957.4L173.1 962.4L173.6 968.0L174.6 973.7L174.1 978.7L172.7 983.6L174.6 987.9L173.9 992.0L171.7 996.3L167.5 1000.5L162.5 1004.0L159.4 1008.7L165.4 1012.5L171.7 1017.5L174.6 1022.5L175.7 1026.7L173.9 1033.1L171.0 1038.8L169.3 1044.4L170.3 1051.5L173.1 1057.2L174.8 1062.9L173.9 1068.5L170.3 1073.5L164.6 1078.4L159.7 1082.7L158.3 1089.8L155.4 1096.1L157.6 1100.4L161.1 1104.7L161.8 1108.9L163.9 1113.2L156.9 1117.0L144.1 1120.9L137.7 1125.9L128.5 1130.2L125.7 1134.4L117.9 1138.7L116.5 1143.3L105.1 1147.6" fill="none" stroke="#FF0000" stroke-width="1.1" stroke-linejoin="round"/>
<rect x="958.4" y="108.00" width="37.200000000000045" height="24.55" fill="#FF0000" stroke="#333" stroke-width="0.7"/>
<rect x="958.4" y="132.55" width="37.200000000000045" height="24.55" fill="#FF7800" stroke="#333" stroke-width="0.7"/>
<rect x="958.4" y="157.10" width="37.200000000000045" height="24.55" fill="#FFE100" stroke="#333" stroke-width="0.7"/>
<rect x="958.4" y="181.65" width="37.200000000000045" height="24.55" fill="#AFE60A" stroke="#333" stroke-width="0.7"/>
<rect x="958.4" y="206.20" width="37.200000000000045" height="24.55" fill="#3CC30F" stroke="#333" stroke-width="0.7"/>
<rect x="958.4" y="230.75" width="37.200000000000045" height="24.55" fill="#0A8C50" stroke="#333" stroke-width="0.7"/>
<rect x="958.4" y="255.30" width="37.200000000000045" height="24.55" fill="#0032B4" stroke="#333" stroke-width="0.7"/>
<rect x="958.4" y="279.85" width="37.200000000000045" height="24.55" fill="#1E1EFF" stroke="#333" stroke-width="0.7"/>
<rect x="958.4" y="304.40" width="37.200000000000045" height="24.55" fill="#9191FF" stroke="#333" stroke-width="0.7"/>
<rect x="958.4" y="328.95" width="37.200000000000045" height="24.55" fill="#FFFFFF" stroke="#333" stroke-width="0.7"/>
<text x="1017" y="139.2" text-anchor="middle" class="t18">80</text>
<text x="1017" y="163.7" text-anchor="middle" class="t18">70</text>
<text x="1017" y="188.2" text-anchor="middle" class="t18">60</text>
<text x="1017" y="212.8" text-anchor="middle" class="t18">50</text>
<text x="1017" y="237.3" text-anchor="middle" class="t18">40</text>
<text x="1017" y="261.9" text-anchor="middle" class="t18">30</text>
<text x="1017" y="286.5" text-anchor="middle" class="t18">20</text>
<text x="1017" y="311.0" text-anchor="middle" class="t18">10</text>
<text x="1017" y="335.6" text-anchor="middle" class="t18">0</text>
<text x="992.5" y="83.5" text-anchor="middle" class="t18">%</text>
<rect x="958.4" y="504.00" width="37.200000000000045" height="24.55" fill="#FF0000" stroke="#333" stroke-width="0.7"/>
<rect x="958.4" y="528.55" width="37.200000000000045" height="24.55" fill="#FF7800" stroke="#333" stroke-width="0.7"/>
<rect x="958.4" y="553.10" width="37.200000000000045" height="24.55" fill="#FFE100" stroke="#333" stroke-width="0.7"/>
<rect x="958.4" y="577.65" width="37.200000000000045" height="24.55" fill="#AFE60A" stroke="#333" stroke-width="0.7"/>
<rect x="958.4" y="602.20" width="37.200000000000045" height="24.55" fill="#3CC30F" stroke="#333" stroke-width="0.7"/>
<rect x="958.4" y="626.75" width="37.200000000000045" height="24.55" fill="#0A8C50" stroke="#333" stroke-width="0.7"/>
<rect x="958.4" y="651.30" width="37.200000000000045" height="24.55" fill="#0032B4" stroke="#333" stroke-width="0.7"/>
<rect x="958.4" y="675.85" width="37.200000000000045" height="24.55" fill="#1E1EFF" stroke="#333" stroke-width="0.7"/>
<rect x="958.4" y="700.40" width="37.200000000000045" height="24.55" fill="#9191FF" stroke="#333" stroke-width="0.7"/>
<rect x="958.4" y="724.95" width="37.200000000000045" height="24.55" fill="#FFFFFF" stroke="#333" stroke-width="0.7"/>
<text x="1017" y="535.1" text-anchor="middle" class="t18">80</text>
<text x="1017" y="559.7" text-anchor="middle" class="t18">70</text>
<text x="1017" y="584.2" text-anchor="middle" class="t18">60</text>
<text x="1017" y="608.8" text-anchor="middle" class="t18">50</text>
<text x="1017" y="633.4" text-anchor="middle" class="t18">40</text>
<text x="1017" y="657.9" text-anchor="middle" class="t18">30</text>
<text x="1017" y="682.5" text-anchor="middle" class="t18">20</text>
<text x="1017" y="707.0" text-anchor="middle" class="t18">10</text>
<text x="1017" y="731.6" text-anchor="middle" class="t18">0</text>
<text x="992.5" y="479.5" text-anchor="middle" class="t18">%</text>
<rect x="955.2" y="900.00" width="37.39999999999998" height="20.50" fill="#FF69B4" stroke="#333" stroke-width="0.7"/>
<rect x="955.2" y="920.50" width="37.39999999999998" height="20.50" fill="#C80000" stroke="#333" stroke-width="0.7"/>
<rect x="955.2" y="941.00" width="37.39999999999998" height="20.50" fill="#FF0000" stroke="#333" stroke-width="0.7"/>
<rect x="955.2" y="961.50" width="37.39999999999998" height="20.50" fill="#FFAA00" stroke="#333" stroke-width="0.7"/>
<rect x="955.2" y="982.00" width="37.39999999999998" height="20.50" fill="#FFE033" stroke="#333" stroke-width="0.7"/>
<rect x="955.2" y="1002.50" width="37.39999999999998" height="20.50" fill="#FFFFFF" stroke="#333" stroke-width="0.7"/>
<rect x="955.2" y="1023.00" width="37.39999999999998" height="20.50" fill="#FFFFFF" stroke="#333" stroke-width="0.7"/>
<rect x="955.2" y="1043.50" width="37.39999999999998" height="20.50" fill="#A6D5FF" stroke="#333" stroke-width="0.7"/>
<rect x="955.2" y="1064.00" width="37.39999999999998" height="20.50" fill="#00BFFF" stroke="#333" stroke-width="0.7"/>
<rect x="955.2" y="1084.50" width="37.39999999999998" height="20.50" fill="#4169E1" stroke="#333" stroke-width="0.7"/>
<rect x="955.2" y="1105.00" width="37.39999999999998" height="20.50" fill="#0000CD" stroke="#333" stroke-width="0.7"/>
<rect x="955.2" y="1125.50" width="37.39999999999998" height="20.50" fill="#8A2BE2" stroke="#333" stroke-width="0.7"/>
<text x="1017" y="927.1" text-anchor="middle" class="t18">50</text>
<text x="1017" y="947.6" text-anchor="middle" class="t18">40</text>
<text x="1017" y="968.1" text-anchor="middle" class="t18">30</text>
<text x="1017" y="988.6" text-anchor="middle" class="t18">20</text>
<text x="1017" y="1009.1" text-anchor="middle" class="t18">10</text>
<text x="1017" y="1029.6" text-anchor="middle" class="t18">0</text>
<text x="1017" y="1050.1" text-anchor="middle" class="t18">-10</text>
<text x="1017" y="1070.6" text-anchor="middle" class="t18">-20</text>
<text x="1017" y="1091.1" text-anchor="middle" class="t18">-30</text>
<text x="1017" y="1111.6" text-anchor="middle" class="t18">-40</text>
<text x="1017" y="1132.1" text-anchor="middle" class="t18">-50</text>
<text x="993" y="875.5" text-anchor="middle" class="t18">%</text>
<text x="1061" y="1122.8" class="t18" textLength="86" lengthAdjust="spacingAndGlyphs">Max=59.3</text>
<text x="1061" y="1146" class="t18" textLength="87" lengthAdjust="spacingAndGlyphs">Min=-36.7</text>
</svg></body></html>
